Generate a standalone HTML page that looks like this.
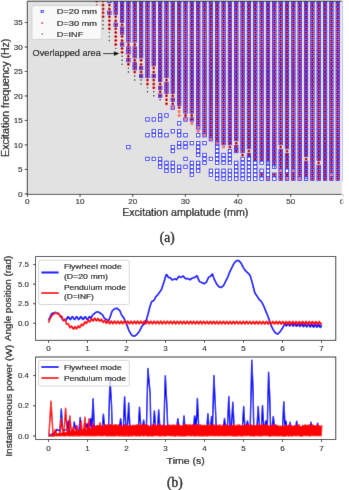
<!DOCTYPE html><html><head><meta charset="utf-8"><style>html,body{margin:0;padding:0;background:#fff;}svg{display:block;font-family:"Liberation Sans",sans-serif;will-change:transform;}</style></head><body><svg width="349" height="490" viewBox="0 0 349 490"><defs><clipPath id="ca"><rect x="27.4" y="1.0" width="315.6" height="193.1"/></clipPath><clipPath id="cb1"><rect x="35.6" y="256.6" width="300.2" height="83.7"/></clipPath><clipPath id="cb2"><rect x="35.6" y="357.0" width="300.2" height="82.4"/></clipPath><filter id="cv" x="0" y="0" width="349" height="490" filterUnits="userSpaceOnUse" primitiveUnits="userSpaceOnUse"><feConvolveMatrix order="3" kernelMatrix="0.0052 0.0619 0.0052 0.0619 0.7314 0.0619 0.0052 0.0619 0.0052" edgeMode="duplicate" preserveAlpha="true"/></filter></defs><g filter="url(#cv)"><rect width="349" height="490" fill="#fff"/><rect x="27.3" y="1.2" width="315.7" height="193.2" fill="#e2e2e2"/><g clip-path="url(#ca)"><g fill="#fff" stroke="#0000ff" stroke-width="0.75"><rect x="107.67" y="-0.70" width="3.4" height="3.4"/><rect x="107.67" y="11.14" width="3.4" height="3.4"/><rect x="114.02" y="-0.70" width="3.4" height="3.4"/><rect x="114.02" y="3.25" width="3.4" height="3.4"/><rect x="114.02" y="7.20" width="3.4" height="3.4"/><rect x="114.02" y="11.14" width="3.4" height="3.4"/><rect x="114.02" y="22.99" width="3.4" height="3.4"/><rect x="120.36" y="-0.70" width="3.4" height="3.4"/><rect x="120.36" y="3.25" width="3.4" height="3.4"/><rect x="120.36" y="7.20" width="3.4" height="3.4"/><rect x="120.36" y="11.14" width="3.4" height="3.4"/><rect x="120.36" y="15.09" width="3.4" height="3.4"/><rect x="120.36" y="19.04" width="3.4" height="3.4"/><rect x="120.36" y="26.94" width="3.4" height="3.4"/><rect x="120.36" y="30.88" width="3.4" height="3.4"/><rect x="120.36" y="42.73" width="3.4" height="3.4"/><rect x="126.70" y="-0.70" width="3.4" height="3.4"/><rect x="126.70" y="3.25" width="3.4" height="3.4"/><rect x="126.70" y="7.20" width="3.4" height="3.4"/><rect x="126.70" y="11.14" width="3.4" height="3.4"/><rect x="126.70" y="15.09" width="3.4" height="3.4"/><rect x="126.70" y="19.04" width="3.4" height="3.4"/><rect x="126.70" y="22.99" width="3.4" height="3.4"/><rect x="126.70" y="26.94" width="3.4" height="3.4"/><rect x="126.70" y="30.88" width="3.4" height="3.4"/><rect x="126.70" y="34.83" width="3.4" height="3.4"/><rect x="126.70" y="38.78" width="3.4" height="3.4"/><rect x="126.70" y="46.68" width="3.4" height="3.4"/><rect x="126.70" y="50.62" width="3.4" height="3.4"/><rect x="126.70" y="58.52" width="3.4" height="3.4"/><rect x="126.70" y="145.38" width="3.4" height="3.4"/><rect x="133.05" y="-0.70" width="3.4" height="3.4"/><rect x="133.05" y="3.25" width="3.4" height="3.4"/><rect x="133.05" y="7.20" width="3.4" height="3.4"/><rect x="133.05" y="11.14" width="3.4" height="3.4"/><rect x="133.05" y="15.09" width="3.4" height="3.4"/><rect x="133.05" y="19.04" width="3.4" height="3.4"/><rect x="133.05" y="22.99" width="3.4" height="3.4"/><rect x="133.05" y="26.94" width="3.4" height="3.4"/><rect x="133.05" y="30.88" width="3.4" height="3.4"/><rect x="133.05" y="34.83" width="3.4" height="3.4"/><rect x="133.05" y="38.78" width="3.4" height="3.4"/><rect x="133.05" y="46.68" width="3.4" height="3.4"/><rect x="133.05" y="50.62" width="3.4" height="3.4"/><rect x="133.05" y="54.57" width="3.4" height="3.4"/><rect x="133.05" y="62.47" width="3.4" height="3.4"/><rect x="133.05" y="66.42" width="3.4" height="3.4"/><rect x="139.39" y="-0.70" width="3.4" height="3.4"/><rect x="139.39" y="3.25" width="3.4" height="3.4"/><rect x="139.39" y="7.20" width="3.4" height="3.4"/><rect x="139.39" y="11.14" width="3.4" height="3.4"/><rect x="139.39" y="15.09" width="3.4" height="3.4"/><rect x="139.39" y="19.04" width="3.4" height="3.4"/><rect x="139.39" y="22.99" width="3.4" height="3.4"/><rect x="139.39" y="26.94" width="3.4" height="3.4"/><rect x="139.39" y="30.88" width="3.4" height="3.4"/><rect x="139.39" y="34.83" width="3.4" height="3.4"/><rect x="139.39" y="38.78" width="3.4" height="3.4"/><rect x="139.39" y="42.73" width="3.4" height="3.4"/><rect x="139.39" y="46.68" width="3.4" height="3.4"/><rect x="139.39" y="50.62" width="3.4" height="3.4"/><rect x="139.39" y="54.57" width="3.4" height="3.4"/><rect x="139.39" y="66.42" width="3.4" height="3.4"/><rect x="139.39" y="74.31" width="3.4" height="3.4"/><rect x="145.74" y="-0.70" width="3.4" height="3.4"/><rect x="145.74" y="3.25" width="3.4" height="3.4"/><rect x="145.74" y="7.20" width="3.4" height="3.4"/><rect x="145.74" y="11.14" width="3.4" height="3.4"/><rect x="145.74" y="15.09" width="3.4" height="3.4"/><rect x="145.74" y="19.04" width="3.4" height="3.4"/><rect x="145.74" y="22.99" width="3.4" height="3.4"/><rect x="145.74" y="26.94" width="3.4" height="3.4"/><rect x="145.74" y="30.88" width="3.4" height="3.4"/><rect x="145.74" y="34.83" width="3.4" height="3.4"/><rect x="145.74" y="38.78" width="3.4" height="3.4"/><rect x="145.74" y="42.73" width="3.4" height="3.4"/><rect x="145.74" y="46.68" width="3.4" height="3.4"/><rect x="145.74" y="50.62" width="3.4" height="3.4"/><rect x="145.74" y="54.57" width="3.4" height="3.4"/><rect x="145.74" y="58.52" width="3.4" height="3.4"/><rect x="145.74" y="62.47" width="3.4" height="3.4"/><rect x="145.74" y="66.42" width="3.4" height="3.4"/><rect x="145.74" y="70.36" width="3.4" height="3.4"/><rect x="145.74" y="74.31" width="3.4" height="3.4"/><rect x="145.74" y="117.74" width="3.4" height="3.4"/><rect x="145.74" y="133.53" width="3.4" height="3.4"/><rect x="145.74" y="157.22" width="3.4" height="3.4"/><rect x="152.08" y="-0.70" width="3.4" height="3.4"/><rect x="152.08" y="3.25" width="3.4" height="3.4"/><rect x="152.08" y="7.20" width="3.4" height="3.4"/><rect x="152.08" y="11.14" width="3.4" height="3.4"/><rect x="152.08" y="15.09" width="3.4" height="3.4"/><rect x="152.08" y="19.04" width="3.4" height="3.4"/><rect x="152.08" y="22.99" width="3.4" height="3.4"/><rect x="152.08" y="26.94" width="3.4" height="3.4"/><rect x="152.08" y="30.88" width="3.4" height="3.4"/><rect x="152.08" y="34.83" width="3.4" height="3.4"/><rect x="152.08" y="38.78" width="3.4" height="3.4"/><rect x="152.08" y="42.73" width="3.4" height="3.4"/><rect x="152.08" y="46.68" width="3.4" height="3.4"/><rect x="152.08" y="50.62" width="3.4" height="3.4"/><rect x="152.08" y="54.57" width="3.4" height="3.4"/><rect x="152.08" y="58.52" width="3.4" height="3.4"/><rect x="152.08" y="62.47" width="3.4" height="3.4"/><rect x="152.08" y="74.31" width="3.4" height="3.4"/><rect x="152.08" y="117.74" width="3.4" height="3.4"/><rect x="152.08" y="129.58" width="3.4" height="3.4"/><rect x="152.08" y="133.53" width="3.4" height="3.4"/><rect x="152.08" y="157.22" width="3.4" height="3.4"/><rect x="158.42" y="-0.70" width="3.4" height="3.4"/><rect x="158.42" y="3.25" width="3.4" height="3.4"/><rect x="158.42" y="7.20" width="3.4" height="3.4"/><rect x="158.42" y="11.14" width="3.4" height="3.4"/><rect x="158.42" y="15.09" width="3.4" height="3.4"/><rect x="158.42" y="19.04" width="3.4" height="3.4"/><rect x="158.42" y="22.99" width="3.4" height="3.4"/><rect x="158.42" y="26.94" width="3.4" height="3.4"/><rect x="158.42" y="30.88" width="3.4" height="3.4"/><rect x="158.42" y="34.83" width="3.4" height="3.4"/><rect x="158.42" y="38.78" width="3.4" height="3.4"/><rect x="158.42" y="42.73" width="3.4" height="3.4"/><rect x="158.42" y="46.68" width="3.4" height="3.4"/><rect x="158.42" y="50.62" width="3.4" height="3.4"/><rect x="158.42" y="54.57" width="3.4" height="3.4"/><rect x="158.42" y="58.52" width="3.4" height="3.4"/><rect x="158.42" y="62.47" width="3.4" height="3.4"/><rect x="158.42" y="66.42" width="3.4" height="3.4"/><rect x="158.42" y="70.36" width="3.4" height="3.4"/><rect x="158.42" y="74.31" width="3.4" height="3.4"/><rect x="158.42" y="78.26" width="3.4" height="3.4"/><rect x="158.42" y="86.16" width="3.4" height="3.4"/><rect x="158.42" y="94.05" width="3.4" height="3.4"/><rect x="158.42" y="113.79" width="3.4" height="3.4"/><rect x="158.42" y="117.74" width="3.4" height="3.4"/><rect x="158.42" y="129.58" width="3.4" height="3.4"/><rect x="158.42" y="133.53" width="3.4" height="3.4"/><rect x="158.42" y="157.22" width="3.4" height="3.4"/><rect x="158.42" y="161.17" width="3.4" height="3.4"/><rect x="158.42" y="165.12" width="3.4" height="3.4"/><rect x="164.77" y="-0.70" width="3.4" height="3.4"/><rect x="164.77" y="3.25" width="3.4" height="3.4"/><rect x="164.77" y="7.20" width="3.4" height="3.4"/><rect x="164.77" y="11.14" width="3.4" height="3.4"/><rect x="164.77" y="15.09" width="3.4" height="3.4"/><rect x="164.77" y="19.04" width="3.4" height="3.4"/><rect x="164.77" y="22.99" width="3.4" height="3.4"/><rect x="164.77" y="26.94" width="3.4" height="3.4"/><rect x="164.77" y="30.88" width="3.4" height="3.4"/><rect x="164.77" y="34.83" width="3.4" height="3.4"/><rect x="164.77" y="38.78" width="3.4" height="3.4"/><rect x="164.77" y="42.73" width="3.4" height="3.4"/><rect x="164.77" y="46.68" width="3.4" height="3.4"/><rect x="164.77" y="50.62" width="3.4" height="3.4"/><rect x="164.77" y="54.57" width="3.4" height="3.4"/><rect x="164.77" y="58.52" width="3.4" height="3.4"/><rect x="164.77" y="62.47" width="3.4" height="3.4"/><rect x="164.77" y="66.42" width="3.4" height="3.4"/><rect x="164.77" y="70.36" width="3.4" height="3.4"/><rect x="164.77" y="74.31" width="3.4" height="3.4"/><rect x="164.77" y="82.21" width="3.4" height="3.4"/><rect x="164.77" y="86.16" width="3.4" height="3.4"/><rect x="164.77" y="90.10" width="3.4" height="3.4"/><rect x="164.77" y="113.79" width="3.4" height="3.4"/><rect x="164.77" y="133.53" width="3.4" height="3.4"/><rect x="164.77" y="161.17" width="3.4" height="3.4"/><rect x="164.77" y="165.12" width="3.4" height="3.4"/><rect x="164.77" y="169.06" width="3.4" height="3.4"/><rect x="171.11" y="-0.70" width="3.4" height="3.4"/><rect x="171.11" y="3.25" width="3.4" height="3.4"/><rect x="171.11" y="7.20" width="3.4" height="3.4"/><rect x="171.11" y="11.14" width="3.4" height="3.4"/><rect x="171.11" y="15.09" width="3.4" height="3.4"/><rect x="171.11" y="19.04" width="3.4" height="3.4"/><rect x="171.11" y="22.99" width="3.4" height="3.4"/><rect x="171.11" y="26.94" width="3.4" height="3.4"/><rect x="171.11" y="30.88" width="3.4" height="3.4"/><rect x="171.11" y="34.83" width="3.4" height="3.4"/><rect x="171.11" y="38.78" width="3.4" height="3.4"/><rect x="171.11" y="42.73" width="3.4" height="3.4"/><rect x="171.11" y="46.68" width="3.4" height="3.4"/><rect x="171.11" y="50.62" width="3.4" height="3.4"/><rect x="171.11" y="54.57" width="3.4" height="3.4"/><rect x="171.11" y="58.52" width="3.4" height="3.4"/><rect x="171.11" y="62.47" width="3.4" height="3.4"/><rect x="171.11" y="66.42" width="3.4" height="3.4"/><rect x="171.11" y="70.36" width="3.4" height="3.4"/><rect x="171.11" y="74.31" width="3.4" height="3.4"/><rect x="171.11" y="78.26" width="3.4" height="3.4"/><rect x="171.11" y="82.21" width="3.4" height="3.4"/><rect x="171.11" y="86.16" width="3.4" height="3.4"/><rect x="171.11" y="90.10" width="3.4" height="3.4"/><rect x="171.11" y="98.00" width="3.4" height="3.4"/><rect x="171.11" y="105.90" width="3.4" height="3.4"/><rect x="171.11" y="129.58" width="3.4" height="3.4"/><rect x="171.11" y="145.38" width="3.4" height="3.4"/><rect x="171.11" y="149.32" width="3.4" height="3.4"/><rect x="171.11" y="161.17" width="3.4" height="3.4"/><rect x="171.11" y="165.12" width="3.4" height="3.4"/><rect x="171.11" y="169.06" width="3.4" height="3.4"/><rect x="177.46" y="-0.70" width="3.4" height="3.4"/><rect x="177.46" y="3.25" width="3.4" height="3.4"/><rect x="177.46" y="7.20" width="3.4" height="3.4"/><rect x="177.46" y="11.14" width="3.4" height="3.4"/><rect x="177.46" y="15.09" width="3.4" height="3.4"/><rect x="177.46" y="19.04" width="3.4" height="3.4"/><rect x="177.46" y="22.99" width="3.4" height="3.4"/><rect x="177.46" y="26.94" width="3.4" height="3.4"/><rect x="177.46" y="30.88" width="3.4" height="3.4"/><rect x="177.46" y="34.83" width="3.4" height="3.4"/><rect x="177.46" y="38.78" width="3.4" height="3.4"/><rect x="177.46" y="42.73" width="3.4" height="3.4"/><rect x="177.46" y="46.68" width="3.4" height="3.4"/><rect x="177.46" y="50.62" width="3.4" height="3.4"/><rect x="177.46" y="54.57" width="3.4" height="3.4"/><rect x="177.46" y="58.52" width="3.4" height="3.4"/><rect x="177.46" y="62.47" width="3.4" height="3.4"/><rect x="177.46" y="66.42" width="3.4" height="3.4"/><rect x="177.46" y="70.36" width="3.4" height="3.4"/><rect x="177.46" y="74.31" width="3.4" height="3.4"/><rect x="177.46" y="78.26" width="3.4" height="3.4"/><rect x="177.46" y="82.21" width="3.4" height="3.4"/><rect x="177.46" y="86.16" width="3.4" height="3.4"/><rect x="177.46" y="90.10" width="3.4" height="3.4"/><rect x="177.46" y="94.05" width="3.4" height="3.4"/><rect x="177.46" y="98.00" width="3.4" height="3.4"/><rect x="177.46" y="101.95" width="3.4" height="3.4"/><rect x="177.46" y="121.69" width="3.4" height="3.4"/><rect x="177.46" y="129.58" width="3.4" height="3.4"/><rect x="177.46" y="133.53" width="3.4" height="3.4"/><rect x="177.46" y="141.43" width="3.4" height="3.4"/><rect x="177.46" y="145.38" width="3.4" height="3.4"/><rect x="177.46" y="165.12" width="3.4" height="3.4"/><rect x="177.46" y="169.06" width="3.4" height="3.4"/><rect x="183.80" y="-0.70" width="3.4" height="3.4"/><rect x="183.80" y="3.25" width="3.4" height="3.4"/><rect x="183.80" y="7.20" width="3.4" height="3.4"/><rect x="183.80" y="11.14" width="3.4" height="3.4"/><rect x="183.80" y="15.09" width="3.4" height="3.4"/><rect x="183.80" y="19.04" width="3.4" height="3.4"/><rect x="183.80" y="22.99" width="3.4" height="3.4"/><rect x="183.80" y="26.94" width="3.4" height="3.4"/><rect x="183.80" y="30.88" width="3.4" height="3.4"/><rect x="183.80" y="34.83" width="3.4" height="3.4"/><rect x="183.80" y="38.78" width="3.4" height="3.4"/><rect x="183.80" y="42.73" width="3.4" height="3.4"/><rect x="183.80" y="46.68" width="3.4" height="3.4"/><rect x="183.80" y="50.62" width="3.4" height="3.4"/><rect x="183.80" y="54.57" width="3.4" height="3.4"/><rect x="183.80" y="58.52" width="3.4" height="3.4"/><rect x="183.80" y="62.47" width="3.4" height="3.4"/><rect x="183.80" y="66.42" width="3.4" height="3.4"/><rect x="183.80" y="70.36" width="3.4" height="3.4"/><rect x="183.80" y="74.31" width="3.4" height="3.4"/><rect x="183.80" y="78.26" width="3.4" height="3.4"/><rect x="183.80" y="82.21" width="3.4" height="3.4"/><rect x="183.80" y="86.16" width="3.4" height="3.4"/><rect x="183.80" y="90.10" width="3.4" height="3.4"/><rect x="183.80" y="94.05" width="3.4" height="3.4"/><rect x="183.80" y="98.00" width="3.4" height="3.4"/><rect x="183.80" y="101.95" width="3.4" height="3.4"/><rect x="183.80" y="105.90" width="3.4" height="3.4"/><rect x="183.80" y="109.84" width="3.4" height="3.4"/><rect x="183.80" y="117.74" width="3.4" height="3.4"/><rect x="183.80" y="133.53" width="3.4" height="3.4"/><rect x="183.80" y="141.43" width="3.4" height="3.4"/><rect x="183.80" y="145.38" width="3.4" height="3.4"/><rect x="183.80" y="157.22" width="3.4" height="3.4"/><rect x="183.80" y="165.12" width="3.4" height="3.4"/><rect x="190.14" y="-0.70" width="3.4" height="3.4"/><rect x="190.14" y="3.25" width="3.4" height="3.4"/><rect x="190.14" y="7.20" width="3.4" height="3.4"/><rect x="190.14" y="11.14" width="3.4" height="3.4"/><rect x="190.14" y="15.09" width="3.4" height="3.4"/><rect x="190.14" y="19.04" width="3.4" height="3.4"/><rect x="190.14" y="22.99" width="3.4" height="3.4"/><rect x="190.14" y="26.94" width="3.4" height="3.4"/><rect x="190.14" y="30.88" width="3.4" height="3.4"/><rect x="190.14" y="34.83" width="3.4" height="3.4"/><rect x="190.14" y="38.78" width="3.4" height="3.4"/><rect x="190.14" y="42.73" width="3.4" height="3.4"/><rect x="190.14" y="46.68" width="3.4" height="3.4"/><rect x="190.14" y="50.62" width="3.4" height="3.4"/><rect x="190.14" y="54.57" width="3.4" height="3.4"/><rect x="190.14" y="58.52" width="3.4" height="3.4"/><rect x="190.14" y="62.47" width="3.4" height="3.4"/><rect x="190.14" y="66.42" width="3.4" height="3.4"/><rect x="190.14" y="70.36" width="3.4" height="3.4"/><rect x="190.14" y="74.31" width="3.4" height="3.4"/><rect x="190.14" y="78.26" width="3.4" height="3.4"/><rect x="190.14" y="82.21" width="3.4" height="3.4"/><rect x="190.14" y="86.16" width="3.4" height="3.4"/><rect x="190.14" y="90.10" width="3.4" height="3.4"/><rect x="190.14" y="94.05" width="3.4" height="3.4"/><rect x="190.14" y="98.00" width="3.4" height="3.4"/><rect x="190.14" y="101.95" width="3.4" height="3.4"/><rect x="190.14" y="105.90" width="3.4" height="3.4"/><rect x="190.14" y="109.84" width="3.4" height="3.4"/><rect x="190.14" y="117.74" width="3.4" height="3.4"/><rect x="190.14" y="141.43" width="3.4" height="3.4"/><rect x="190.14" y="161.17" width="3.4" height="3.4"/><rect x="190.14" y="165.12" width="3.4" height="3.4"/><rect x="190.14" y="169.06" width="3.4" height="3.4"/><rect x="190.14" y="173.01" width="3.4" height="3.4"/><rect x="196.49" y="-0.70" width="3.4" height="3.4"/><rect x="196.49" y="3.25" width="3.4" height="3.4"/><rect x="196.49" y="7.20" width="3.4" height="3.4"/><rect x="196.49" y="11.14" width="3.4" height="3.4"/><rect x="196.49" y="15.09" width="3.4" height="3.4"/><rect x="196.49" y="19.04" width="3.4" height="3.4"/><rect x="196.49" y="22.99" width="3.4" height="3.4"/><rect x="196.49" y="26.94" width="3.4" height="3.4"/><rect x="196.49" y="30.88" width="3.4" height="3.4"/><rect x="196.49" y="34.83" width="3.4" height="3.4"/><rect x="196.49" y="38.78" width="3.4" height="3.4"/><rect x="196.49" y="42.73" width="3.4" height="3.4"/><rect x="196.49" y="46.68" width="3.4" height="3.4"/><rect x="196.49" y="50.62" width="3.4" height="3.4"/><rect x="196.49" y="54.57" width="3.4" height="3.4"/><rect x="196.49" y="58.52" width="3.4" height="3.4"/><rect x="196.49" y="62.47" width="3.4" height="3.4"/><rect x="196.49" y="66.42" width="3.4" height="3.4"/><rect x="196.49" y="70.36" width="3.4" height="3.4"/><rect x="196.49" y="74.31" width="3.4" height="3.4"/><rect x="196.49" y="78.26" width="3.4" height="3.4"/><rect x="196.49" y="82.21" width="3.4" height="3.4"/><rect x="196.49" y="86.16" width="3.4" height="3.4"/><rect x="196.49" y="90.10" width="3.4" height="3.4"/><rect x="196.49" y="94.05" width="3.4" height="3.4"/><rect x="196.49" y="98.00" width="3.4" height="3.4"/><rect x="196.49" y="101.95" width="3.4" height="3.4"/><rect x="196.49" y="105.90" width="3.4" height="3.4"/><rect x="196.49" y="109.84" width="3.4" height="3.4"/><rect x="196.49" y="113.79" width="3.4" height="3.4"/><rect x="196.49" y="117.74" width="3.4" height="3.4"/><rect x="196.49" y="121.69" width="3.4" height="3.4"/><rect x="196.49" y="125.64" width="3.4" height="3.4"/><rect x="196.49" y="133.53" width="3.4" height="3.4"/><rect x="196.49" y="141.43" width="3.4" height="3.4"/><rect x="196.49" y="145.38" width="3.4" height="3.4"/><rect x="196.49" y="149.32" width="3.4" height="3.4"/><rect x="196.49" y="153.27" width="3.4" height="3.4"/><rect x="196.49" y="161.17" width="3.4" height="3.4"/><rect x="196.49" y="165.12" width="3.4" height="3.4"/><rect x="196.49" y="169.06" width="3.4" height="3.4"/><rect x="202.83" y="-0.70" width="3.4" height="3.4"/><rect x="202.83" y="3.25" width="3.4" height="3.4"/><rect x="202.83" y="7.20" width="3.4" height="3.4"/><rect x="202.83" y="11.14" width="3.4" height="3.4"/><rect x="202.83" y="15.09" width="3.4" height="3.4"/><rect x="202.83" y="19.04" width="3.4" height="3.4"/><rect x="202.83" y="22.99" width="3.4" height="3.4"/><rect x="202.83" y="26.94" width="3.4" height="3.4"/><rect x="202.83" y="30.88" width="3.4" height="3.4"/><rect x="202.83" y="34.83" width="3.4" height="3.4"/><rect x="202.83" y="38.78" width="3.4" height="3.4"/><rect x="202.83" y="42.73" width="3.4" height="3.4"/><rect x="202.83" y="46.68" width="3.4" height="3.4"/><rect x="202.83" y="50.62" width="3.4" height="3.4"/><rect x="202.83" y="54.57" width="3.4" height="3.4"/><rect x="202.83" y="58.52" width="3.4" height="3.4"/><rect x="202.83" y="62.47" width="3.4" height="3.4"/><rect x="202.83" y="66.42" width="3.4" height="3.4"/><rect x="202.83" y="70.36" width="3.4" height="3.4"/><rect x="202.83" y="74.31" width="3.4" height="3.4"/><rect x="202.83" y="78.26" width="3.4" height="3.4"/><rect x="202.83" y="82.21" width="3.4" height="3.4"/><rect x="202.83" y="86.16" width="3.4" height="3.4"/><rect x="202.83" y="90.10" width="3.4" height="3.4"/><rect x="202.83" y="94.05" width="3.4" height="3.4"/><rect x="202.83" y="98.00" width="3.4" height="3.4"/><rect x="202.83" y="101.95" width="3.4" height="3.4"/><rect x="202.83" y="105.90" width="3.4" height="3.4"/><rect x="202.83" y="109.84" width="3.4" height="3.4"/><rect x="202.83" y="113.79" width="3.4" height="3.4"/><rect x="202.83" y="117.74" width="3.4" height="3.4"/><rect x="202.83" y="121.69" width="3.4" height="3.4"/><rect x="202.83" y="125.64" width="3.4" height="3.4"/><rect x="202.83" y="129.58" width="3.4" height="3.4"/><rect x="202.83" y="133.53" width="3.4" height="3.4"/><rect x="202.83" y="141.43" width="3.4" height="3.4"/><rect x="202.83" y="153.27" width="3.4" height="3.4"/><rect x="202.83" y="157.22" width="3.4" height="3.4"/><rect x="202.83" y="161.17" width="3.4" height="3.4"/><rect x="209.18" y="-0.70" width="3.4" height="3.4"/><rect x="209.18" y="3.25" width="3.4" height="3.4"/><rect x="209.18" y="7.20" width="3.4" height="3.4"/><rect x="209.18" y="11.14" width="3.4" height="3.4"/><rect x="209.18" y="15.09" width="3.4" height="3.4"/><rect x="209.18" y="19.04" width="3.4" height="3.4"/><rect x="209.18" y="22.99" width="3.4" height="3.4"/><rect x="209.18" y="26.94" width="3.4" height="3.4"/><rect x="209.18" y="30.88" width="3.4" height="3.4"/><rect x="209.18" y="34.83" width="3.4" height="3.4"/><rect x="209.18" y="38.78" width="3.4" height="3.4"/><rect x="209.18" y="42.73" width="3.4" height="3.4"/><rect x="209.18" y="46.68" width="3.4" height="3.4"/><rect x="209.18" y="50.62" width="3.4" height="3.4"/><rect x="209.18" y="54.57" width="3.4" height="3.4"/><rect x="209.18" y="58.52" width="3.4" height="3.4"/><rect x="209.18" y="62.47" width="3.4" height="3.4"/><rect x="209.18" y="66.42" width="3.4" height="3.4"/><rect x="209.18" y="70.36" width="3.4" height="3.4"/><rect x="209.18" y="74.31" width="3.4" height="3.4"/><rect x="209.18" y="78.26" width="3.4" height="3.4"/><rect x="209.18" y="82.21" width="3.4" height="3.4"/><rect x="209.18" y="86.16" width="3.4" height="3.4"/><rect x="209.18" y="90.10" width="3.4" height="3.4"/><rect x="209.18" y="94.05" width="3.4" height="3.4"/><rect x="209.18" y="98.00" width="3.4" height="3.4"/><rect x="209.18" y="101.95" width="3.4" height="3.4"/><rect x="209.18" y="105.90" width="3.4" height="3.4"/><rect x="209.18" y="109.84" width="3.4" height="3.4"/><rect x="209.18" y="113.79" width="3.4" height="3.4"/><rect x="209.18" y="117.74" width="3.4" height="3.4"/><rect x="209.18" y="121.69" width="3.4" height="3.4"/><rect x="209.18" y="125.64" width="3.4" height="3.4"/><rect x="209.18" y="129.58" width="3.4" height="3.4"/><rect x="209.18" y="133.53" width="3.4" height="3.4"/><rect x="209.18" y="137.48" width="3.4" height="3.4"/><rect x="209.18" y="157.22" width="3.4" height="3.4"/><rect x="209.18" y="169.06" width="3.4" height="3.4"/><rect x="209.18" y="173.01" width="3.4" height="3.4"/><rect x="215.52" y="-0.70" width="3.4" height="3.4"/><rect x="215.52" y="3.25" width="3.4" height="3.4"/><rect x="215.52" y="7.20" width="3.4" height="3.4"/><rect x="215.52" y="11.14" width="3.4" height="3.4"/><rect x="215.52" y="15.09" width="3.4" height="3.4"/><rect x="215.52" y="19.04" width="3.4" height="3.4"/><rect x="215.52" y="22.99" width="3.4" height="3.4"/><rect x="215.52" y="26.94" width="3.4" height="3.4"/><rect x="215.52" y="30.88" width="3.4" height="3.4"/><rect x="215.52" y="34.83" width="3.4" height="3.4"/><rect x="215.52" y="38.78" width="3.4" height="3.4"/><rect x="215.52" y="42.73" width="3.4" height="3.4"/><rect x="215.52" y="46.68" width="3.4" height="3.4"/><rect x="215.52" y="50.62" width="3.4" height="3.4"/><rect x="215.52" y="54.57" width="3.4" height="3.4"/><rect x="215.52" y="58.52" width="3.4" height="3.4"/><rect x="215.52" y="62.47" width="3.4" height="3.4"/><rect x="215.52" y="66.42" width="3.4" height="3.4"/><rect x="215.52" y="70.36" width="3.4" height="3.4"/><rect x="215.52" y="74.31" width="3.4" height="3.4"/><rect x="215.52" y="78.26" width="3.4" height="3.4"/><rect x="215.52" y="82.21" width="3.4" height="3.4"/><rect x="215.52" y="86.16" width="3.4" height="3.4"/><rect x="215.52" y="90.10" width="3.4" height="3.4"/><rect x="215.52" y="94.05" width="3.4" height="3.4"/><rect x="215.52" y="98.00" width="3.4" height="3.4"/><rect x="215.52" y="101.95" width="3.4" height="3.4"/><rect x="215.52" y="105.90" width="3.4" height="3.4"/><rect x="215.52" y="109.84" width="3.4" height="3.4"/><rect x="215.52" y="113.79" width="3.4" height="3.4"/><rect x="215.52" y="117.74" width="3.4" height="3.4"/><rect x="215.52" y="121.69" width="3.4" height="3.4"/><rect x="215.52" y="125.64" width="3.4" height="3.4"/><rect x="215.52" y="129.58" width="3.4" height="3.4"/><rect x="215.52" y="133.53" width="3.4" height="3.4"/><rect x="215.52" y="137.48" width="3.4" height="3.4"/><rect x="215.52" y="141.43" width="3.4" height="3.4"/><rect x="215.52" y="145.38" width="3.4" height="3.4"/><rect x="215.52" y="149.32" width="3.4" height="3.4"/><rect x="215.52" y="153.27" width="3.4" height="3.4"/><rect x="215.52" y="157.22" width="3.4" height="3.4"/><rect x="215.52" y="161.17" width="3.4" height="3.4"/><rect x="215.52" y="169.06" width="3.4" height="3.4"/><rect x="215.52" y="173.01" width="3.4" height="3.4"/><rect x="215.52" y="176.96" width="3.4" height="3.4"/><rect x="221.86" y="-0.70" width="3.4" height="3.4"/><rect x="221.86" y="3.25" width="3.4" height="3.4"/><rect x="221.86" y="7.20" width="3.4" height="3.4"/><rect x="221.86" y="11.14" width="3.4" height="3.4"/><rect x="221.86" y="15.09" width="3.4" height="3.4"/><rect x="221.86" y="19.04" width="3.4" height="3.4"/><rect x="221.86" y="22.99" width="3.4" height="3.4"/><rect x="221.86" y="26.94" width="3.4" height="3.4"/><rect x="221.86" y="30.88" width="3.4" height="3.4"/><rect x="221.86" y="34.83" width="3.4" height="3.4"/><rect x="221.86" y="38.78" width="3.4" height="3.4"/><rect x="221.86" y="42.73" width="3.4" height="3.4"/><rect x="221.86" y="46.68" width="3.4" height="3.4"/><rect x="221.86" y="50.62" width="3.4" height="3.4"/><rect x="221.86" y="54.57" width="3.4" height="3.4"/><rect x="221.86" y="58.52" width="3.4" height="3.4"/><rect x="221.86" y="62.47" width="3.4" height="3.4"/><rect x="221.86" y="66.42" width="3.4" height="3.4"/><rect x="221.86" y="70.36" width="3.4" height="3.4"/><rect x="221.86" y="74.31" width="3.4" height="3.4"/><rect x="221.86" y="78.26" width="3.4" height="3.4"/><rect x="221.86" y="82.21" width="3.4" height="3.4"/><rect x="221.86" y="86.16" width="3.4" height="3.4"/><rect x="221.86" y="90.10" width="3.4" height="3.4"/><rect x="221.86" y="94.05" width="3.4" height="3.4"/><rect x="221.86" y="98.00" width="3.4" height="3.4"/><rect x="221.86" y="101.95" width="3.4" height="3.4"/><rect x="221.86" y="105.90" width="3.4" height="3.4"/><rect x="221.86" y="109.84" width="3.4" height="3.4"/><rect x="221.86" y="113.79" width="3.4" height="3.4"/><rect x="221.86" y="117.74" width="3.4" height="3.4"/><rect x="221.86" y="121.69" width="3.4" height="3.4"/><rect x="221.86" y="125.64" width="3.4" height="3.4"/><rect x="221.86" y="129.58" width="3.4" height="3.4"/><rect x="221.86" y="133.53" width="3.4" height="3.4"/><rect x="221.86" y="137.48" width="3.4" height="3.4"/><rect x="221.86" y="141.43" width="3.4" height="3.4"/><rect x="221.86" y="153.27" width="3.4" height="3.4"/><rect x="221.86" y="157.22" width="3.4" height="3.4"/><rect x="221.86" y="161.17" width="3.4" height="3.4"/><rect x="221.86" y="169.06" width="3.4" height="3.4"/><rect x="221.86" y="173.01" width="3.4" height="3.4"/><rect x="221.86" y="176.96" width="3.4" height="3.4"/><rect x="228.21" y="-0.70" width="3.4" height="3.4"/><rect x="228.21" y="3.25" width="3.4" height="3.4"/><rect x="228.21" y="7.20" width="3.4" height="3.4"/><rect x="228.21" y="11.14" width="3.4" height="3.4"/><rect x="228.21" y="15.09" width="3.4" height="3.4"/><rect x="228.21" y="19.04" width="3.4" height="3.4"/><rect x="228.21" y="22.99" width="3.4" height="3.4"/><rect x="228.21" y="26.94" width="3.4" height="3.4"/><rect x="228.21" y="30.88" width="3.4" height="3.4"/><rect x="228.21" y="34.83" width="3.4" height="3.4"/><rect x="228.21" y="38.78" width="3.4" height="3.4"/><rect x="228.21" y="42.73" width="3.4" height="3.4"/><rect x="228.21" y="46.68" width="3.4" height="3.4"/><rect x="228.21" y="50.62" width="3.4" height="3.4"/><rect x="228.21" y="54.57" width="3.4" height="3.4"/><rect x="228.21" y="58.52" width="3.4" height="3.4"/><rect x="228.21" y="62.47" width="3.4" height="3.4"/><rect x="228.21" y="66.42" width="3.4" height="3.4"/><rect x="228.21" y="70.36" width="3.4" height="3.4"/><rect x="228.21" y="74.31" width="3.4" height="3.4"/><rect x="228.21" y="78.26" width="3.4" height="3.4"/><rect x="228.21" y="82.21" width="3.4" height="3.4"/><rect x="228.21" y="86.16" width="3.4" height="3.4"/><rect x="228.21" y="90.10" width="3.4" height="3.4"/><rect x="228.21" y="94.05" width="3.4" height="3.4"/><rect x="228.21" y="98.00" width="3.4" height="3.4"/><rect x="228.21" y="101.95" width="3.4" height="3.4"/><rect x="228.21" y="105.90" width="3.4" height="3.4"/><rect x="228.21" y="109.84" width="3.4" height="3.4"/><rect x="228.21" y="113.79" width="3.4" height="3.4"/><rect x="228.21" y="117.74" width="3.4" height="3.4"/><rect x="228.21" y="121.69" width="3.4" height="3.4"/><rect x="228.21" y="125.64" width="3.4" height="3.4"/><rect x="228.21" y="129.58" width="3.4" height="3.4"/><rect x="228.21" y="133.53" width="3.4" height="3.4"/><rect x="228.21" y="137.48" width="3.4" height="3.4"/><rect x="228.21" y="141.43" width="3.4" height="3.4"/><rect x="228.21" y="149.32" width="3.4" height="3.4"/><rect x="228.21" y="153.27" width="3.4" height="3.4"/><rect x="228.21" y="157.22" width="3.4" height="3.4"/><rect x="228.21" y="161.17" width="3.4" height="3.4"/><rect x="228.21" y="169.06" width="3.4" height="3.4"/><rect x="228.21" y="173.01" width="3.4" height="3.4"/><rect x="228.21" y="176.96" width="3.4" height="3.4"/><rect x="234.55" y="-0.70" width="3.4" height="3.4"/><rect x="234.55" y="3.25" width="3.4" height="3.4"/><rect x="234.55" y="7.20" width="3.4" height="3.4"/><rect x="234.55" y="11.14" width="3.4" height="3.4"/><rect x="234.55" y="15.09" width="3.4" height="3.4"/><rect x="234.55" y="19.04" width="3.4" height="3.4"/><rect x="234.55" y="22.99" width="3.4" height="3.4"/><rect x="234.55" y="26.94" width="3.4" height="3.4"/><rect x="234.55" y="30.88" width="3.4" height="3.4"/><rect x="234.55" y="34.83" width="3.4" height="3.4"/><rect x="234.55" y="38.78" width="3.4" height="3.4"/><rect x="234.55" y="42.73" width="3.4" height="3.4"/><rect x="234.55" y="46.68" width="3.4" height="3.4"/><rect x="234.55" y="50.62" width="3.4" height="3.4"/><rect x="234.55" y="54.57" width="3.4" height="3.4"/><rect x="234.55" y="58.52" width="3.4" height="3.4"/><rect x="234.55" y="62.47" width="3.4" height="3.4"/><rect x="234.55" y="66.42" width="3.4" height="3.4"/><rect x="234.55" y="70.36" width="3.4" height="3.4"/><rect x="234.55" y="74.31" width="3.4" height="3.4"/><rect x="234.55" y="78.26" width="3.4" height="3.4"/><rect x="234.55" y="82.21" width="3.4" height="3.4"/><rect x="234.55" y="86.16" width="3.4" height="3.4"/><rect x="234.55" y="90.10" width="3.4" height="3.4"/><rect x="234.55" y="94.05" width="3.4" height="3.4"/><rect x="234.55" y="98.00" width="3.4" height="3.4"/><rect x="234.55" y="101.95" width="3.4" height="3.4"/><rect x="234.55" y="105.90" width="3.4" height="3.4"/><rect x="234.55" y="109.84" width="3.4" height="3.4"/><rect x="234.55" y="113.79" width="3.4" height="3.4"/><rect x="234.55" y="117.74" width="3.4" height="3.4"/><rect x="234.55" y="121.69" width="3.4" height="3.4"/><rect x="234.55" y="125.64" width="3.4" height="3.4"/><rect x="234.55" y="129.58" width="3.4" height="3.4"/><rect x="234.55" y="133.53" width="3.4" height="3.4"/><rect x="234.55" y="137.48" width="3.4" height="3.4"/><rect x="234.55" y="145.38" width="3.4" height="3.4"/><rect x="234.55" y="149.32" width="3.4" height="3.4"/><rect x="234.55" y="161.17" width="3.4" height="3.4"/><rect x="234.55" y="165.12" width="3.4" height="3.4"/><rect x="234.55" y="169.06" width="3.4" height="3.4"/><rect x="234.55" y="173.01" width="3.4" height="3.4"/><rect x="234.55" y="176.96" width="3.4" height="3.4"/><rect x="240.90" y="-0.70" width="3.4" height="3.4"/><rect x="240.90" y="3.25" width="3.4" height="3.4"/><rect x="240.90" y="7.20" width="3.4" height="3.4"/><rect x="240.90" y="11.14" width="3.4" height="3.4"/><rect x="240.90" y="15.09" width="3.4" height="3.4"/><rect x="240.90" y="19.04" width="3.4" height="3.4"/><rect x="240.90" y="22.99" width="3.4" height="3.4"/><rect x="240.90" y="26.94" width="3.4" height="3.4"/><rect x="240.90" y="30.88" width="3.4" height="3.4"/><rect x="240.90" y="34.83" width="3.4" height="3.4"/><rect x="240.90" y="38.78" width="3.4" height="3.4"/><rect x="240.90" y="42.73" width="3.4" height="3.4"/><rect x="240.90" y="46.68" width="3.4" height="3.4"/><rect x="240.90" y="50.62" width="3.4" height="3.4"/><rect x="240.90" y="54.57" width="3.4" height="3.4"/><rect x="240.90" y="58.52" width="3.4" height="3.4"/><rect x="240.90" y="62.47" width="3.4" height="3.4"/><rect x="240.90" y="66.42" width="3.4" height="3.4"/><rect x="240.90" y="70.36" width="3.4" height="3.4"/><rect x="240.90" y="74.31" width="3.4" height="3.4"/><rect x="240.90" y="78.26" width="3.4" height="3.4"/><rect x="240.90" y="82.21" width="3.4" height="3.4"/><rect x="240.90" y="86.16" width="3.4" height="3.4"/><rect x="240.90" y="90.10" width="3.4" height="3.4"/><rect x="240.90" y="94.05" width="3.4" height="3.4"/><rect x="240.90" y="98.00" width="3.4" height="3.4"/><rect x="240.90" y="101.95" width="3.4" height="3.4"/><rect x="240.90" y="105.90" width="3.4" height="3.4"/><rect x="240.90" y="109.84" width="3.4" height="3.4"/><rect x="240.90" y="113.79" width="3.4" height="3.4"/><rect x="240.90" y="117.74" width="3.4" height="3.4"/><rect x="240.90" y="121.69" width="3.4" height="3.4"/><rect x="240.90" y="125.64" width="3.4" height="3.4"/><rect x="240.90" y="129.58" width="3.4" height="3.4"/><rect x="240.90" y="133.53" width="3.4" height="3.4"/><rect x="240.90" y="137.48" width="3.4" height="3.4"/><rect x="240.90" y="141.43" width="3.4" height="3.4"/><rect x="240.90" y="145.38" width="3.4" height="3.4"/><rect x="240.90" y="149.32" width="3.4" height="3.4"/><rect x="240.90" y="157.22" width="3.4" height="3.4"/><rect x="240.90" y="161.17" width="3.4" height="3.4"/><rect x="240.90" y="165.12" width="3.4" height="3.4"/><rect x="240.90" y="169.06" width="3.4" height="3.4"/><rect x="240.90" y="173.01" width="3.4" height="3.4"/><rect x="240.90" y="176.96" width="3.4" height="3.4"/><rect x="247.24" y="-0.70" width="3.4" height="3.4"/><rect x="247.24" y="3.25" width="3.4" height="3.4"/><rect x="247.24" y="7.20" width="3.4" height="3.4"/><rect x="247.24" y="11.14" width="3.4" height="3.4"/><rect x="247.24" y="15.09" width="3.4" height="3.4"/><rect x="247.24" y="19.04" width="3.4" height="3.4"/><rect x="247.24" y="22.99" width="3.4" height="3.4"/><rect x="247.24" y="26.94" width="3.4" height="3.4"/><rect x="247.24" y="30.88" width="3.4" height="3.4"/><rect x="247.24" y="34.83" width="3.4" height="3.4"/><rect x="247.24" y="38.78" width="3.4" height="3.4"/><rect x="247.24" y="42.73" width="3.4" height="3.4"/><rect x="247.24" y="46.68" width="3.4" height="3.4"/><rect x="247.24" y="50.62" width="3.4" height="3.4"/><rect x="247.24" y="54.57" width="3.4" height="3.4"/><rect x="247.24" y="58.52" width="3.4" height="3.4"/><rect x="247.24" y="62.47" width="3.4" height="3.4"/><rect x="247.24" y="66.42" width="3.4" height="3.4"/><rect x="247.24" y="70.36" width="3.4" height="3.4"/><rect x="247.24" y="74.31" width="3.4" height="3.4"/><rect x="247.24" y="78.26" width="3.4" height="3.4"/><rect x="247.24" y="82.21" width="3.4" height="3.4"/><rect x="247.24" y="86.16" width="3.4" height="3.4"/><rect x="247.24" y="90.10" width="3.4" height="3.4"/><rect x="247.24" y="94.05" width="3.4" height="3.4"/><rect x="247.24" y="98.00" width="3.4" height="3.4"/><rect x="247.24" y="101.95" width="3.4" height="3.4"/><rect x="247.24" y="105.90" width="3.4" height="3.4"/><rect x="247.24" y="109.84" width="3.4" height="3.4"/><rect x="247.24" y="113.79" width="3.4" height="3.4"/><rect x="247.24" y="117.74" width="3.4" height="3.4"/><rect x="247.24" y="121.69" width="3.4" height="3.4"/><rect x="247.24" y="125.64" width="3.4" height="3.4"/><rect x="247.24" y="129.58" width="3.4" height="3.4"/><rect x="247.24" y="133.53" width="3.4" height="3.4"/><rect x="247.24" y="137.48" width="3.4" height="3.4"/><rect x="247.24" y="141.43" width="3.4" height="3.4"/><rect x="247.24" y="145.38" width="3.4" height="3.4"/><rect x="247.24" y="153.27" width="3.4" height="3.4"/><rect x="247.24" y="157.22" width="3.4" height="3.4"/><rect x="247.24" y="161.17" width="3.4" height="3.4"/><rect x="247.24" y="165.12" width="3.4" height="3.4"/><rect x="247.24" y="169.06" width="3.4" height="3.4"/><rect x="247.24" y="173.01" width="3.4" height="3.4"/><rect x="247.24" y="176.96" width="3.4" height="3.4"/><rect x="253.58" y="-0.70" width="3.4" height="3.4"/><rect x="253.58" y="3.25" width="3.4" height="3.4"/><rect x="253.58" y="7.20" width="3.4" height="3.4"/><rect x="253.58" y="11.14" width="3.4" height="3.4"/><rect x="253.58" y="15.09" width="3.4" height="3.4"/><rect x="253.58" y="19.04" width="3.4" height="3.4"/><rect x="253.58" y="22.99" width="3.4" height="3.4"/><rect x="253.58" y="26.94" width="3.4" height="3.4"/><rect x="253.58" y="30.88" width="3.4" height="3.4"/><rect x="253.58" y="34.83" width="3.4" height="3.4"/><rect x="253.58" y="38.78" width="3.4" height="3.4"/><rect x="253.58" y="42.73" width="3.4" height="3.4"/><rect x="253.58" y="46.68" width="3.4" height="3.4"/><rect x="253.58" y="50.62" width="3.4" height="3.4"/><rect x="253.58" y="54.57" width="3.4" height="3.4"/><rect x="253.58" y="58.52" width="3.4" height="3.4"/><rect x="253.58" y="62.47" width="3.4" height="3.4"/><rect x="253.58" y="66.42" width="3.4" height="3.4"/><rect x="253.58" y="70.36" width="3.4" height="3.4"/><rect x="253.58" y="74.31" width="3.4" height="3.4"/><rect x="253.58" y="78.26" width="3.4" height="3.4"/><rect x="253.58" y="82.21" width="3.4" height="3.4"/><rect x="253.58" y="86.16" width="3.4" height="3.4"/><rect x="253.58" y="90.10" width="3.4" height="3.4"/><rect x="253.58" y="94.05" width="3.4" height="3.4"/><rect x="253.58" y="98.00" width="3.4" height="3.4"/><rect x="253.58" y="101.95" width="3.4" height="3.4"/><rect x="253.58" y="105.90" width="3.4" height="3.4"/><rect x="253.58" y="109.84" width="3.4" height="3.4"/><rect x="253.58" y="113.79" width="3.4" height="3.4"/><rect x="253.58" y="117.74" width="3.4" height="3.4"/><rect x="253.58" y="121.69" width="3.4" height="3.4"/><rect x="253.58" y="125.64" width="3.4" height="3.4"/><rect x="253.58" y="129.58" width="3.4" height="3.4"/><rect x="253.58" y="133.53" width="3.4" height="3.4"/><rect x="253.58" y="137.48" width="3.4" height="3.4"/><rect x="253.58" y="141.43" width="3.4" height="3.4"/><rect x="253.58" y="145.38" width="3.4" height="3.4"/><rect x="253.58" y="149.32" width="3.4" height="3.4"/><rect x="253.58" y="153.27" width="3.4" height="3.4"/><rect x="253.58" y="157.22" width="3.4" height="3.4"/><rect x="253.58" y="161.17" width="3.4" height="3.4"/><rect x="253.58" y="165.12" width="3.4" height="3.4"/><rect x="253.58" y="169.06" width="3.4" height="3.4"/><rect x="253.58" y="173.01" width="3.4" height="3.4"/><rect x="253.58" y="176.96" width="3.4" height="3.4"/><rect x="259.93" y="-0.70" width="3.4" height="3.4"/><rect x="259.93" y="3.25" width="3.4" height="3.4"/><rect x="259.93" y="7.20" width="3.4" height="3.4"/><rect x="259.93" y="11.14" width="3.4" height="3.4"/><rect x="259.93" y="15.09" width="3.4" height="3.4"/><rect x="259.93" y="19.04" width="3.4" height="3.4"/><rect x="259.93" y="22.99" width="3.4" height="3.4"/><rect x="259.93" y="26.94" width="3.4" height="3.4"/><rect x="259.93" y="30.88" width="3.4" height="3.4"/><rect x="259.93" y="34.83" width="3.4" height="3.4"/><rect x="259.93" y="38.78" width="3.4" height="3.4"/><rect x="259.93" y="42.73" width="3.4" height="3.4"/><rect x="259.93" y="46.68" width="3.4" height="3.4"/><rect x="259.93" y="50.62" width="3.4" height="3.4"/><rect x="259.93" y="54.57" width="3.4" height="3.4"/><rect x="259.93" y="58.52" width="3.4" height="3.4"/><rect x="259.93" y="62.47" width="3.4" height="3.4"/><rect x="259.93" y="66.42" width="3.4" height="3.4"/><rect x="259.93" y="70.36" width="3.4" height="3.4"/><rect x="259.93" y="74.31" width="3.4" height="3.4"/><rect x="259.93" y="78.26" width="3.4" height="3.4"/><rect x="259.93" y="82.21" width="3.4" height="3.4"/><rect x="259.93" y="86.16" width="3.4" height="3.4"/><rect x="259.93" y="90.10" width="3.4" height="3.4"/><rect x="259.93" y="94.05" width="3.4" height="3.4"/><rect x="259.93" y="98.00" width="3.4" height="3.4"/><rect x="259.93" y="101.95" width="3.4" height="3.4"/><rect x="259.93" y="105.90" width="3.4" height="3.4"/><rect x="259.93" y="109.84" width="3.4" height="3.4"/><rect x="259.93" y="113.79" width="3.4" height="3.4"/><rect x="259.93" y="117.74" width="3.4" height="3.4"/><rect x="259.93" y="121.69" width="3.4" height="3.4"/><rect x="259.93" y="125.64" width="3.4" height="3.4"/><rect x="259.93" y="129.58" width="3.4" height="3.4"/><rect x="259.93" y="133.53" width="3.4" height="3.4"/><rect x="259.93" y="137.48" width="3.4" height="3.4"/><rect x="259.93" y="141.43" width="3.4" height="3.4"/><rect x="259.93" y="145.38" width="3.4" height="3.4"/><rect x="259.93" y="149.32" width="3.4" height="3.4"/><rect x="259.93" y="153.27" width="3.4" height="3.4"/><rect x="259.93" y="157.22" width="3.4" height="3.4"/><rect x="259.93" y="161.17" width="3.4" height="3.4"/><rect x="259.93" y="169.06" width="3.4" height="3.4"/><rect x="259.93" y="173.01" width="3.4" height="3.4"/><rect x="259.93" y="176.96" width="3.4" height="3.4"/><rect x="266.27" y="-0.70" width="3.4" height="3.4"/><rect x="266.27" y="3.25" width="3.4" height="3.4"/><rect x="266.27" y="7.20" width="3.4" height="3.4"/><rect x="266.27" y="11.14" width="3.4" height="3.4"/><rect x="266.27" y="15.09" width="3.4" height="3.4"/><rect x="266.27" y="19.04" width="3.4" height="3.4"/><rect x="266.27" y="22.99" width="3.4" height="3.4"/><rect x="266.27" y="26.94" width="3.4" height="3.4"/><rect x="266.27" y="30.88" width="3.4" height="3.4"/><rect x="266.27" y="34.83" width="3.4" height="3.4"/><rect x="266.27" y="38.78" width="3.4" height="3.4"/><rect x="266.27" y="42.73" width="3.4" height="3.4"/><rect x="266.27" y="46.68" width="3.4" height="3.4"/><rect x="266.27" y="50.62" width="3.4" height="3.4"/><rect x="266.27" y="54.57" width="3.4" height="3.4"/><rect x="266.27" y="58.52" width="3.4" height="3.4"/><rect x="266.27" y="62.47" width="3.4" height="3.4"/><rect x="266.27" y="66.42" width="3.4" height="3.4"/><rect x="266.27" y="70.36" width="3.4" height="3.4"/><rect x="266.27" y="74.31" width="3.4" height="3.4"/><rect x="266.27" y="78.26" width="3.4" height="3.4"/><rect x="266.27" y="82.21" width="3.4" height="3.4"/><rect x="266.27" y="86.16" width="3.4" height="3.4"/><rect x="266.27" y="90.10" width="3.4" height="3.4"/><rect x="266.27" y="94.05" width="3.4" height="3.4"/><rect x="266.27" y="98.00" width="3.4" height="3.4"/><rect x="266.27" y="101.95" width="3.4" height="3.4"/><rect x="266.27" y="105.90" width="3.4" height="3.4"/><rect x="266.27" y="109.84" width="3.4" height="3.4"/><rect x="266.27" y="113.79" width="3.4" height="3.4"/><rect x="266.27" y="117.74" width="3.4" height="3.4"/><rect x="266.27" y="121.69" width="3.4" height="3.4"/><rect x="266.27" y="125.64" width="3.4" height="3.4"/><rect x="266.27" y="129.58" width="3.4" height="3.4"/><rect x="266.27" y="133.53" width="3.4" height="3.4"/><rect x="266.27" y="137.48" width="3.4" height="3.4"/><rect x="266.27" y="141.43" width="3.4" height="3.4"/><rect x="266.27" y="145.38" width="3.4" height="3.4"/><rect x="266.27" y="149.32" width="3.4" height="3.4"/><rect x="266.27" y="153.27" width="3.4" height="3.4"/><rect x="266.27" y="157.22" width="3.4" height="3.4"/><rect x="266.27" y="161.17" width="3.4" height="3.4"/><rect x="266.27" y="165.12" width="3.4" height="3.4"/><rect x="266.27" y="169.06" width="3.4" height="3.4"/><rect x="266.27" y="173.01" width="3.4" height="3.4"/><rect x="266.27" y="176.96" width="3.4" height="3.4"/><rect x="272.62" y="-0.70" width="3.4" height="3.4"/><rect x="272.62" y="3.25" width="3.4" height="3.4"/><rect x="272.62" y="7.20" width="3.4" height="3.4"/><rect x="272.62" y="11.14" width="3.4" height="3.4"/><rect x="272.62" y="15.09" width="3.4" height="3.4"/><rect x="272.62" y="19.04" width="3.4" height="3.4"/><rect x="272.62" y="22.99" width="3.4" height="3.4"/><rect x="272.62" y="26.94" width="3.4" height="3.4"/><rect x="272.62" y="30.88" width="3.4" height="3.4"/><rect x="272.62" y="34.83" width="3.4" height="3.4"/><rect x="272.62" y="38.78" width="3.4" height="3.4"/><rect x="272.62" y="42.73" width="3.4" height="3.4"/><rect x="272.62" y="46.68" width="3.4" height="3.4"/><rect x="272.62" y="50.62" width="3.4" height="3.4"/><rect x="272.62" y="54.57" width="3.4" height="3.4"/><rect x="272.62" y="58.52" width="3.4" height="3.4"/><rect x="272.62" y="62.47" width="3.4" height="3.4"/><rect x="272.62" y="66.42" width="3.4" height="3.4"/><rect x="272.62" y="70.36" width="3.4" height="3.4"/><rect x="272.62" y="74.31" width="3.4" height="3.4"/><rect x="272.62" y="78.26" width="3.4" height="3.4"/><rect x="272.62" y="82.21" width="3.4" height="3.4"/><rect x="272.62" y="86.16" width="3.4" height="3.4"/><rect x="272.62" y="90.10" width="3.4" height="3.4"/><rect x="272.62" y="94.05" width="3.4" height="3.4"/><rect x="272.62" y="98.00" width="3.4" height="3.4"/><rect x="272.62" y="101.95" width="3.4" height="3.4"/><rect x="272.62" y="105.90" width="3.4" height="3.4"/><rect x="272.62" y="109.84" width="3.4" height="3.4"/><rect x="272.62" y="113.79" width="3.4" height="3.4"/><rect x="272.62" y="117.74" width="3.4" height="3.4"/><rect x="272.62" y="121.69" width="3.4" height="3.4"/><rect x="272.62" y="125.64" width="3.4" height="3.4"/><rect x="272.62" y="129.58" width="3.4" height="3.4"/><rect x="272.62" y="133.53" width="3.4" height="3.4"/><rect x="272.62" y="137.48" width="3.4" height="3.4"/><rect x="272.62" y="141.43" width="3.4" height="3.4"/><rect x="272.62" y="145.38" width="3.4" height="3.4"/><rect x="272.62" y="149.32" width="3.4" height="3.4"/><rect x="272.62" y="153.27" width="3.4" height="3.4"/><rect x="272.62" y="157.22" width="3.4" height="3.4"/><rect x="272.62" y="161.17" width="3.4" height="3.4"/><rect x="272.62" y="165.12" width="3.4" height="3.4"/><rect x="272.62" y="173.01" width="3.4" height="3.4"/><rect x="272.62" y="176.96" width="3.4" height="3.4"/><rect x="278.96" y="-0.70" width="3.4" height="3.4"/><rect x="278.96" y="3.25" width="3.4" height="3.4"/><rect x="278.96" y="7.20" width="3.4" height="3.4"/><rect x="278.96" y="11.14" width="3.4" height="3.4"/><rect x="278.96" y="15.09" width="3.4" height="3.4"/><rect x="278.96" y="19.04" width="3.4" height="3.4"/><rect x="278.96" y="22.99" width="3.4" height="3.4"/><rect x="278.96" y="26.94" width="3.4" height="3.4"/><rect x="278.96" y="30.88" width="3.4" height="3.4"/><rect x="278.96" y="34.83" width="3.4" height="3.4"/><rect x="278.96" y="38.78" width="3.4" height="3.4"/><rect x="278.96" y="42.73" width="3.4" height="3.4"/><rect x="278.96" y="46.68" width="3.4" height="3.4"/><rect x="278.96" y="50.62" width="3.4" height="3.4"/><rect x="278.96" y="54.57" width="3.4" height="3.4"/><rect x="278.96" y="58.52" width="3.4" height="3.4"/><rect x="278.96" y="62.47" width="3.4" height="3.4"/><rect x="278.96" y="66.42" width="3.4" height="3.4"/><rect x="278.96" y="70.36" width="3.4" height="3.4"/><rect x="278.96" y="74.31" width="3.4" height="3.4"/><rect x="278.96" y="78.26" width="3.4" height="3.4"/><rect x="278.96" y="82.21" width="3.4" height="3.4"/><rect x="278.96" y="86.16" width="3.4" height="3.4"/><rect x="278.96" y="90.10" width="3.4" height="3.4"/><rect x="278.96" y="94.05" width="3.4" height="3.4"/><rect x="278.96" y="98.00" width="3.4" height="3.4"/><rect x="278.96" y="101.95" width="3.4" height="3.4"/><rect x="278.96" y="105.90" width="3.4" height="3.4"/><rect x="278.96" y="109.84" width="3.4" height="3.4"/><rect x="278.96" y="113.79" width="3.4" height="3.4"/><rect x="278.96" y="117.74" width="3.4" height="3.4"/><rect x="278.96" y="121.69" width="3.4" height="3.4"/><rect x="278.96" y="125.64" width="3.4" height="3.4"/><rect x="278.96" y="129.58" width="3.4" height="3.4"/><rect x="278.96" y="133.53" width="3.4" height="3.4"/><rect x="278.96" y="137.48" width="3.4" height="3.4"/><rect x="278.96" y="141.43" width="3.4" height="3.4"/><rect x="278.96" y="149.32" width="3.4" height="3.4"/><rect x="278.96" y="153.27" width="3.4" height="3.4"/><rect x="278.96" y="157.22" width="3.4" height="3.4"/><rect x="278.96" y="161.17" width="3.4" height="3.4"/><rect x="278.96" y="165.12" width="3.4" height="3.4"/><rect x="278.96" y="169.06" width="3.4" height="3.4"/><rect x="278.96" y="173.01" width="3.4" height="3.4"/><rect x="278.96" y="176.96" width="3.4" height="3.4"/><rect x="285.30" y="-0.70" width="3.4" height="3.4"/><rect x="285.30" y="3.25" width="3.4" height="3.4"/><rect x="285.30" y="7.20" width="3.4" height="3.4"/><rect x="285.30" y="11.14" width="3.4" height="3.4"/><rect x="285.30" y="15.09" width="3.4" height="3.4"/><rect x="285.30" y="19.04" width="3.4" height="3.4"/><rect x="285.30" y="22.99" width="3.4" height="3.4"/><rect x="285.30" y="26.94" width="3.4" height="3.4"/><rect x="285.30" y="30.88" width="3.4" height="3.4"/><rect x="285.30" y="34.83" width="3.4" height="3.4"/><rect x="285.30" y="38.78" width="3.4" height="3.4"/><rect x="285.30" y="42.73" width="3.4" height="3.4"/><rect x="285.30" y="46.68" width="3.4" height="3.4"/><rect x="285.30" y="50.62" width="3.4" height="3.4"/><rect x="285.30" y="54.57" width="3.4" height="3.4"/><rect x="285.30" y="58.52" width="3.4" height="3.4"/><rect x="285.30" y="62.47" width="3.4" height="3.4"/><rect x="285.30" y="66.42" width="3.4" height="3.4"/><rect x="285.30" y="70.36" width="3.4" height="3.4"/><rect x="285.30" y="74.31" width="3.4" height="3.4"/><rect x="285.30" y="78.26" width="3.4" height="3.4"/><rect x="285.30" y="82.21" width="3.4" height="3.4"/><rect x="285.30" y="86.16" width="3.4" height="3.4"/><rect x="285.30" y="90.10" width="3.4" height="3.4"/><rect x="285.30" y="94.05" width="3.4" height="3.4"/><rect x="285.30" y="98.00" width="3.4" height="3.4"/><rect x="285.30" y="101.95" width="3.4" height="3.4"/><rect x="285.30" y="105.90" width="3.4" height="3.4"/><rect x="285.30" y="109.84" width="3.4" height="3.4"/><rect x="285.30" y="113.79" width="3.4" height="3.4"/><rect x="285.30" y="117.74" width="3.4" height="3.4"/><rect x="285.30" y="121.69" width="3.4" height="3.4"/><rect x="285.30" y="125.64" width="3.4" height="3.4"/><rect x="285.30" y="129.58" width="3.4" height="3.4"/><rect x="285.30" y="133.53" width="3.4" height="3.4"/><rect x="285.30" y="137.48" width="3.4" height="3.4"/><rect x="285.30" y="141.43" width="3.4" height="3.4"/><rect x="285.30" y="145.38" width="3.4" height="3.4"/><rect x="285.30" y="153.27" width="3.4" height="3.4"/><rect x="285.30" y="157.22" width="3.4" height="3.4"/><rect x="285.30" y="161.17" width="3.4" height="3.4"/><rect x="285.30" y="165.12" width="3.4" height="3.4"/><rect x="285.30" y="169.06" width="3.4" height="3.4"/><rect x="285.30" y="173.01" width="3.4" height="3.4"/><rect x="285.30" y="176.96" width="3.4" height="3.4"/><rect x="291.65" y="-0.70" width="3.4" height="3.4"/><rect x="291.65" y="3.25" width="3.4" height="3.4"/><rect x="291.65" y="7.20" width="3.4" height="3.4"/><rect x="291.65" y="11.14" width="3.4" height="3.4"/><rect x="291.65" y="15.09" width="3.4" height="3.4"/><rect x="291.65" y="19.04" width="3.4" height="3.4"/><rect x="291.65" y="22.99" width="3.4" height="3.4"/><rect x="291.65" y="26.94" width="3.4" height="3.4"/><rect x="291.65" y="30.88" width="3.4" height="3.4"/><rect x="291.65" y="34.83" width="3.4" height="3.4"/><rect x="291.65" y="38.78" width="3.4" height="3.4"/><rect x="291.65" y="42.73" width="3.4" height="3.4"/><rect x="291.65" y="46.68" width="3.4" height="3.4"/><rect x="291.65" y="50.62" width="3.4" height="3.4"/><rect x="291.65" y="54.57" width="3.4" height="3.4"/><rect x="291.65" y="58.52" width="3.4" height="3.4"/><rect x="291.65" y="62.47" width="3.4" height="3.4"/><rect x="291.65" y="66.42" width="3.4" height="3.4"/><rect x="291.65" y="70.36" width="3.4" height="3.4"/><rect x="291.65" y="74.31" width="3.4" height="3.4"/><rect x="291.65" y="78.26" width="3.4" height="3.4"/><rect x="291.65" y="82.21" width="3.4" height="3.4"/><rect x="291.65" y="86.16" width="3.4" height="3.4"/><rect x="291.65" y="90.10" width="3.4" height="3.4"/><rect x="291.65" y="94.05" width="3.4" height="3.4"/><rect x="291.65" y="98.00" width="3.4" height="3.4"/><rect x="291.65" y="101.95" width="3.4" height="3.4"/><rect x="291.65" y="105.90" width="3.4" height="3.4"/><rect x="291.65" y="109.84" width="3.4" height="3.4"/><rect x="291.65" y="113.79" width="3.4" height="3.4"/><rect x="291.65" y="117.74" width="3.4" height="3.4"/><rect x="291.65" y="121.69" width="3.4" height="3.4"/><rect x="291.65" y="125.64" width="3.4" height="3.4"/><rect x="291.65" y="129.58" width="3.4" height="3.4"/><rect x="291.65" y="133.53" width="3.4" height="3.4"/><rect x="291.65" y="137.48" width="3.4" height="3.4"/><rect x="291.65" y="141.43" width="3.4" height="3.4"/><rect x="291.65" y="145.38" width="3.4" height="3.4"/><rect x="291.65" y="149.32" width="3.4" height="3.4"/><rect x="291.65" y="153.27" width="3.4" height="3.4"/><rect x="291.65" y="157.22" width="3.4" height="3.4"/><rect x="291.65" y="161.17" width="3.4" height="3.4"/><rect x="291.65" y="165.12" width="3.4" height="3.4"/><rect x="291.65" y="169.06" width="3.4" height="3.4"/><rect x="291.65" y="173.01" width="3.4" height="3.4"/><rect x="291.65" y="176.96" width="3.4" height="3.4"/><rect x="297.99" y="-0.70" width="3.4" height="3.4"/><rect x="297.99" y="3.25" width="3.4" height="3.4"/><rect x="297.99" y="7.20" width="3.4" height="3.4"/><rect x="297.99" y="11.14" width="3.4" height="3.4"/><rect x="297.99" y="15.09" width="3.4" height="3.4"/><rect x="297.99" y="19.04" width="3.4" height="3.4"/><rect x="297.99" y="22.99" width="3.4" height="3.4"/><rect x="297.99" y="26.94" width="3.4" height="3.4"/><rect x="297.99" y="30.88" width="3.4" height="3.4"/><rect x="297.99" y="34.83" width="3.4" height="3.4"/><rect x="297.99" y="38.78" width="3.4" height="3.4"/><rect x="297.99" y="42.73" width="3.4" height="3.4"/><rect x="297.99" y="46.68" width="3.4" height="3.4"/><rect x="297.99" y="50.62" width="3.4" height="3.4"/><rect x="297.99" y="54.57" width="3.4" height="3.4"/><rect x="297.99" y="58.52" width="3.4" height="3.4"/><rect x="297.99" y="62.47" width="3.4" height="3.4"/><rect x="297.99" y="66.42" width="3.4" height="3.4"/><rect x="297.99" y="70.36" width="3.4" height="3.4"/><rect x="297.99" y="74.31" width="3.4" height="3.4"/><rect x="297.99" y="78.26" width="3.4" height="3.4"/><rect x="297.99" y="82.21" width="3.4" height="3.4"/><rect x="297.99" y="86.16" width="3.4" height="3.4"/><rect x="297.99" y="90.10" width="3.4" height="3.4"/><rect x="297.99" y="94.05" width="3.4" height="3.4"/><rect x="297.99" y="98.00" width="3.4" height="3.4"/><rect x="297.99" y="101.95" width="3.4" height="3.4"/><rect x="297.99" y="105.90" width="3.4" height="3.4"/><rect x="297.99" y="109.84" width="3.4" height="3.4"/><rect x="297.99" y="113.79" width="3.4" height="3.4"/><rect x="297.99" y="117.74" width="3.4" height="3.4"/><rect x="297.99" y="121.69" width="3.4" height="3.4"/><rect x="297.99" y="125.64" width="3.4" height="3.4"/><rect x="297.99" y="129.58" width="3.4" height="3.4"/><rect x="297.99" y="133.53" width="3.4" height="3.4"/><rect x="297.99" y="137.48" width="3.4" height="3.4"/><rect x="297.99" y="141.43" width="3.4" height="3.4"/><rect x="297.99" y="145.38" width="3.4" height="3.4"/><rect x="297.99" y="149.32" width="3.4" height="3.4"/><rect x="297.99" y="153.27" width="3.4" height="3.4"/><rect x="297.99" y="157.22" width="3.4" height="3.4"/><rect x="297.99" y="161.17" width="3.4" height="3.4"/><rect x="297.99" y="165.12" width="3.4" height="3.4"/><rect x="297.99" y="169.06" width="3.4" height="3.4"/><rect x="297.99" y="173.01" width="3.4" height="3.4"/><rect x="297.99" y="176.96" width="3.4" height="3.4"/><rect x="304.34" y="-0.70" width="3.4" height="3.4"/><rect x="304.34" y="3.25" width="3.4" height="3.4"/><rect x="304.34" y="7.20" width="3.4" height="3.4"/><rect x="304.34" y="11.14" width="3.4" height="3.4"/><rect x="304.34" y="15.09" width="3.4" height="3.4"/><rect x="304.34" y="19.04" width="3.4" height="3.4"/><rect x="304.34" y="22.99" width="3.4" height="3.4"/><rect x="304.34" y="26.94" width="3.4" height="3.4"/><rect x="304.34" y="30.88" width="3.4" height="3.4"/><rect x="304.34" y="34.83" width="3.4" height="3.4"/><rect x="304.34" y="38.78" width="3.4" height="3.4"/><rect x="304.34" y="42.73" width="3.4" height="3.4"/><rect x="304.34" y="46.68" width="3.4" height="3.4"/><rect x="304.34" y="50.62" width="3.4" height="3.4"/><rect x="304.34" y="54.57" width="3.4" height="3.4"/><rect x="304.34" y="58.52" width="3.4" height="3.4"/><rect x="304.34" y="62.47" width="3.4" height="3.4"/><rect x="304.34" y="66.42" width="3.4" height="3.4"/><rect x="304.34" y="70.36" width="3.4" height="3.4"/><rect x="304.34" y="74.31" width="3.4" height="3.4"/><rect x="304.34" y="78.26" width="3.4" height="3.4"/><rect x="304.34" y="82.21" width="3.4" height="3.4"/><rect x="304.34" y="86.16" width="3.4" height="3.4"/><rect x="304.34" y="90.10" width="3.4" height="3.4"/><rect x="304.34" y="94.05" width="3.4" height="3.4"/><rect x="304.34" y="98.00" width="3.4" height="3.4"/><rect x="304.34" y="101.95" width="3.4" height="3.4"/><rect x="304.34" y="105.90" width="3.4" height="3.4"/><rect x="304.34" y="109.84" width="3.4" height="3.4"/><rect x="304.34" y="113.79" width="3.4" height="3.4"/><rect x="304.34" y="117.74" width="3.4" height="3.4"/><rect x="304.34" y="121.69" width="3.4" height="3.4"/><rect x="304.34" y="125.64" width="3.4" height="3.4"/><rect x="304.34" y="129.58" width="3.4" height="3.4"/><rect x="304.34" y="133.53" width="3.4" height="3.4"/><rect x="304.34" y="137.48" width="3.4" height="3.4"/><rect x="304.34" y="141.43" width="3.4" height="3.4"/><rect x="304.34" y="145.38" width="3.4" height="3.4"/><rect x="304.34" y="149.32" width="3.4" height="3.4"/><rect x="304.34" y="153.27" width="3.4" height="3.4"/><rect x="304.34" y="161.17" width="3.4" height="3.4"/><rect x="304.34" y="165.12" width="3.4" height="3.4"/><rect x="304.34" y="169.06" width="3.4" height="3.4"/><rect x="304.34" y="173.01" width="3.4" height="3.4"/><rect x="304.34" y="176.96" width="3.4" height="3.4"/><rect x="310.68" y="-0.70" width="3.4" height="3.4"/><rect x="310.68" y="3.25" width="3.4" height="3.4"/><rect x="310.68" y="7.20" width="3.4" height="3.4"/><rect x="310.68" y="11.14" width="3.4" height="3.4"/><rect x="310.68" y="15.09" width="3.4" height="3.4"/><rect x="310.68" y="19.04" width="3.4" height="3.4"/><rect x="310.68" y="22.99" width="3.4" height="3.4"/><rect x="310.68" y="26.94" width="3.4" height="3.4"/><rect x="310.68" y="30.88" width="3.4" height="3.4"/><rect x="310.68" y="34.83" width="3.4" height="3.4"/><rect x="310.68" y="38.78" width="3.4" height="3.4"/><rect x="310.68" y="42.73" width="3.4" height="3.4"/><rect x="310.68" y="46.68" width="3.4" height="3.4"/><rect x="310.68" y="50.62" width="3.4" height="3.4"/><rect x="310.68" y="54.57" width="3.4" height="3.4"/><rect x="310.68" y="58.52" width="3.4" height="3.4"/><rect x="310.68" y="62.47" width="3.4" height="3.4"/><rect x="310.68" y="66.42" width="3.4" height="3.4"/><rect x="310.68" y="70.36" width="3.4" height="3.4"/><rect x="310.68" y="74.31" width="3.4" height="3.4"/><rect x="310.68" y="78.26" width="3.4" height="3.4"/><rect x="310.68" y="82.21" width="3.4" height="3.4"/><rect x="310.68" y="86.16" width="3.4" height="3.4"/><rect x="310.68" y="90.10" width="3.4" height="3.4"/><rect x="310.68" y="94.05" width="3.4" height="3.4"/><rect x="310.68" y="98.00" width="3.4" height="3.4"/><rect x="310.68" y="101.95" width="3.4" height="3.4"/><rect x="310.68" y="105.90" width="3.4" height="3.4"/><rect x="310.68" y="109.84" width="3.4" height="3.4"/><rect x="310.68" y="113.79" width="3.4" height="3.4"/><rect x="310.68" y="117.74" width="3.4" height="3.4"/><rect x="310.68" y="121.69" width="3.4" height="3.4"/><rect x="310.68" y="125.64" width="3.4" height="3.4"/><rect x="310.68" y="129.58" width="3.4" height="3.4"/><rect x="310.68" y="133.53" width="3.4" height="3.4"/><rect x="310.68" y="137.48" width="3.4" height="3.4"/><rect x="310.68" y="141.43" width="3.4" height="3.4"/><rect x="310.68" y="145.38" width="3.4" height="3.4"/><rect x="310.68" y="149.32" width="3.4" height="3.4"/><rect x="310.68" y="153.27" width="3.4" height="3.4"/><rect x="310.68" y="157.22" width="3.4" height="3.4"/><rect x="310.68" y="161.17" width="3.4" height="3.4"/><rect x="310.68" y="165.12" width="3.4" height="3.4"/><rect x="310.68" y="169.06" width="3.4" height="3.4"/><rect x="310.68" y="173.01" width="3.4" height="3.4"/><rect x="310.68" y="176.96" width="3.4" height="3.4"/><rect x="317.02" y="-0.70" width="3.4" height="3.4"/><rect x="317.02" y="3.25" width="3.4" height="3.4"/><rect x="317.02" y="7.20" width="3.4" height="3.4"/><rect x="317.02" y="11.14" width="3.4" height="3.4"/><rect x="317.02" y="15.09" width="3.4" height="3.4"/><rect x="317.02" y="19.04" width="3.4" height="3.4"/><rect x="317.02" y="22.99" width="3.4" height="3.4"/><rect x="317.02" y="26.94" width="3.4" height="3.4"/><rect x="317.02" y="30.88" width="3.4" height="3.4"/><rect x="317.02" y="34.83" width="3.4" height="3.4"/><rect x="317.02" y="38.78" width="3.4" height="3.4"/><rect x="317.02" y="42.73" width="3.4" height="3.4"/><rect x="317.02" y="46.68" width="3.4" height="3.4"/><rect x="317.02" y="50.62" width="3.4" height="3.4"/><rect x="317.02" y="54.57" width="3.4" height="3.4"/><rect x="317.02" y="58.52" width="3.4" height="3.4"/><rect x="317.02" y="62.47" width="3.4" height="3.4"/><rect x="317.02" y="66.42" width="3.4" height="3.4"/><rect x="317.02" y="70.36" width="3.4" height="3.4"/><rect x="317.02" y="74.31" width="3.4" height="3.4"/><rect x="317.02" y="78.26" width="3.4" height="3.4"/><rect x="317.02" y="82.21" width="3.4" height="3.4"/><rect x="317.02" y="86.16" width="3.4" height="3.4"/><rect x="317.02" y="90.10" width="3.4" height="3.4"/><rect x="317.02" y="94.05" width="3.4" height="3.4"/><rect x="317.02" y="98.00" width="3.4" height="3.4"/><rect x="317.02" y="101.95" width="3.4" height="3.4"/><rect x="317.02" y="105.90" width="3.4" height="3.4"/><rect x="317.02" y="109.84" width="3.4" height="3.4"/><rect x="317.02" y="113.79" width="3.4" height="3.4"/><rect x="317.02" y="117.74" width="3.4" height="3.4"/><rect x="317.02" y="121.69" width="3.4" height="3.4"/><rect x="317.02" y="125.64" width="3.4" height="3.4"/><rect x="317.02" y="129.58" width="3.4" height="3.4"/><rect x="317.02" y="133.53" width="3.4" height="3.4"/><rect x="317.02" y="137.48" width="3.4" height="3.4"/><rect x="317.02" y="141.43" width="3.4" height="3.4"/><rect x="317.02" y="145.38" width="3.4" height="3.4"/><rect x="317.02" y="149.32" width="3.4" height="3.4"/><rect x="317.02" y="153.27" width="3.4" height="3.4"/><rect x="317.02" y="157.22" width="3.4" height="3.4"/><rect x="317.02" y="165.12" width="3.4" height="3.4"/><rect x="317.02" y="169.06" width="3.4" height="3.4"/><rect x="317.02" y="173.01" width="3.4" height="3.4"/><rect x="317.02" y="176.96" width="3.4" height="3.4"/><rect x="323.37" y="-0.70" width="3.4" height="3.4"/><rect x="323.37" y="3.25" width="3.4" height="3.4"/><rect x="323.37" y="7.20" width="3.4" height="3.4"/><rect x="323.37" y="11.14" width="3.4" height="3.4"/><rect x="323.37" y="15.09" width="3.4" height="3.4"/><rect x="323.37" y="19.04" width="3.4" height="3.4"/><rect x="323.37" y="22.99" width="3.4" height="3.4"/><rect x="323.37" y="26.94" width="3.4" height="3.4"/><rect x="323.37" y="30.88" width="3.4" height="3.4"/><rect x="323.37" y="34.83" width="3.4" height="3.4"/><rect x="323.37" y="38.78" width="3.4" height="3.4"/><rect x="323.37" y="42.73" width="3.4" height="3.4"/><rect x="323.37" y="46.68" width="3.4" height="3.4"/><rect x="323.37" y="50.62" width="3.4" height="3.4"/><rect x="323.37" y="54.57" width="3.4" height="3.4"/><rect x="323.37" y="58.52" width="3.4" height="3.4"/><rect x="323.37" y="62.47" width="3.4" height="3.4"/><rect x="323.37" y="66.42" width="3.4" height="3.4"/><rect x="323.37" y="70.36" width="3.4" height="3.4"/><rect x="323.37" y="74.31" width="3.4" height="3.4"/><rect x="323.37" y="78.26" width="3.4" height="3.4"/><rect x="323.37" y="82.21" width="3.4" height="3.4"/><rect x="323.37" y="86.16" width="3.4" height="3.4"/><rect x="323.37" y="90.10" width="3.4" height="3.4"/><rect x="323.37" y="94.05" width="3.4" height="3.4"/><rect x="323.37" y="98.00" width="3.4" height="3.4"/><rect x="323.37" y="101.95" width="3.4" height="3.4"/><rect x="323.37" y="105.90" width="3.4" height="3.4"/><rect x="323.37" y="109.84" width="3.4" height="3.4"/><rect x="323.37" y="113.79" width="3.4" height="3.4"/><rect x="323.37" y="117.74" width="3.4" height="3.4"/><rect x="323.37" y="121.69" width="3.4" height="3.4"/><rect x="323.37" y="125.64" width="3.4" height="3.4"/><rect x="323.37" y="129.58" width="3.4" height="3.4"/><rect x="323.37" y="133.53" width="3.4" height="3.4"/><rect x="323.37" y="137.48" width="3.4" height="3.4"/><rect x="323.37" y="141.43" width="3.4" height="3.4"/><rect x="323.37" y="145.38" width="3.4" height="3.4"/><rect x="323.37" y="149.32" width="3.4" height="3.4"/><rect x="323.37" y="153.27" width="3.4" height="3.4"/><rect x="323.37" y="157.22" width="3.4" height="3.4"/><rect x="323.37" y="161.17" width="3.4" height="3.4"/><rect x="323.37" y="165.12" width="3.4" height="3.4"/><rect x="323.37" y="169.06" width="3.4" height="3.4"/><rect x="323.37" y="173.01" width="3.4" height="3.4"/><rect x="323.37" y="176.96" width="3.4" height="3.4"/><rect x="329.71" y="-0.70" width="3.4" height="3.4"/><rect x="329.71" y="3.25" width="3.4" height="3.4"/><rect x="329.71" y="7.20" width="3.4" height="3.4"/><rect x="329.71" y="11.14" width="3.4" height="3.4"/><rect x="329.71" y="15.09" width="3.4" height="3.4"/><rect x="329.71" y="19.04" width="3.4" height="3.4"/><rect x="329.71" y="22.99" width="3.4" height="3.4"/><rect x="329.71" y="26.94" width="3.4" height="3.4"/><rect x="329.71" y="30.88" width="3.4" height="3.4"/><rect x="329.71" y="34.83" width="3.4" height="3.4"/><rect x="329.71" y="38.78" width="3.4" height="3.4"/><rect x="329.71" y="42.73" width="3.4" height="3.4"/><rect x="329.71" y="46.68" width="3.4" height="3.4"/><rect x="329.71" y="50.62" width="3.4" height="3.4"/><rect x="329.71" y="54.57" width="3.4" height="3.4"/><rect x="329.71" y="58.52" width="3.4" height="3.4"/><rect x="329.71" y="62.47" width="3.4" height="3.4"/><rect x="329.71" y="66.42" width="3.4" height="3.4"/><rect x="329.71" y="70.36" width="3.4" height="3.4"/><rect x="329.71" y="74.31" width="3.4" height="3.4"/><rect x="329.71" y="78.26" width="3.4" height="3.4"/><rect x="329.71" y="82.21" width="3.4" height="3.4"/><rect x="329.71" y="86.16" width="3.4" height="3.4"/><rect x="329.71" y="90.10" width="3.4" height="3.4"/><rect x="329.71" y="94.05" width="3.4" height="3.4"/><rect x="329.71" y="98.00" width="3.4" height="3.4"/><rect x="329.71" y="101.95" width="3.4" height="3.4"/><rect x="329.71" y="105.90" width="3.4" height="3.4"/><rect x="329.71" y="109.84" width="3.4" height="3.4"/><rect x="329.71" y="113.79" width="3.4" height="3.4"/><rect x="329.71" y="117.74" width="3.4" height="3.4"/><rect x="329.71" y="121.69" width="3.4" height="3.4"/><rect x="329.71" y="125.64" width="3.4" height="3.4"/><rect x="329.71" y="129.58" width="3.4" height="3.4"/><rect x="329.71" y="133.53" width="3.4" height="3.4"/><rect x="329.71" y="137.48" width="3.4" height="3.4"/><rect x="329.71" y="141.43" width="3.4" height="3.4"/><rect x="329.71" y="145.38" width="3.4" height="3.4"/><rect x="329.71" y="149.32" width="3.4" height="3.4"/><rect x="329.71" y="153.27" width="3.4" height="3.4"/><rect x="329.71" y="157.22" width="3.4" height="3.4"/><rect x="329.71" y="161.17" width="3.4" height="3.4"/><rect x="329.71" y="165.12" width="3.4" height="3.4"/><rect x="329.71" y="169.06" width="3.4" height="3.4"/><rect x="329.71" y="173.01" width="3.4" height="3.4"/><rect x="329.71" y="176.96" width="3.4" height="3.4"/><rect x="336.06" y="-0.70" width="3.4" height="3.4"/><rect x="336.06" y="3.25" width="3.4" height="3.4"/><rect x="336.06" y="7.20" width="3.4" height="3.4"/><rect x="336.06" y="11.14" width="3.4" height="3.4"/><rect x="336.06" y="15.09" width="3.4" height="3.4"/><rect x="336.06" y="19.04" width="3.4" height="3.4"/><rect x="336.06" y="22.99" width="3.4" height="3.4"/><rect x="336.06" y="26.94" width="3.4" height="3.4"/><rect x="336.06" y="30.88" width="3.4" height="3.4"/><rect x="336.06" y="34.83" width="3.4" height="3.4"/><rect x="336.06" y="38.78" width="3.4" height="3.4"/><rect x="336.06" y="42.73" width="3.4" height="3.4"/><rect x="336.06" y="46.68" width="3.4" height="3.4"/><rect x="336.06" y="50.62" width="3.4" height="3.4"/><rect x="336.06" y="54.57" width="3.4" height="3.4"/><rect x="336.06" y="58.52" width="3.4" height="3.4"/><rect x="336.06" y="62.47" width="3.4" height="3.4"/><rect x="336.06" y="66.42" width="3.4" height="3.4"/><rect x="336.06" y="70.36" width="3.4" height="3.4"/><rect x="336.06" y="74.31" width="3.4" height="3.4"/><rect x="336.06" y="78.26" width="3.4" height="3.4"/><rect x="336.06" y="82.21" width="3.4" height="3.4"/><rect x="336.06" y="86.16" width="3.4" height="3.4"/><rect x="336.06" y="90.10" width="3.4" height="3.4"/><rect x="336.06" y="94.05" width="3.4" height="3.4"/><rect x="336.06" y="98.00" width="3.4" height="3.4"/><rect x="336.06" y="101.95" width="3.4" height="3.4"/><rect x="336.06" y="105.90" width="3.4" height="3.4"/><rect x="336.06" y="109.84" width="3.4" height="3.4"/><rect x="336.06" y="113.79" width="3.4" height="3.4"/><rect x="336.06" y="117.74" width="3.4" height="3.4"/><rect x="336.06" y="121.69" width="3.4" height="3.4"/><rect x="336.06" y="125.64" width="3.4" height="3.4"/><rect x="336.06" y="129.58" width="3.4" height="3.4"/><rect x="336.06" y="133.53" width="3.4" height="3.4"/><rect x="336.06" y="137.48" width="3.4" height="3.4"/><rect x="336.06" y="141.43" width="3.4" height="3.4"/><rect x="336.06" y="145.38" width="3.4" height="3.4"/><rect x="336.06" y="149.32" width="3.4" height="3.4"/><rect x="336.06" y="153.27" width="3.4" height="3.4"/><rect x="336.06" y="157.22" width="3.4" height="3.4"/><rect x="336.06" y="161.17" width="3.4" height="3.4"/><rect x="336.06" y="165.12" width="3.4" height="3.4"/><rect x="336.06" y="169.06" width="3.4" height="3.4"/><rect x="336.06" y="173.01" width="3.4" height="3.4"/><rect x="336.06" y="176.96" width="3.4" height="3.4"/><rect x="342.40" y="-0.70" width="3.4" height="3.4"/><rect x="342.40" y="3.25" width="3.4" height="3.4"/><rect x="342.40" y="7.20" width="3.4" height="3.4"/><rect x="342.40" y="11.14" width="3.4" height="3.4"/><rect x="342.40" y="15.09" width="3.4" height="3.4"/><rect x="342.40" y="19.04" width="3.4" height="3.4"/><rect x="342.40" y="22.99" width="3.4" height="3.4"/><rect x="342.40" y="26.94" width="3.4" height="3.4"/><rect x="342.40" y="30.88" width="3.4" height="3.4"/><rect x="342.40" y="34.83" width="3.4" height="3.4"/><rect x="342.40" y="38.78" width="3.4" height="3.4"/><rect x="342.40" y="42.73" width="3.4" height="3.4"/><rect x="342.40" y="46.68" width="3.4" height="3.4"/><rect x="342.40" y="50.62" width="3.4" height="3.4"/><rect x="342.40" y="54.57" width="3.4" height="3.4"/><rect x="342.40" y="58.52" width="3.4" height="3.4"/><rect x="342.40" y="62.47" width="3.4" height="3.4"/><rect x="342.40" y="66.42" width="3.4" height="3.4"/><rect x="342.40" y="70.36" width="3.4" height="3.4"/><rect x="342.40" y="74.31" width="3.4" height="3.4"/><rect x="342.40" y="78.26" width="3.4" height="3.4"/><rect x="342.40" y="82.21" width="3.4" height="3.4"/><rect x="342.40" y="86.16" width="3.4" height="3.4"/><rect x="342.40" y="90.10" width="3.4" height="3.4"/><rect x="342.40" y="94.05" width="3.4" height="3.4"/><rect x="342.40" y="98.00" width="3.4" height="3.4"/><rect x="342.40" y="101.95" width="3.4" height="3.4"/><rect x="342.40" y="105.90" width="3.4" height="3.4"/><rect x="342.40" y="109.84" width="3.4" height="3.4"/><rect x="342.40" y="113.79" width="3.4" height="3.4"/><rect x="342.40" y="117.74" width="3.4" height="3.4"/><rect x="342.40" y="121.69" width="3.4" height="3.4"/><rect x="342.40" y="125.64" width="3.4" height="3.4"/><rect x="342.40" y="129.58" width="3.4" height="3.4"/><rect x="342.40" y="133.53" width="3.4" height="3.4"/><rect x="342.40" y="137.48" width="3.4" height="3.4"/><rect x="342.40" y="141.43" width="3.4" height="3.4"/><rect x="342.40" y="145.38" width="3.4" height="3.4"/><rect x="342.40" y="149.32" width="3.4" height="3.4"/><rect x="342.40" y="153.27" width="3.4" height="3.4"/><rect x="342.40" y="157.22" width="3.4" height="3.4"/><rect x="342.40" y="161.17" width="3.4" height="3.4"/><rect x="342.40" y="165.12" width="3.4" height="3.4"/><rect x="342.40" y="169.06" width="3.4" height="3.4"/><rect x="342.40" y="173.01" width="3.4" height="3.4"/><rect x="342.40" y="176.96" width="3.4" height="3.4"/></g><g fill="#ff0000"><circle cx="96.68" cy="1.00" r="1.5"/><circle cx="103.03" cy="1.00" r="1.5"/><circle cx="103.03" cy="4.95" r="1.5"/><circle cx="103.03" cy="8.90" r="1.5"/><circle cx="103.03" cy="12.84" r="1.5"/><circle cx="103.03" cy="16.79" r="1.5"/><circle cx="109.37" cy="4.95" r="1.5"/><circle cx="109.37" cy="8.90" r="1.5"/><circle cx="109.37" cy="12.84" r="1.35"/><circle cx="109.37" cy="16.79" r="1.5"/><circle cx="109.37" cy="20.74" r="1.5"/><circle cx="109.37" cy="24.69" r="1.5"/><circle cx="109.37" cy="28.64" r="1.5"/><circle cx="115.72" cy="1.00" r="1.35"/><circle cx="115.72" cy="4.95" r="1.35"/><circle cx="115.72" cy="8.90" r="1.35"/><circle cx="115.72" cy="12.84" r="1.35"/><circle cx="115.72" cy="16.79" r="1.5"/><circle cx="115.72" cy="20.74" r="1.5"/><circle cx="115.72" cy="24.69" r="1.35"/><circle cx="115.72" cy="28.64" r="1.5"/><circle cx="115.72" cy="32.58" r="1.5"/><circle cx="115.72" cy="36.53" r="1.5"/><circle cx="115.72" cy="40.48" r="1.5"/><circle cx="115.72" cy="44.43" r="1.5"/><circle cx="122.06" cy="1.00" r="1.35"/><circle cx="122.06" cy="4.95" r="1.35"/><circle cx="122.06" cy="8.90" r="1.35"/><circle cx="122.06" cy="12.84" r="1.35"/><circle cx="122.06" cy="16.79" r="1.35"/><circle cx="122.06" cy="20.74" r="1.35"/><circle cx="122.06" cy="24.69" r="1.5"/><circle cx="122.06" cy="28.64" r="1.35"/><circle cx="122.06" cy="32.58" r="1.35"/><circle cx="122.06" cy="36.53" r="1.5"/><circle cx="122.06" cy="40.48" r="1.5"/><circle cx="122.06" cy="44.43" r="1.35"/><circle cx="122.06" cy="48.38" r="1.5"/><circle cx="122.06" cy="52.32" r="1.5"/><circle cx="128.40" cy="1.00" r="1.35"/><circle cx="128.40" cy="4.95" r="1.35"/><circle cx="128.40" cy="8.90" r="1.35"/><circle cx="128.40" cy="12.84" r="1.35"/><circle cx="128.40" cy="16.79" r="1.35"/><circle cx="128.40" cy="20.74" r="1.35"/><circle cx="128.40" cy="24.69" r="1.35"/><circle cx="128.40" cy="28.64" r="1.35"/><circle cx="128.40" cy="32.58" r="1.35"/><circle cx="128.40" cy="36.53" r="1.35"/><circle cx="128.40" cy="40.48" r="1.35"/><circle cx="128.40" cy="44.43" r="1.5"/><circle cx="128.40" cy="48.38" r="1.35"/><circle cx="128.40" cy="52.32" r="1.35"/><circle cx="128.40" cy="56.27" r="1.5"/><circle cx="128.40" cy="60.22" r="1.35"/><circle cx="128.40" cy="64.17" r="1.5"/><circle cx="134.75" cy="1.00" r="1.35"/><circle cx="134.75" cy="4.95" r="1.35"/><circle cx="134.75" cy="8.90" r="1.35"/><circle cx="134.75" cy="12.84" r="1.35"/><circle cx="134.75" cy="16.79" r="1.35"/><circle cx="134.75" cy="20.74" r="1.35"/><circle cx="134.75" cy="24.69" r="1.35"/><circle cx="134.75" cy="28.64" r="1.35"/><circle cx="134.75" cy="32.58" r="1.35"/><circle cx="134.75" cy="36.53" r="1.35"/><circle cx="134.75" cy="40.48" r="1.35"/><circle cx="134.75" cy="44.43" r="1.5"/><circle cx="134.75" cy="48.38" r="1.35"/><circle cx="134.75" cy="52.32" r="1.35"/><circle cx="134.75" cy="56.27" r="1.35"/><circle cx="134.75" cy="60.22" r="1.5"/><circle cx="134.75" cy="64.17" r="1.35"/><circle cx="134.75" cy="68.12" r="1.35"/><circle cx="134.75" cy="72.06" r="1.5"/><circle cx="141.09" cy="1.00" r="1.35"/><circle cx="141.09" cy="4.95" r="1.35"/><circle cx="141.09" cy="8.90" r="1.35"/><circle cx="141.09" cy="12.84" r="1.35"/><circle cx="141.09" cy="16.79" r="1.35"/><circle cx="141.09" cy="20.74" r="1.35"/><circle cx="141.09" cy="24.69" r="1.35"/><circle cx="141.09" cy="28.64" r="1.35"/><circle cx="141.09" cy="32.58" r="1.35"/><circle cx="141.09" cy="36.53" r="1.35"/><circle cx="141.09" cy="40.48" r="1.35"/><circle cx="141.09" cy="44.43" r="1.35"/><circle cx="141.09" cy="48.38" r="1.35"/><circle cx="141.09" cy="52.32" r="1.35"/><circle cx="141.09" cy="56.27" r="1.35"/><circle cx="141.09" cy="60.22" r="1.5"/><circle cx="141.09" cy="64.17" r="1.5"/><circle cx="141.09" cy="68.12" r="1.35"/><circle cx="141.09" cy="72.06" r="1.5"/><circle cx="141.09" cy="76.01" r="1.35"/><circle cx="147.44" cy="1.00" r="1.35"/><circle cx="147.44" cy="4.95" r="1.35"/><circle cx="147.44" cy="8.90" r="1.35"/><circle cx="147.44" cy="12.84" r="1.35"/><circle cx="147.44" cy="16.79" r="1.35"/><circle cx="147.44" cy="20.74" r="1.35"/><circle cx="147.44" cy="24.69" r="1.35"/><circle cx="147.44" cy="28.64" r="1.35"/><circle cx="147.44" cy="32.58" r="1.35"/><circle cx="147.44" cy="36.53" r="1.35"/><circle cx="147.44" cy="40.48" r="1.35"/><circle cx="147.44" cy="44.43" r="1.35"/><circle cx="147.44" cy="48.38" r="1.35"/><circle cx="147.44" cy="52.32" r="1.35"/><circle cx="147.44" cy="56.27" r="1.35"/><circle cx="147.44" cy="60.22" r="1.35"/><circle cx="147.44" cy="64.17" r="1.35"/><circle cx="147.44" cy="68.12" r="1.35"/><circle cx="147.44" cy="72.06" r="1.35"/><circle cx="147.44" cy="76.01" r="1.35"/><circle cx="147.44" cy="79.96" r="1.5"/><circle cx="147.44" cy="83.91" r="1.5"/><circle cx="153.78" cy="1.00" r="1.35"/><circle cx="153.78" cy="4.95" r="1.35"/><circle cx="153.78" cy="8.90" r="1.35"/><circle cx="153.78" cy="12.84" r="1.35"/><circle cx="153.78" cy="16.79" r="1.35"/><circle cx="153.78" cy="20.74" r="1.35"/><circle cx="153.78" cy="24.69" r="1.35"/><circle cx="153.78" cy="28.64" r="1.35"/><circle cx="153.78" cy="32.58" r="1.35"/><circle cx="153.78" cy="36.53" r="1.35"/><circle cx="153.78" cy="40.48" r="1.35"/><circle cx="153.78" cy="44.43" r="1.35"/><circle cx="153.78" cy="48.38" r="1.35"/><circle cx="153.78" cy="52.32" r="1.35"/><circle cx="153.78" cy="56.27" r="1.35"/><circle cx="153.78" cy="60.22" r="1.35"/><circle cx="153.78" cy="64.17" r="1.35"/><circle cx="153.78" cy="68.12" r="1.5"/><circle cx="153.78" cy="72.06" r="1.5"/><circle cx="153.78" cy="76.01" r="1.35"/><circle cx="153.78" cy="79.96" r="1.5"/><circle cx="153.78" cy="83.91" r="1.5"/><circle cx="153.78" cy="87.86" r="1.5"/><circle cx="160.12" cy="1.00" r="1.35"/><circle cx="160.12" cy="4.95" r="1.35"/><circle cx="160.12" cy="8.90" r="1.35"/><circle cx="160.12" cy="12.84" r="1.35"/><circle cx="160.12" cy="16.79" r="1.35"/><circle cx="160.12" cy="20.74" r="1.35"/><circle cx="160.12" cy="24.69" r="1.35"/><circle cx="160.12" cy="28.64" r="1.35"/><circle cx="160.12" cy="32.58" r="1.35"/><circle cx="160.12" cy="36.53" r="1.35"/><circle cx="160.12" cy="40.48" r="1.35"/><circle cx="160.12" cy="44.43" r="1.35"/><circle cx="160.12" cy="48.38" r="1.35"/><circle cx="160.12" cy="52.32" r="1.35"/><circle cx="160.12" cy="56.27" r="1.35"/><circle cx="160.12" cy="60.22" r="1.35"/><circle cx="160.12" cy="64.17" r="1.35"/><circle cx="160.12" cy="68.12" r="1.35"/><circle cx="160.12" cy="72.06" r="1.35"/><circle cx="160.12" cy="76.01" r="1.35"/><circle cx="160.12" cy="79.96" r="1.35"/><circle cx="160.12" cy="83.91" r="1.5"/><circle cx="160.12" cy="87.86" r="1.35"/><circle cx="160.12" cy="91.80" r="1.5"/><circle cx="160.12" cy="95.75" r="1.35"/><circle cx="166.47" cy="1.00" r="1.35"/><circle cx="166.47" cy="4.95" r="1.35"/><circle cx="166.47" cy="8.90" r="1.35"/><circle cx="166.47" cy="12.84" r="1.35"/><circle cx="166.47" cy="16.79" r="1.35"/><circle cx="166.47" cy="20.74" r="1.35"/><circle cx="166.47" cy="24.69" r="1.35"/><circle cx="166.47" cy="28.64" r="1.35"/><circle cx="166.47" cy="32.58" r="1.35"/><circle cx="166.47" cy="36.53" r="1.35"/><circle cx="166.47" cy="40.48" r="1.35"/><circle cx="166.47" cy="44.43" r="1.35"/><circle cx="166.47" cy="48.38" r="1.35"/><circle cx="166.47" cy="52.32" r="1.35"/><circle cx="166.47" cy="56.27" r="1.35"/><circle cx="166.47" cy="60.22" r="1.35"/><circle cx="166.47" cy="64.17" r="1.35"/><circle cx="166.47" cy="68.12" r="1.35"/><circle cx="166.47" cy="72.06" r="1.35"/><circle cx="166.47" cy="76.01" r="1.35"/><circle cx="166.47" cy="79.96" r="1.5"/><circle cx="166.47" cy="83.91" r="1.35"/><circle cx="166.47" cy="87.86" r="1.35"/><circle cx="166.47" cy="91.80" r="1.35"/><circle cx="166.47" cy="95.75" r="1.5"/><circle cx="166.47" cy="99.70" r="1.5"/><circle cx="166.47" cy="103.65" r="1.5"/><circle cx="172.81" cy="1.00" r="1.35"/><circle cx="172.81" cy="4.95" r="1.35"/><circle cx="172.81" cy="8.90" r="1.35"/><circle cx="172.81" cy="12.84" r="1.35"/><circle cx="172.81" cy="16.79" r="1.35"/><circle cx="172.81" cy="20.74" r="1.35"/><circle cx="172.81" cy="24.69" r="1.35"/><circle cx="172.81" cy="28.64" r="1.35"/><circle cx="172.81" cy="32.58" r="1.35"/><circle cx="172.81" cy="36.53" r="1.35"/><circle cx="172.81" cy="40.48" r="1.35"/><circle cx="172.81" cy="44.43" r="1.35"/><circle cx="172.81" cy="48.38" r="1.35"/><circle cx="172.81" cy="52.32" r="1.35"/><circle cx="172.81" cy="56.27" r="1.35"/><circle cx="172.81" cy="60.22" r="1.35"/><circle cx="172.81" cy="64.17" r="1.35"/><circle cx="172.81" cy="68.12" r="1.35"/><circle cx="172.81" cy="72.06" r="1.35"/><circle cx="172.81" cy="76.01" r="1.35"/><circle cx="172.81" cy="79.96" r="1.35"/><circle cx="172.81" cy="83.91" r="1.35"/><circle cx="172.81" cy="87.86" r="1.35"/><circle cx="172.81" cy="91.80" r="1.35"/><circle cx="172.81" cy="95.75" r="1.5"/><circle cx="172.81" cy="99.70" r="1.35"/><circle cx="172.81" cy="103.65" r="1.5"/><circle cx="172.81" cy="107.60" r="1.00" fill="#ffb0b0" stroke="#ff1a1a" stroke-width="0.7"/><circle cx="179.16" cy="1.00" r="1.35"/><circle cx="179.16" cy="4.95" r="1.35"/><circle cx="179.16" cy="8.90" r="1.35"/><circle cx="179.16" cy="12.84" r="1.35"/><circle cx="179.16" cy="16.79" r="1.35"/><circle cx="179.16" cy="20.74" r="1.35"/><circle cx="179.16" cy="24.69" r="1.35"/><circle cx="179.16" cy="28.64" r="1.35"/><circle cx="179.16" cy="32.58" r="1.35"/><circle cx="179.16" cy="36.53" r="1.35"/><circle cx="179.16" cy="40.48" r="1.35"/><circle cx="179.16" cy="44.43" r="1.35"/><circle cx="179.16" cy="48.38" r="1.35"/><circle cx="179.16" cy="52.32" r="1.35"/><circle cx="179.16" cy="56.27" r="1.35"/><circle cx="179.16" cy="60.22" r="1.35"/><circle cx="179.16" cy="64.17" r="1.35"/><circle cx="179.16" cy="68.12" r="1.35"/><circle cx="179.16" cy="72.06" r="1.35"/><circle cx="179.16" cy="76.01" r="1.35"/><circle cx="179.16" cy="79.96" r="1.35"/><circle cx="179.16" cy="83.91" r="1.35"/><circle cx="179.16" cy="87.86" r="1.35"/><circle cx="179.16" cy="91.80" r="1.35"/><circle cx="179.16" cy="95.75" r="1.35"/><circle cx="179.16" cy="99.70" r="1.35"/><circle cx="179.16" cy="103.65" r="1.35"/><circle cx="179.16" cy="107.60" r="1.5"/><circle cx="179.16" cy="111.54" r="1.15" fill="#ffb0b0" stroke="#ff1a1a" stroke-width="0.7"/><circle cx="179.16" cy="115.49" r="1.15" fill="#ffb0b0" stroke="#ff1a1a" stroke-width="0.7"/><circle cx="185.50" cy="1.00" r="1.35"/><circle cx="185.50" cy="4.95" r="1.35"/><circle cx="185.50" cy="8.90" r="1.35"/><circle cx="185.50" cy="12.84" r="1.35"/><circle cx="185.50" cy="16.79" r="1.35"/><circle cx="185.50" cy="20.74" r="1.35"/><circle cx="185.50" cy="24.69" r="1.35"/><circle cx="185.50" cy="28.64" r="1.35"/><circle cx="185.50" cy="32.58" r="1.35"/><circle cx="185.50" cy="36.53" r="1.35"/><circle cx="185.50" cy="40.48" r="1.35"/><circle cx="185.50" cy="44.43" r="1.35"/><circle cx="185.50" cy="48.38" r="1.35"/><circle cx="185.50" cy="52.32" r="1.35"/><circle cx="185.50" cy="56.27" r="1.35"/><circle cx="185.50" cy="60.22" r="1.35"/><circle cx="185.50" cy="64.17" r="1.35"/><circle cx="185.50" cy="68.12" r="1.35"/><circle cx="185.50" cy="72.06" r="1.35"/><circle cx="185.50" cy="76.01" r="1.35"/><circle cx="185.50" cy="79.96" r="1.35"/><circle cx="185.50" cy="83.91" r="1.35"/><circle cx="185.50" cy="87.86" r="1.35"/><circle cx="185.50" cy="91.80" r="1.35"/><circle cx="185.50" cy="95.75" r="1.35"/><circle cx="185.50" cy="99.70" r="1.35"/><circle cx="185.50" cy="103.65" r="1.35"/><circle cx="185.50" cy="107.60" r="1.35"/><circle cx="185.50" cy="111.54" r="1.35"/><circle cx="185.50" cy="115.49" r="1.5"/><circle cx="185.50" cy="119.44" r="1.00" fill="#ffb0b0" stroke="#ff1a1a" stroke-width="0.7"/><circle cx="191.84" cy="1.00" r="1.35"/><circle cx="191.84" cy="4.95" r="1.35"/><circle cx="191.84" cy="8.90" r="1.35"/><circle cx="191.84" cy="12.84" r="1.35"/><circle cx="191.84" cy="16.79" r="1.35"/><circle cx="191.84" cy="20.74" r="1.35"/><circle cx="191.84" cy="24.69" r="1.35"/><circle cx="191.84" cy="28.64" r="1.35"/><circle cx="191.84" cy="32.58" r="1.35"/><circle cx="191.84" cy="36.53" r="1.35"/><circle cx="191.84" cy="40.48" r="1.35"/><circle cx="191.84" cy="44.43" r="1.35"/><circle cx="191.84" cy="48.38" r="1.35"/><circle cx="191.84" cy="52.32" r="1.35"/><circle cx="191.84" cy="56.27" r="1.35"/><circle cx="191.84" cy="60.22" r="1.35"/><circle cx="191.84" cy="64.17" r="1.35"/><circle cx="191.84" cy="68.12" r="1.35"/><circle cx="191.84" cy="72.06" r="1.35"/><circle cx="191.84" cy="76.01" r="1.35"/><circle cx="191.84" cy="79.96" r="1.35"/><circle cx="191.84" cy="83.91" r="1.35"/><circle cx="191.84" cy="87.86" r="1.35"/><circle cx="191.84" cy="91.80" r="1.35"/><circle cx="191.84" cy="95.75" r="1.35"/><circle cx="191.84" cy="99.70" r="1.35"/><circle cx="191.84" cy="103.65" r="1.35"/><circle cx="191.84" cy="107.60" r="1.35"/><circle cx="191.84" cy="111.54" r="1.35"/><circle cx="191.84" cy="115.49" r="1.5"/><circle cx="191.84" cy="119.44" r="1.35"/><circle cx="191.84" cy="123.39" r="1.15" fill="#ffb0b0" stroke="#ff1a1a" stroke-width="0.7"/><circle cx="198.19" cy="1.00" r="1.35"/><circle cx="198.19" cy="4.95" r="1.35"/><circle cx="198.19" cy="8.90" r="1.35"/><circle cx="198.19" cy="12.84" r="1.35"/><circle cx="198.19" cy="16.79" r="1.35"/><circle cx="198.19" cy="20.74" r="1.35"/><circle cx="198.19" cy="24.69" r="1.35"/><circle cx="198.19" cy="28.64" r="1.35"/><circle cx="198.19" cy="32.58" r="1.35"/><circle cx="198.19" cy="36.53" r="1.35"/><circle cx="198.19" cy="40.48" r="1.35"/><circle cx="198.19" cy="44.43" r="1.35"/><circle cx="198.19" cy="48.38" r="1.35"/><circle cx="198.19" cy="52.32" r="1.35"/><circle cx="198.19" cy="56.27" r="1.35"/><circle cx="198.19" cy="60.22" r="1.35"/><circle cx="198.19" cy="64.17" r="1.35"/><circle cx="198.19" cy="68.12" r="1.35"/><circle cx="198.19" cy="72.06" r="1.35"/><circle cx="198.19" cy="76.01" r="1.35"/><circle cx="198.19" cy="79.96" r="1.35"/><circle cx="198.19" cy="83.91" r="1.35"/><circle cx="198.19" cy="87.86" r="1.35"/><circle cx="198.19" cy="91.80" r="1.35"/><circle cx="198.19" cy="95.75" r="1.35"/><circle cx="198.19" cy="99.70" r="1.35"/><circle cx="198.19" cy="103.65" r="1.35"/><circle cx="198.19" cy="107.60" r="1.35"/><circle cx="198.19" cy="111.54" r="1.35"/><circle cx="198.19" cy="115.49" r="1.35"/><circle cx="198.19" cy="119.44" r="1.35"/><circle cx="198.19" cy="123.39" r="1.35"/><circle cx="198.19" cy="127.34" r="1.00" fill="#ffb0b0" stroke="#ff1a1a" stroke-width="0.7"/><circle cx="198.19" cy="131.28" r="1.15" fill="#ffb0b0" stroke="#ff1a1a" stroke-width="0.7"/><circle cx="204.53" cy="1.00" r="1.35"/><circle cx="204.53" cy="4.95" r="1.35"/><circle cx="204.53" cy="8.90" r="1.35"/><circle cx="204.53" cy="12.84" r="1.35"/><circle cx="204.53" cy="16.79" r="1.35"/><circle cx="204.53" cy="20.74" r="1.35"/><circle cx="204.53" cy="24.69" r="1.35"/><circle cx="204.53" cy="28.64" r="1.35"/><circle cx="204.53" cy="32.58" r="1.35"/><circle cx="204.53" cy="36.53" r="1.35"/><circle cx="204.53" cy="40.48" r="1.35"/><circle cx="204.53" cy="44.43" r="1.35"/><circle cx="204.53" cy="48.38" r="1.35"/><circle cx="204.53" cy="52.32" r="1.35"/><circle cx="204.53" cy="56.27" r="1.35"/><circle cx="204.53" cy="60.22" r="1.35"/><circle cx="204.53" cy="64.17" r="1.35"/><circle cx="204.53" cy="68.12" r="1.35"/><circle cx="204.53" cy="72.06" r="1.35"/><circle cx="204.53" cy="76.01" r="1.35"/><circle cx="204.53" cy="79.96" r="1.35"/><circle cx="204.53" cy="83.91" r="1.35"/><circle cx="204.53" cy="87.86" r="1.35"/><circle cx="204.53" cy="91.80" r="1.35"/><circle cx="204.53" cy="95.75" r="1.35"/><circle cx="204.53" cy="99.70" r="1.35"/><circle cx="204.53" cy="103.65" r="1.35"/><circle cx="204.53" cy="107.60" r="1.35"/><circle cx="204.53" cy="111.54" r="1.35"/><circle cx="204.53" cy="115.49" r="1.35"/><circle cx="204.53" cy="119.44" r="1.35"/><circle cx="204.53" cy="123.39" r="1.35"/><circle cx="204.53" cy="127.34" r="1.35"/><circle cx="204.53" cy="131.28" r="1.35"/><circle cx="204.53" cy="135.23" r="1.00" fill="#ffb0b0" stroke="#ff1a1a" stroke-width="0.7"/><circle cx="210.88" cy="1.00" r="1.35"/><circle cx="210.88" cy="4.95" r="1.35"/><circle cx="210.88" cy="8.90" r="1.35"/><circle cx="210.88" cy="12.84" r="1.35"/><circle cx="210.88" cy="16.79" r="1.35"/><circle cx="210.88" cy="20.74" r="1.35"/><circle cx="210.88" cy="24.69" r="1.35"/><circle cx="210.88" cy="28.64" r="1.35"/><circle cx="210.88" cy="32.58" r="1.35"/><circle cx="210.88" cy="36.53" r="1.35"/><circle cx="210.88" cy="40.48" r="1.35"/><circle cx="210.88" cy="44.43" r="1.35"/><circle cx="210.88" cy="48.38" r="1.35"/><circle cx="210.88" cy="52.32" r="1.35"/><circle cx="210.88" cy="56.27" r="1.35"/><circle cx="210.88" cy="60.22" r="1.35"/><circle cx="210.88" cy="64.17" r="1.35"/><circle cx="210.88" cy="68.12" r="1.35"/><circle cx="210.88" cy="72.06" r="1.35"/><circle cx="210.88" cy="76.01" r="1.35"/><circle cx="210.88" cy="79.96" r="1.35"/><circle cx="210.88" cy="83.91" r="1.35"/><circle cx="210.88" cy="87.86" r="1.35"/><circle cx="210.88" cy="91.80" r="1.35"/><circle cx="210.88" cy="95.75" r="1.35"/><circle cx="210.88" cy="99.70" r="1.35"/><circle cx="210.88" cy="103.65" r="1.35"/><circle cx="210.88" cy="107.60" r="1.35"/><circle cx="210.88" cy="111.54" r="1.35"/><circle cx="210.88" cy="115.49" r="1.35"/><circle cx="210.88" cy="119.44" r="1.35"/><circle cx="210.88" cy="123.39" r="1.35"/><circle cx="210.88" cy="127.34" r="1.35"/><circle cx="210.88" cy="131.28" r="1.35"/><circle cx="210.88" cy="135.23" r="1.35"/><circle cx="210.88" cy="139.18" r="1.00" fill="#ffb0b0" stroke="#ff1a1a" stroke-width="0.7"/><circle cx="217.22" cy="1.00" r="1.35"/><circle cx="217.22" cy="4.95" r="1.35"/><circle cx="217.22" cy="8.90" r="1.35"/><circle cx="217.22" cy="12.84" r="1.35"/><circle cx="217.22" cy="16.79" r="1.35"/><circle cx="217.22" cy="20.74" r="1.35"/><circle cx="217.22" cy="24.69" r="1.35"/><circle cx="217.22" cy="28.64" r="1.35"/><circle cx="217.22" cy="32.58" r="1.35"/><circle cx="217.22" cy="36.53" r="1.35"/><circle cx="217.22" cy="40.48" r="1.35"/><circle cx="217.22" cy="44.43" r="1.35"/><circle cx="217.22" cy="48.38" r="1.35"/><circle cx="217.22" cy="52.32" r="1.35"/><circle cx="217.22" cy="56.27" r="1.35"/><circle cx="217.22" cy="60.22" r="1.35"/><circle cx="217.22" cy="64.17" r="1.35"/><circle cx="217.22" cy="68.12" r="1.35"/><circle cx="217.22" cy="72.06" r="1.35"/><circle cx="217.22" cy="76.01" r="1.35"/><circle cx="217.22" cy="79.96" r="1.35"/><circle cx="217.22" cy="83.91" r="1.35"/><circle cx="217.22" cy="87.86" r="1.35"/><circle cx="217.22" cy="91.80" r="1.35"/><circle cx="217.22" cy="95.75" r="1.35"/><circle cx="217.22" cy="99.70" r="1.35"/><circle cx="217.22" cy="103.65" r="1.35"/><circle cx="217.22" cy="107.60" r="1.35"/><circle cx="217.22" cy="111.54" r="1.35"/><circle cx="217.22" cy="115.49" r="1.35"/><circle cx="217.22" cy="119.44" r="1.35"/><circle cx="217.22" cy="123.39" r="1.35"/><circle cx="217.22" cy="127.34" r="1.35"/><circle cx="217.22" cy="131.28" r="1.35"/><circle cx="217.22" cy="135.23" r="1.35"/><circle cx="217.22" cy="139.18" r="1.35"/><circle cx="217.22" cy="143.13" r="1.00" fill="#ffb0b0" stroke="#ff1a1a" stroke-width="0.7"/><circle cx="223.56" cy="1.00" r="1.35"/><circle cx="223.56" cy="4.95" r="1.35"/><circle cx="223.56" cy="8.90" r="1.35"/><circle cx="223.56" cy="12.84" r="1.35"/><circle cx="223.56" cy="16.79" r="1.35"/><circle cx="223.56" cy="20.74" r="1.35"/><circle cx="223.56" cy="24.69" r="1.35"/><circle cx="223.56" cy="28.64" r="1.35"/><circle cx="223.56" cy="32.58" r="1.35"/><circle cx="223.56" cy="36.53" r="1.35"/><circle cx="223.56" cy="40.48" r="1.35"/><circle cx="223.56" cy="44.43" r="1.35"/><circle cx="223.56" cy="48.38" r="1.35"/><circle cx="223.56" cy="52.32" r="1.35"/><circle cx="223.56" cy="56.27" r="1.35"/><circle cx="223.56" cy="60.22" r="1.35"/><circle cx="223.56" cy="64.17" r="1.35"/><circle cx="223.56" cy="68.12" r="1.35"/><circle cx="223.56" cy="72.06" r="1.35"/><circle cx="223.56" cy="76.01" r="1.35"/><circle cx="223.56" cy="79.96" r="1.35"/><circle cx="223.56" cy="83.91" r="1.35"/><circle cx="223.56" cy="87.86" r="1.35"/><circle cx="223.56" cy="91.80" r="1.35"/><circle cx="223.56" cy="95.75" r="1.35"/><circle cx="223.56" cy="99.70" r="1.35"/><circle cx="223.56" cy="103.65" r="1.35"/><circle cx="223.56" cy="107.60" r="1.35"/><circle cx="223.56" cy="111.54" r="1.35"/><circle cx="223.56" cy="115.49" r="1.35"/><circle cx="223.56" cy="119.44" r="1.35"/><circle cx="223.56" cy="123.39" r="1.35"/><circle cx="223.56" cy="127.34" r="1.35"/><circle cx="223.56" cy="131.28" r="1.35"/><circle cx="223.56" cy="135.23" r="1.35"/><circle cx="223.56" cy="139.18" r="1.35"/><circle cx="223.56" cy="143.13" r="1.35"/><circle cx="223.56" cy="147.08" r="1.15" fill="#ffb0b0" stroke="#ff1a1a" stroke-width="0.7"/><circle cx="229.91" cy="1.00" r="1.35"/><circle cx="229.91" cy="4.95" r="1.35"/><circle cx="229.91" cy="8.90" r="1.35"/><circle cx="229.91" cy="12.84" r="1.35"/><circle cx="229.91" cy="16.79" r="1.35"/><circle cx="229.91" cy="20.74" r="1.35"/><circle cx="229.91" cy="24.69" r="1.35"/><circle cx="229.91" cy="28.64" r="1.35"/><circle cx="229.91" cy="32.58" r="1.35"/><circle cx="229.91" cy="36.53" r="1.35"/><circle cx="229.91" cy="40.48" r="1.35"/><circle cx="229.91" cy="44.43" r="1.35"/><circle cx="229.91" cy="48.38" r="1.35"/><circle cx="229.91" cy="52.32" r="1.35"/><circle cx="229.91" cy="56.27" r="1.35"/><circle cx="229.91" cy="60.22" r="1.35"/><circle cx="229.91" cy="64.17" r="1.35"/><circle cx="229.91" cy="68.12" r="1.35"/><circle cx="229.91" cy="72.06" r="1.35"/><circle cx="229.91" cy="76.01" r="1.35"/><circle cx="229.91" cy="79.96" r="1.35"/><circle cx="229.91" cy="83.91" r="1.35"/><circle cx="229.91" cy="87.86" r="1.35"/><circle cx="229.91" cy="91.80" r="1.35"/><circle cx="229.91" cy="95.75" r="1.35"/><circle cx="229.91" cy="99.70" r="1.35"/><circle cx="229.91" cy="103.65" r="1.35"/><circle cx="229.91" cy="107.60" r="1.35"/><circle cx="229.91" cy="111.54" r="1.35"/><circle cx="229.91" cy="115.49" r="1.35"/><circle cx="229.91" cy="119.44" r="1.35"/><circle cx="229.91" cy="123.39" r="1.35"/><circle cx="229.91" cy="127.34" r="1.35"/><circle cx="229.91" cy="131.28" r="1.35"/><circle cx="229.91" cy="135.23" r="1.35"/><circle cx="229.91" cy="139.18" r="1.35"/><circle cx="229.91" cy="143.13" r="1.35"/><circle cx="229.91" cy="147.08" r="1.5"/><circle cx="236.25" cy="1.00" r="1.35"/><circle cx="236.25" cy="4.95" r="1.35"/><circle cx="236.25" cy="8.90" r="1.35"/><circle cx="236.25" cy="12.84" r="1.35"/><circle cx="236.25" cy="16.79" r="1.35"/><circle cx="236.25" cy="20.74" r="1.35"/><circle cx="236.25" cy="24.69" r="1.35"/><circle cx="236.25" cy="28.64" r="1.35"/><circle cx="236.25" cy="32.58" r="1.35"/><circle cx="236.25" cy="36.53" r="1.35"/><circle cx="236.25" cy="40.48" r="1.35"/><circle cx="236.25" cy="44.43" r="1.35"/><circle cx="236.25" cy="48.38" r="1.35"/><circle cx="236.25" cy="52.32" r="1.35"/><circle cx="236.25" cy="56.27" r="1.35"/><circle cx="236.25" cy="60.22" r="1.35"/><circle cx="236.25" cy="64.17" r="1.35"/><circle cx="236.25" cy="68.12" r="1.35"/><circle cx="236.25" cy="72.06" r="1.35"/><circle cx="236.25" cy="76.01" r="1.35"/><circle cx="236.25" cy="79.96" r="1.35"/><circle cx="236.25" cy="83.91" r="1.35"/><circle cx="236.25" cy="87.86" r="1.35"/><circle cx="236.25" cy="91.80" r="1.35"/><circle cx="236.25" cy="95.75" r="1.35"/><circle cx="236.25" cy="99.70" r="1.35"/><circle cx="236.25" cy="103.65" r="1.35"/><circle cx="236.25" cy="107.60" r="1.35"/><circle cx="236.25" cy="111.54" r="1.35"/><circle cx="236.25" cy="115.49" r="1.35"/><circle cx="236.25" cy="119.44" r="1.35"/><circle cx="236.25" cy="123.39" r="1.35"/><circle cx="236.25" cy="127.34" r="1.35"/><circle cx="236.25" cy="131.28" r="1.35"/><circle cx="236.25" cy="135.23" r="1.35"/><circle cx="236.25" cy="139.18" r="1.35"/><circle cx="236.25" cy="143.13" r="1.5"/><circle cx="236.25" cy="147.08" r="1.35"/><circle cx="236.25" cy="151.02" r="1.35"/><circle cx="242.60" cy="1.00" r="1.35"/><circle cx="242.60" cy="4.95" r="1.35"/><circle cx="242.60" cy="8.90" r="1.35"/><circle cx="242.60" cy="12.84" r="1.35"/><circle cx="242.60" cy="16.79" r="1.35"/><circle cx="242.60" cy="20.74" r="1.35"/><circle cx="242.60" cy="24.69" r="1.35"/><circle cx="242.60" cy="28.64" r="1.35"/><circle cx="242.60" cy="32.58" r="1.35"/><circle cx="242.60" cy="36.53" r="1.35"/><circle cx="242.60" cy="40.48" r="1.35"/><circle cx="242.60" cy="44.43" r="1.35"/><circle cx="242.60" cy="48.38" r="1.35"/><circle cx="242.60" cy="52.32" r="1.35"/><circle cx="242.60" cy="56.27" r="1.35"/><circle cx="242.60" cy="60.22" r="1.35"/><circle cx="242.60" cy="64.17" r="1.35"/><circle cx="242.60" cy="68.12" r="1.35"/><circle cx="242.60" cy="72.06" r="1.35"/><circle cx="242.60" cy="76.01" r="1.35"/><circle cx="242.60" cy="79.96" r="1.35"/><circle cx="242.60" cy="83.91" r="1.35"/><circle cx="242.60" cy="87.86" r="1.35"/><circle cx="242.60" cy="91.80" r="1.35"/><circle cx="242.60" cy="95.75" r="1.35"/><circle cx="242.60" cy="99.70" r="1.35"/><circle cx="242.60" cy="103.65" r="1.35"/><circle cx="242.60" cy="107.60" r="1.35"/><circle cx="242.60" cy="111.54" r="1.35"/><circle cx="242.60" cy="115.49" r="1.35"/><circle cx="242.60" cy="119.44" r="1.35"/><circle cx="242.60" cy="123.39" r="1.35"/><circle cx="242.60" cy="127.34" r="1.35"/><circle cx="242.60" cy="131.28" r="1.35"/><circle cx="242.60" cy="135.23" r="1.35"/><circle cx="242.60" cy="139.18" r="1.35"/><circle cx="242.60" cy="143.13" r="1.35"/><circle cx="242.60" cy="147.08" r="1.35"/><circle cx="242.60" cy="151.02" r="1.35"/><circle cx="242.60" cy="154.97" r="1.5"/><circle cx="248.94" cy="1.00" r="1.35"/><circle cx="248.94" cy="4.95" r="1.35"/><circle cx="248.94" cy="8.90" r="1.35"/><circle cx="248.94" cy="12.84" r="1.35"/><circle cx="248.94" cy="16.79" r="1.35"/><circle cx="248.94" cy="20.74" r="1.35"/><circle cx="248.94" cy="24.69" r="1.35"/><circle cx="248.94" cy="28.64" r="1.35"/><circle cx="248.94" cy="32.58" r="1.35"/><circle cx="248.94" cy="36.53" r="1.35"/><circle cx="248.94" cy="40.48" r="1.35"/><circle cx="248.94" cy="44.43" r="1.35"/><circle cx="248.94" cy="48.38" r="1.35"/><circle cx="248.94" cy="52.32" r="1.35"/><circle cx="248.94" cy="56.27" r="1.35"/><circle cx="248.94" cy="60.22" r="1.35"/><circle cx="248.94" cy="64.17" r="1.35"/><circle cx="248.94" cy="68.12" r="1.35"/><circle cx="248.94" cy="72.06" r="1.35"/><circle cx="248.94" cy="76.01" r="1.35"/><circle cx="248.94" cy="79.96" r="1.35"/><circle cx="248.94" cy="83.91" r="1.35"/><circle cx="248.94" cy="87.86" r="1.35"/><circle cx="248.94" cy="91.80" r="1.35"/><circle cx="248.94" cy="95.75" r="1.35"/><circle cx="248.94" cy="99.70" r="1.35"/><circle cx="248.94" cy="103.65" r="1.35"/><circle cx="248.94" cy="107.60" r="1.35"/><circle cx="248.94" cy="111.54" r="1.35"/><circle cx="248.94" cy="115.49" r="1.35"/><circle cx="248.94" cy="119.44" r="1.35"/><circle cx="248.94" cy="123.39" r="1.35"/><circle cx="248.94" cy="127.34" r="1.35"/><circle cx="248.94" cy="131.28" r="1.35"/><circle cx="248.94" cy="135.23" r="1.35"/><circle cx="248.94" cy="139.18" r="1.35"/><circle cx="248.94" cy="143.13" r="1.35"/><circle cx="248.94" cy="147.08" r="1.35"/><circle cx="248.94" cy="151.02" r="1.5"/><circle cx="248.94" cy="154.97" r="1.35"/><circle cx="255.28" cy="1.00" r="1.35"/><circle cx="255.28" cy="4.95" r="1.35"/><circle cx="255.28" cy="8.90" r="1.35"/><circle cx="255.28" cy="12.84" r="1.35"/><circle cx="255.28" cy="16.79" r="1.35"/><circle cx="255.28" cy="20.74" r="1.35"/><circle cx="255.28" cy="24.69" r="1.35"/><circle cx="255.28" cy="28.64" r="1.35"/><circle cx="255.28" cy="32.58" r="1.35"/><circle cx="255.28" cy="36.53" r="1.35"/><circle cx="255.28" cy="40.48" r="1.35"/><circle cx="255.28" cy="44.43" r="1.35"/><circle cx="255.28" cy="48.38" r="1.35"/><circle cx="255.28" cy="52.32" r="1.35"/><circle cx="255.28" cy="56.27" r="1.35"/><circle cx="255.28" cy="60.22" r="1.35"/><circle cx="255.28" cy="64.17" r="1.35"/><circle cx="255.28" cy="68.12" r="1.35"/><circle cx="255.28" cy="72.06" r="1.35"/><circle cx="255.28" cy="76.01" r="1.35"/><circle cx="255.28" cy="79.96" r="1.35"/><circle cx="255.28" cy="83.91" r="1.35"/><circle cx="255.28" cy="87.86" r="1.35"/><circle cx="255.28" cy="91.80" r="1.35"/><circle cx="255.28" cy="95.75" r="1.35"/><circle cx="255.28" cy="99.70" r="1.35"/><circle cx="255.28" cy="103.65" r="1.35"/><circle cx="255.28" cy="107.60" r="1.35"/><circle cx="255.28" cy="111.54" r="1.35"/><circle cx="255.28" cy="115.49" r="1.35"/><circle cx="255.28" cy="119.44" r="1.35"/><circle cx="255.28" cy="123.39" r="1.35"/><circle cx="255.28" cy="127.34" r="1.35"/><circle cx="255.28" cy="131.28" r="1.35"/><circle cx="255.28" cy="135.23" r="1.35"/><circle cx="255.28" cy="139.18" r="1.35"/><circle cx="255.28" cy="143.13" r="1.35"/><circle cx="255.28" cy="147.08" r="1.35"/><circle cx="255.28" cy="151.02" r="1.35"/><circle cx="255.28" cy="154.97" r="1.35"/><circle cx="255.28" cy="158.92" r="1.35"/><circle cx="261.63" cy="1.00" r="1.35"/><circle cx="261.63" cy="4.95" r="1.35"/><circle cx="261.63" cy="8.90" r="1.35"/><circle cx="261.63" cy="12.84" r="1.35"/><circle cx="261.63" cy="16.79" r="1.35"/><circle cx="261.63" cy="20.74" r="1.35"/><circle cx="261.63" cy="24.69" r="1.35"/><circle cx="261.63" cy="28.64" r="1.35"/><circle cx="261.63" cy="32.58" r="1.35"/><circle cx="261.63" cy="36.53" r="1.35"/><circle cx="261.63" cy="40.48" r="1.35"/><circle cx="261.63" cy="44.43" r="1.35"/><circle cx="261.63" cy="48.38" r="1.35"/><circle cx="261.63" cy="52.32" r="1.35"/><circle cx="261.63" cy="56.27" r="1.35"/><circle cx="261.63" cy="60.22" r="1.35"/><circle cx="261.63" cy="64.17" r="1.35"/><circle cx="261.63" cy="68.12" r="1.35"/><circle cx="261.63" cy="72.06" r="1.35"/><circle cx="261.63" cy="76.01" r="1.35"/><circle cx="261.63" cy="79.96" r="1.35"/><circle cx="261.63" cy="83.91" r="1.35"/><circle cx="261.63" cy="87.86" r="1.35"/><circle cx="261.63" cy="91.80" r="1.35"/><circle cx="261.63" cy="95.75" r="1.35"/><circle cx="261.63" cy="99.70" r="1.35"/><circle cx="261.63" cy="103.65" r="1.35"/><circle cx="261.63" cy="107.60" r="1.35"/><circle cx="261.63" cy="111.54" r="1.35"/><circle cx="261.63" cy="115.49" r="1.35"/><circle cx="261.63" cy="119.44" r="1.35"/><circle cx="261.63" cy="123.39" r="1.35"/><circle cx="261.63" cy="127.34" r="1.35"/><circle cx="261.63" cy="131.28" r="1.35"/><circle cx="261.63" cy="135.23" r="1.35"/><circle cx="261.63" cy="139.18" r="1.35"/><circle cx="261.63" cy="143.13" r="1.35"/><circle cx="261.63" cy="147.08" r="1.35"/><circle cx="261.63" cy="151.02" r="1.35"/><circle cx="261.63" cy="154.97" r="1.35"/><circle cx="261.63" cy="158.92" r="1.35"/><circle cx="261.63" cy="174.71" r="1.35"/><circle cx="267.97" cy="1.00" r="1.35"/><circle cx="267.97" cy="4.95" r="1.35"/><circle cx="267.97" cy="8.90" r="1.35"/><circle cx="267.97" cy="12.84" r="1.35"/><circle cx="267.97" cy="16.79" r="1.35"/><circle cx="267.97" cy="20.74" r="1.35"/><circle cx="267.97" cy="24.69" r="1.35"/><circle cx="267.97" cy="28.64" r="1.35"/><circle cx="267.97" cy="32.58" r="1.35"/><circle cx="267.97" cy="36.53" r="1.35"/><circle cx="267.97" cy="40.48" r="1.35"/><circle cx="267.97" cy="44.43" r="1.35"/><circle cx="267.97" cy="48.38" r="1.35"/><circle cx="267.97" cy="52.32" r="1.35"/><circle cx="267.97" cy="56.27" r="1.35"/><circle cx="267.97" cy="60.22" r="1.35"/><circle cx="267.97" cy="64.17" r="1.35"/><circle cx="267.97" cy="68.12" r="1.35"/><circle cx="267.97" cy="72.06" r="1.35"/><circle cx="267.97" cy="76.01" r="1.35"/><circle cx="267.97" cy="79.96" r="1.35"/><circle cx="267.97" cy="83.91" r="1.35"/><circle cx="267.97" cy="87.86" r="1.35"/><circle cx="267.97" cy="91.80" r="1.35"/><circle cx="267.97" cy="95.75" r="1.35"/><circle cx="267.97" cy="99.70" r="1.35"/><circle cx="267.97" cy="103.65" r="1.35"/><circle cx="267.97" cy="107.60" r="1.35"/><circle cx="267.97" cy="111.54" r="1.35"/><circle cx="267.97" cy="115.49" r="1.35"/><circle cx="267.97" cy="119.44" r="1.35"/><circle cx="267.97" cy="123.39" r="1.35"/><circle cx="267.97" cy="127.34" r="1.35"/><circle cx="267.97" cy="131.28" r="1.35"/><circle cx="267.97" cy="135.23" r="1.35"/><circle cx="267.97" cy="139.18" r="1.35"/><circle cx="267.97" cy="143.13" r="1.35"/><circle cx="267.97" cy="147.08" r="1.35"/><circle cx="267.97" cy="151.02" r="1.35"/><circle cx="267.97" cy="154.97" r="1.35"/><circle cx="267.97" cy="158.92" r="1.35"/><circle cx="267.97" cy="178.66" r="1.00" fill="#ffb0b0" stroke="#ff1a1a" stroke-width="0.7"/><circle cx="274.32" cy="1.00" r="1.35"/><circle cx="274.32" cy="4.95" r="1.35"/><circle cx="274.32" cy="8.90" r="1.35"/><circle cx="274.32" cy="12.84" r="1.35"/><circle cx="274.32" cy="16.79" r="1.35"/><circle cx="274.32" cy="20.74" r="1.35"/><circle cx="274.32" cy="24.69" r="1.35"/><circle cx="274.32" cy="28.64" r="1.35"/><circle cx="274.32" cy="32.58" r="1.35"/><circle cx="274.32" cy="36.53" r="1.35"/><circle cx="274.32" cy="40.48" r="1.35"/><circle cx="274.32" cy="44.43" r="1.35"/><circle cx="274.32" cy="48.38" r="1.35"/><circle cx="274.32" cy="52.32" r="1.35"/><circle cx="274.32" cy="56.27" r="1.35"/><circle cx="274.32" cy="60.22" r="1.35"/><circle cx="274.32" cy="64.17" r="1.35"/><circle cx="274.32" cy="68.12" r="1.35"/><circle cx="274.32" cy="72.06" r="1.35"/><circle cx="274.32" cy="76.01" r="1.35"/><circle cx="274.32" cy="79.96" r="1.35"/><circle cx="274.32" cy="83.91" r="1.35"/><circle cx="274.32" cy="87.86" r="1.35"/><circle cx="274.32" cy="91.80" r="1.35"/><circle cx="274.32" cy="95.75" r="1.35"/><circle cx="274.32" cy="99.70" r="1.35"/><circle cx="274.32" cy="103.65" r="1.35"/><circle cx="274.32" cy="107.60" r="1.35"/><circle cx="274.32" cy="111.54" r="1.35"/><circle cx="274.32" cy="115.49" r="1.35"/><circle cx="274.32" cy="119.44" r="1.35"/><circle cx="274.32" cy="123.39" r="1.35"/><circle cx="274.32" cy="127.34" r="1.35"/><circle cx="274.32" cy="131.28" r="1.35"/><circle cx="274.32" cy="135.23" r="1.35"/><circle cx="274.32" cy="139.18" r="1.35"/><circle cx="274.32" cy="143.13" r="1.35"/><circle cx="274.32" cy="147.08" r="1.35"/><circle cx="274.32" cy="151.02" r="1.35"/><circle cx="274.32" cy="154.97" r="1.35"/><circle cx="274.32" cy="158.92" r="1.35"/><circle cx="274.32" cy="162.87" r="1.35"/><circle cx="274.32" cy="174.71" r="1.35"/><circle cx="280.66" cy="1.00" r="1.35"/><circle cx="280.66" cy="4.95" r="1.35"/><circle cx="280.66" cy="8.90" r="1.35"/><circle cx="280.66" cy="12.84" r="1.35"/><circle cx="280.66" cy="16.79" r="1.35"/><circle cx="280.66" cy="20.74" r="1.35"/><circle cx="280.66" cy="24.69" r="1.35"/><circle cx="280.66" cy="28.64" r="1.35"/><circle cx="280.66" cy="32.58" r="1.35"/><circle cx="280.66" cy="36.53" r="1.35"/><circle cx="280.66" cy="40.48" r="1.35"/><circle cx="280.66" cy="44.43" r="1.35"/><circle cx="280.66" cy="48.38" r="1.35"/><circle cx="280.66" cy="52.32" r="1.35"/><circle cx="280.66" cy="56.27" r="1.35"/><circle cx="280.66" cy="60.22" r="1.35"/><circle cx="280.66" cy="64.17" r="1.35"/><circle cx="280.66" cy="68.12" r="1.35"/><circle cx="280.66" cy="72.06" r="1.35"/><circle cx="280.66" cy="76.01" r="1.35"/><circle cx="280.66" cy="79.96" r="1.35"/><circle cx="280.66" cy="83.91" r="1.35"/><circle cx="280.66" cy="87.86" r="1.35"/><circle cx="280.66" cy="91.80" r="1.35"/><circle cx="280.66" cy="95.75" r="1.35"/><circle cx="280.66" cy="99.70" r="1.35"/><circle cx="280.66" cy="103.65" r="1.35"/><circle cx="280.66" cy="107.60" r="1.35"/><circle cx="280.66" cy="111.54" r="1.35"/><circle cx="280.66" cy="115.49" r="1.35"/><circle cx="280.66" cy="119.44" r="1.35"/><circle cx="280.66" cy="123.39" r="1.35"/><circle cx="280.66" cy="127.34" r="1.35"/><circle cx="280.66" cy="131.28" r="1.35"/><circle cx="280.66" cy="135.23" r="1.35"/><circle cx="280.66" cy="139.18" r="1.35"/><circle cx="280.66" cy="143.13" r="1.35"/><circle cx="280.66" cy="147.08" r="1.5"/><circle cx="280.66" cy="151.02" r="1.35"/><circle cx="280.66" cy="154.97" r="1.35"/><circle cx="280.66" cy="158.92" r="1.35"/><circle cx="280.66" cy="162.87" r="1.35"/><circle cx="280.66" cy="166.82" r="1.35"/><circle cx="280.66" cy="170.76" r="1.00" fill="#ffb0b0" stroke="#ff1a1a" stroke-width="0.7"/><circle cx="280.66" cy="174.71" r="1.35"/><circle cx="280.66" cy="178.66" r="1.35"/><circle cx="287.00" cy="1.00" r="1.35"/><circle cx="287.00" cy="4.95" r="1.35"/><circle cx="287.00" cy="8.90" r="1.35"/><circle cx="287.00" cy="12.84" r="1.35"/><circle cx="287.00" cy="16.79" r="1.35"/><circle cx="287.00" cy="20.74" r="1.35"/><circle cx="287.00" cy="24.69" r="1.35"/><circle cx="287.00" cy="28.64" r="1.35"/><circle cx="287.00" cy="32.58" r="1.35"/><circle cx="287.00" cy="36.53" r="1.35"/><circle cx="287.00" cy="40.48" r="1.35"/><circle cx="287.00" cy="44.43" r="1.35"/><circle cx="287.00" cy="48.38" r="1.35"/><circle cx="287.00" cy="52.32" r="1.35"/><circle cx="287.00" cy="56.27" r="1.35"/><circle cx="287.00" cy="60.22" r="1.35"/><circle cx="287.00" cy="64.17" r="1.35"/><circle cx="287.00" cy="68.12" r="1.35"/><circle cx="287.00" cy="72.06" r="1.35"/><circle cx="287.00" cy="76.01" r="1.35"/><circle cx="287.00" cy="79.96" r="1.35"/><circle cx="287.00" cy="83.91" r="1.35"/><circle cx="287.00" cy="87.86" r="1.35"/><circle cx="287.00" cy="91.80" r="1.35"/><circle cx="287.00" cy="95.75" r="1.35"/><circle cx="287.00" cy="99.70" r="1.35"/><circle cx="287.00" cy="103.65" r="1.35"/><circle cx="287.00" cy="107.60" r="1.35"/><circle cx="287.00" cy="111.54" r="1.35"/><circle cx="287.00" cy="115.49" r="1.35"/><circle cx="287.00" cy="119.44" r="1.35"/><circle cx="287.00" cy="123.39" r="1.35"/><circle cx="287.00" cy="127.34" r="1.35"/><circle cx="287.00" cy="131.28" r="1.35"/><circle cx="287.00" cy="135.23" r="1.35"/><circle cx="287.00" cy="139.18" r="1.35"/><circle cx="287.00" cy="143.13" r="1.35"/><circle cx="287.00" cy="147.08" r="1.35"/><circle cx="287.00" cy="151.02" r="1.5"/><circle cx="287.00" cy="154.97" r="1.35"/><circle cx="287.00" cy="158.92" r="1.35"/><circle cx="287.00" cy="162.87" r="1.35"/><circle cx="287.00" cy="166.82" r="1.35"/><circle cx="287.00" cy="174.71" r="1.35"/><circle cx="287.00" cy="178.66" r="1.00" fill="#ffb0b0" stroke="#ff1a1a" stroke-width="0.7"/><circle cx="293.35" cy="1.00" r="1.35"/><circle cx="293.35" cy="4.95" r="1.35"/><circle cx="293.35" cy="8.90" r="1.35"/><circle cx="293.35" cy="12.84" r="1.35"/><circle cx="293.35" cy="16.79" r="1.35"/><circle cx="293.35" cy="20.74" r="1.35"/><circle cx="293.35" cy="24.69" r="1.35"/><circle cx="293.35" cy="28.64" r="1.35"/><circle cx="293.35" cy="32.58" r="1.35"/><circle cx="293.35" cy="36.53" r="1.35"/><circle cx="293.35" cy="40.48" r="1.35"/><circle cx="293.35" cy="44.43" r="1.35"/><circle cx="293.35" cy="48.38" r="1.35"/><circle cx="293.35" cy="52.32" r="1.35"/><circle cx="293.35" cy="56.27" r="1.35"/><circle cx="293.35" cy="60.22" r="1.35"/><circle cx="293.35" cy="64.17" r="1.35"/><circle cx="293.35" cy="68.12" r="1.35"/><circle cx="293.35" cy="72.06" r="1.35"/><circle cx="293.35" cy="76.01" r="1.35"/><circle cx="293.35" cy="79.96" r="1.35"/><circle cx="293.35" cy="83.91" r="1.35"/><circle cx="293.35" cy="87.86" r="1.35"/><circle cx="293.35" cy="91.80" r="1.35"/><circle cx="293.35" cy="95.75" r="1.35"/><circle cx="293.35" cy="99.70" r="1.35"/><circle cx="293.35" cy="103.65" r="1.35"/><circle cx="293.35" cy="107.60" r="1.35"/><circle cx="293.35" cy="111.54" r="1.35"/><circle cx="293.35" cy="115.49" r="1.35"/><circle cx="293.35" cy="119.44" r="1.35"/><circle cx="293.35" cy="123.39" r="1.35"/><circle cx="293.35" cy="127.34" r="1.35"/><circle cx="293.35" cy="131.28" r="1.35"/><circle cx="293.35" cy="135.23" r="1.35"/><circle cx="293.35" cy="139.18" r="1.35"/><circle cx="293.35" cy="143.13" r="1.35"/><circle cx="293.35" cy="147.08" r="1.35"/><circle cx="293.35" cy="151.02" r="1.35"/><circle cx="293.35" cy="154.97" r="1.35"/><circle cx="293.35" cy="158.92" r="1.35"/><circle cx="293.35" cy="162.87" r="1.35"/><circle cx="293.35" cy="166.82" r="1.35"/><circle cx="293.35" cy="170.76" r="1.00" fill="#ffb0b0" stroke="#ff1a1a" stroke-width="0.7"/><circle cx="293.35" cy="174.71" r="1.35"/><circle cx="293.35" cy="178.66" r="1.35"/><circle cx="299.69" cy="1.00" r="1.35"/><circle cx="299.69" cy="4.95" r="1.35"/><circle cx="299.69" cy="8.90" r="1.35"/><circle cx="299.69" cy="12.84" r="1.35"/><circle cx="299.69" cy="16.79" r="1.35"/><circle cx="299.69" cy="20.74" r="1.35"/><circle cx="299.69" cy="24.69" r="1.35"/><circle cx="299.69" cy="28.64" r="1.35"/><circle cx="299.69" cy="32.58" r="1.35"/><circle cx="299.69" cy="36.53" r="1.35"/><circle cx="299.69" cy="40.48" r="1.35"/><circle cx="299.69" cy="44.43" r="1.35"/><circle cx="299.69" cy="48.38" r="1.35"/><circle cx="299.69" cy="52.32" r="1.35"/><circle cx="299.69" cy="56.27" r="1.35"/><circle cx="299.69" cy="60.22" r="1.35"/><circle cx="299.69" cy="64.17" r="1.35"/><circle cx="299.69" cy="68.12" r="1.35"/><circle cx="299.69" cy="72.06" r="1.35"/><circle cx="299.69" cy="76.01" r="1.35"/><circle cx="299.69" cy="79.96" r="1.35"/><circle cx="299.69" cy="83.91" r="1.35"/><circle cx="299.69" cy="87.86" r="1.35"/><circle cx="299.69" cy="91.80" r="1.35"/><circle cx="299.69" cy="95.75" r="1.35"/><circle cx="299.69" cy="99.70" r="1.35"/><circle cx="299.69" cy="103.65" r="1.35"/><circle cx="299.69" cy="107.60" r="1.35"/><circle cx="299.69" cy="111.54" r="1.35"/><circle cx="299.69" cy="115.49" r="1.35"/><circle cx="299.69" cy="119.44" r="1.35"/><circle cx="299.69" cy="123.39" r="1.35"/><circle cx="299.69" cy="127.34" r="1.35"/><circle cx="299.69" cy="131.28" r="1.35"/><circle cx="299.69" cy="135.23" r="1.35"/><circle cx="299.69" cy="139.18" r="1.35"/><circle cx="299.69" cy="143.13" r="1.35"/><circle cx="299.69" cy="147.08" r="1.35"/><circle cx="299.69" cy="151.02" r="1.35"/><circle cx="299.69" cy="154.97" r="1.35"/><circle cx="299.69" cy="158.92" r="1.35"/><circle cx="299.69" cy="162.87" r="1.35"/><circle cx="299.69" cy="166.82" r="1.35"/><circle cx="299.69" cy="170.76" r="1.35"/><circle cx="299.69" cy="174.71" r="1.35"/><circle cx="299.69" cy="178.66" r="1.00" fill="#ffb0b0" stroke="#ff1a1a" stroke-width="0.7"/><circle cx="306.04" cy="1.00" r="1.35"/><circle cx="306.04" cy="4.95" r="1.35"/><circle cx="306.04" cy="8.90" r="1.35"/><circle cx="306.04" cy="12.84" r="1.35"/><circle cx="306.04" cy="16.79" r="1.35"/><circle cx="306.04" cy="20.74" r="1.35"/><circle cx="306.04" cy="24.69" r="1.35"/><circle cx="306.04" cy="28.64" r="1.35"/><circle cx="306.04" cy="32.58" r="1.35"/><circle cx="306.04" cy="36.53" r="1.35"/><circle cx="306.04" cy="40.48" r="1.35"/><circle cx="306.04" cy="44.43" r="1.35"/><circle cx="306.04" cy="48.38" r="1.35"/><circle cx="306.04" cy="52.32" r="1.35"/><circle cx="306.04" cy="56.27" r="1.35"/><circle cx="306.04" cy="60.22" r="1.35"/><circle cx="306.04" cy="64.17" r="1.35"/><circle cx="306.04" cy="68.12" r="1.35"/><circle cx="306.04" cy="72.06" r="1.35"/><circle cx="306.04" cy="76.01" r="1.35"/><circle cx="306.04" cy="79.96" r="1.35"/><circle cx="306.04" cy="83.91" r="1.35"/><circle cx="306.04" cy="87.86" r="1.35"/><circle cx="306.04" cy="91.80" r="1.35"/><circle cx="306.04" cy="95.75" r="1.35"/><circle cx="306.04" cy="99.70" r="1.35"/><circle cx="306.04" cy="103.65" r="1.35"/><circle cx="306.04" cy="107.60" r="1.35"/><circle cx="306.04" cy="111.54" r="1.35"/><circle cx="306.04" cy="115.49" r="1.35"/><circle cx="306.04" cy="119.44" r="1.35"/><circle cx="306.04" cy="123.39" r="1.35"/><circle cx="306.04" cy="127.34" r="1.35"/><circle cx="306.04" cy="131.28" r="1.35"/><circle cx="306.04" cy="135.23" r="1.35"/><circle cx="306.04" cy="139.18" r="1.35"/><circle cx="306.04" cy="143.13" r="1.35"/><circle cx="306.04" cy="147.08" r="1.35"/><circle cx="306.04" cy="151.02" r="1.35"/><circle cx="306.04" cy="154.97" r="1.35"/><circle cx="306.04" cy="158.92" r="1.5"/><circle cx="306.04" cy="162.87" r="1.35"/><circle cx="306.04" cy="166.82" r="1.35"/><circle cx="306.04" cy="170.76" r="1.35"/><circle cx="306.04" cy="174.71" r="1.35"/><circle cx="312.38" cy="1.00" r="1.35"/><circle cx="312.38" cy="4.95" r="1.35"/><circle cx="312.38" cy="8.90" r="1.35"/><circle cx="312.38" cy="12.84" r="1.35"/><circle cx="312.38" cy="16.79" r="1.35"/><circle cx="312.38" cy="20.74" r="1.35"/><circle cx="312.38" cy="24.69" r="1.35"/><circle cx="312.38" cy="28.64" r="1.35"/><circle cx="312.38" cy="32.58" r="1.35"/><circle cx="312.38" cy="36.53" r="1.35"/><circle cx="312.38" cy="40.48" r="1.35"/><circle cx="312.38" cy="44.43" r="1.35"/><circle cx="312.38" cy="48.38" r="1.35"/><circle cx="312.38" cy="52.32" r="1.35"/><circle cx="312.38" cy="56.27" r="1.35"/><circle cx="312.38" cy="60.22" r="1.35"/><circle cx="312.38" cy="64.17" r="1.35"/><circle cx="312.38" cy="68.12" r="1.35"/><circle cx="312.38" cy="72.06" r="1.35"/><circle cx="312.38" cy="76.01" r="1.35"/><circle cx="312.38" cy="79.96" r="1.35"/><circle cx="312.38" cy="83.91" r="1.35"/><circle cx="312.38" cy="87.86" r="1.35"/><circle cx="312.38" cy="91.80" r="1.35"/><circle cx="312.38" cy="95.75" r="1.35"/><circle cx="312.38" cy="99.70" r="1.35"/><circle cx="312.38" cy="103.65" r="1.35"/><circle cx="312.38" cy="107.60" r="1.35"/><circle cx="312.38" cy="111.54" r="1.35"/><circle cx="312.38" cy="115.49" r="1.35"/><circle cx="312.38" cy="119.44" r="1.35"/><circle cx="312.38" cy="123.39" r="1.35"/><circle cx="312.38" cy="127.34" r="1.35"/><circle cx="312.38" cy="131.28" r="1.35"/><circle cx="312.38" cy="135.23" r="1.35"/><circle cx="312.38" cy="139.18" r="1.35"/><circle cx="312.38" cy="143.13" r="1.35"/><circle cx="312.38" cy="147.08" r="1.35"/><circle cx="312.38" cy="151.02" r="1.35"/><circle cx="312.38" cy="154.97" r="1.35"/><circle cx="312.38" cy="158.92" r="1.35"/><circle cx="312.38" cy="162.87" r="1.35"/><circle cx="312.38" cy="166.82" r="1.35"/><circle cx="312.38" cy="170.76" r="1.35"/><circle cx="312.38" cy="174.71" r="1.35"/><circle cx="312.38" cy="178.66" r="1.35"/><circle cx="318.72" cy="1.00" r="1.35"/><circle cx="318.72" cy="4.95" r="1.35"/><circle cx="318.72" cy="8.90" r="1.35"/><circle cx="318.72" cy="12.84" r="1.35"/><circle cx="318.72" cy="16.79" r="1.35"/><circle cx="318.72" cy="20.74" r="1.35"/><circle cx="318.72" cy="24.69" r="1.35"/><circle cx="318.72" cy="28.64" r="1.35"/><circle cx="318.72" cy="32.58" r="1.35"/><circle cx="318.72" cy="36.53" r="1.35"/><circle cx="318.72" cy="40.48" r="1.35"/><circle cx="318.72" cy="44.43" r="1.35"/><circle cx="318.72" cy="48.38" r="1.35"/><circle cx="318.72" cy="52.32" r="1.35"/><circle cx="318.72" cy="56.27" r="1.35"/><circle cx="318.72" cy="60.22" r="1.35"/><circle cx="318.72" cy="64.17" r="1.35"/><circle cx="318.72" cy="68.12" r="1.35"/><circle cx="318.72" cy="72.06" r="1.35"/><circle cx="318.72" cy="76.01" r="1.35"/><circle cx="318.72" cy="79.96" r="1.35"/><circle cx="318.72" cy="83.91" r="1.35"/><circle cx="318.72" cy="87.86" r="1.35"/><circle cx="318.72" cy="91.80" r="1.35"/><circle cx="318.72" cy="95.75" r="1.35"/><circle cx="318.72" cy="99.70" r="1.35"/><circle cx="318.72" cy="103.65" r="1.35"/><circle cx="318.72" cy="107.60" r="1.35"/><circle cx="318.72" cy="111.54" r="1.35"/><circle cx="318.72" cy="115.49" r="1.35"/><circle cx="318.72" cy="119.44" r="1.35"/><circle cx="318.72" cy="123.39" r="1.35"/><circle cx="318.72" cy="127.34" r="1.35"/><circle cx="318.72" cy="131.28" r="1.35"/><circle cx="318.72" cy="135.23" r="1.35"/><circle cx="318.72" cy="139.18" r="1.35"/><circle cx="318.72" cy="143.13" r="1.35"/><circle cx="318.72" cy="147.08" r="1.35"/><circle cx="318.72" cy="151.02" r="1.35"/><circle cx="318.72" cy="154.97" r="1.35"/><circle cx="318.72" cy="158.92" r="1.35"/><circle cx="318.72" cy="162.87" r="1.5"/><circle cx="318.72" cy="166.82" r="1.35"/><circle cx="318.72" cy="170.76" r="1.35"/><circle cx="318.72" cy="174.71" r="1.35"/><circle cx="318.72" cy="178.66" r="1.35"/><circle cx="325.07" cy="1.00" r="1.35"/><circle cx="325.07" cy="4.95" r="1.35"/><circle cx="325.07" cy="8.90" r="1.35"/><circle cx="325.07" cy="12.84" r="1.35"/><circle cx="325.07" cy="16.79" r="1.35"/><circle cx="325.07" cy="20.74" r="1.35"/><circle cx="325.07" cy="24.69" r="1.35"/><circle cx="325.07" cy="28.64" r="1.35"/><circle cx="325.07" cy="32.58" r="1.35"/><circle cx="325.07" cy="36.53" r="1.35"/><circle cx="325.07" cy="40.48" r="1.35"/><circle cx="325.07" cy="44.43" r="1.35"/><circle cx="325.07" cy="48.38" r="1.35"/><circle cx="325.07" cy="52.32" r="1.35"/><circle cx="325.07" cy="56.27" r="1.35"/><circle cx="325.07" cy="60.22" r="1.35"/><circle cx="325.07" cy="64.17" r="1.35"/><circle cx="325.07" cy="68.12" r="1.35"/><circle cx="325.07" cy="72.06" r="1.35"/><circle cx="325.07" cy="76.01" r="1.35"/><circle cx="325.07" cy="79.96" r="1.35"/><circle cx="325.07" cy="83.91" r="1.35"/><circle cx="325.07" cy="87.86" r="1.35"/><circle cx="325.07" cy="91.80" r="1.35"/><circle cx="325.07" cy="95.75" r="1.35"/><circle cx="325.07" cy="99.70" r="1.35"/><circle cx="325.07" cy="103.65" r="1.35"/><circle cx="325.07" cy="107.60" r="1.35"/><circle cx="325.07" cy="111.54" r="1.35"/><circle cx="325.07" cy="115.49" r="1.35"/><circle cx="325.07" cy="119.44" r="1.35"/><circle cx="325.07" cy="123.39" r="1.35"/><circle cx="325.07" cy="127.34" r="1.35"/><circle cx="325.07" cy="131.28" r="1.35"/><circle cx="325.07" cy="135.23" r="1.35"/><circle cx="325.07" cy="139.18" r="1.35"/><circle cx="325.07" cy="143.13" r="1.35"/><circle cx="325.07" cy="147.08" r="1.35"/><circle cx="325.07" cy="151.02" r="1.35"/><circle cx="325.07" cy="154.97" r="1.35"/><circle cx="325.07" cy="158.92" r="1.35"/><circle cx="325.07" cy="162.87" r="1.35"/><circle cx="325.07" cy="166.82" r="1.35"/><circle cx="325.07" cy="170.76" r="1.35"/><circle cx="325.07" cy="174.71" r="1.35"/><circle cx="325.07" cy="178.66" r="1.35"/><circle cx="331.41" cy="1.00" r="1.35"/><circle cx="331.41" cy="4.95" r="1.35"/><circle cx="331.41" cy="8.90" r="1.35"/><circle cx="331.41" cy="12.84" r="1.35"/><circle cx="331.41" cy="16.79" r="1.35"/><circle cx="331.41" cy="20.74" r="1.35"/><circle cx="331.41" cy="24.69" r="1.35"/><circle cx="331.41" cy="28.64" r="1.35"/><circle cx="331.41" cy="32.58" r="1.35"/><circle cx="331.41" cy="36.53" r="1.35"/><circle cx="331.41" cy="40.48" r="1.35"/><circle cx="331.41" cy="44.43" r="1.35"/><circle cx="331.41" cy="48.38" r="1.35"/><circle cx="331.41" cy="52.32" r="1.35"/><circle cx="331.41" cy="56.27" r="1.35"/><circle cx="331.41" cy="60.22" r="1.35"/><circle cx="331.41" cy="64.17" r="1.35"/><circle cx="331.41" cy="68.12" r="1.35"/><circle cx="331.41" cy="72.06" r="1.35"/><circle cx="331.41" cy="76.01" r="1.35"/><circle cx="331.41" cy="79.96" r="1.35"/><circle cx="331.41" cy="83.91" r="1.35"/><circle cx="331.41" cy="87.86" r="1.35"/><circle cx="331.41" cy="91.80" r="1.35"/><circle cx="331.41" cy="95.75" r="1.35"/><circle cx="331.41" cy="99.70" r="1.35"/><circle cx="331.41" cy="103.65" r="1.35"/><circle cx="331.41" cy="107.60" r="1.35"/><circle cx="331.41" cy="111.54" r="1.35"/><circle cx="331.41" cy="115.49" r="1.35"/><circle cx="331.41" cy="119.44" r="1.35"/><circle cx="331.41" cy="123.39" r="1.35"/><circle cx="331.41" cy="127.34" r="1.35"/><circle cx="331.41" cy="131.28" r="1.35"/><circle cx="331.41" cy="135.23" r="1.35"/><circle cx="331.41" cy="139.18" r="1.35"/><circle cx="331.41" cy="143.13" r="1.35"/><circle cx="331.41" cy="147.08" r="1.35"/><circle cx="331.41" cy="151.02" r="1.35"/><circle cx="331.41" cy="154.97" r="1.35"/><circle cx="331.41" cy="158.92" r="1.35"/><circle cx="331.41" cy="162.87" r="1.35"/><circle cx="331.41" cy="166.82" r="1.35"/><circle cx="331.41" cy="170.76" r="1.35"/><circle cx="331.41" cy="174.71" r="1.00" fill="#ffb0b0" stroke="#ff1a1a" stroke-width="0.7"/><circle cx="331.41" cy="178.66" r="1.35"/><circle cx="337.76" cy="1.00" r="1.35"/><circle cx="337.76" cy="4.95" r="1.35"/><circle cx="337.76" cy="8.90" r="1.35"/><circle cx="337.76" cy="12.84" r="1.35"/><circle cx="337.76" cy="16.79" r="1.35"/><circle cx="337.76" cy="20.74" r="1.35"/><circle cx="337.76" cy="24.69" r="1.35"/><circle cx="337.76" cy="28.64" r="1.35"/><circle cx="337.76" cy="32.58" r="1.35"/><circle cx="337.76" cy="36.53" r="1.35"/><circle cx="337.76" cy="40.48" r="1.35"/><circle cx="337.76" cy="44.43" r="1.35"/><circle cx="337.76" cy="48.38" r="1.35"/><circle cx="337.76" cy="52.32" r="1.35"/><circle cx="337.76" cy="56.27" r="1.35"/><circle cx="337.76" cy="60.22" r="1.35"/><circle cx="337.76" cy="64.17" r="1.35"/><circle cx="337.76" cy="68.12" r="1.35"/><circle cx="337.76" cy="72.06" r="1.35"/><circle cx="337.76" cy="76.01" r="1.35"/><circle cx="337.76" cy="79.96" r="1.35"/><circle cx="337.76" cy="83.91" r="1.35"/><circle cx="337.76" cy="87.86" r="1.35"/><circle cx="337.76" cy="91.80" r="1.35"/><circle cx="337.76" cy="95.75" r="1.35"/><circle cx="337.76" cy="99.70" r="1.35"/><circle cx="337.76" cy="103.65" r="1.35"/><circle cx="337.76" cy="107.60" r="1.35"/><circle cx="337.76" cy="111.54" r="1.35"/><circle cx="337.76" cy="115.49" r="1.35"/><circle cx="337.76" cy="119.44" r="1.35"/><circle cx="337.76" cy="123.39" r="1.35"/><circle cx="337.76" cy="127.34" r="1.35"/><circle cx="337.76" cy="131.28" r="1.35"/><circle cx="337.76" cy="135.23" r="1.35"/><circle cx="337.76" cy="139.18" r="1.35"/><circle cx="337.76" cy="143.13" r="1.35"/><circle cx="337.76" cy="147.08" r="1.35"/><circle cx="337.76" cy="151.02" r="1.35"/><circle cx="337.76" cy="154.97" r="1.35"/><circle cx="337.76" cy="158.92" r="1.35"/><circle cx="337.76" cy="162.87" r="1.35"/><circle cx="337.76" cy="166.82" r="1.35"/><circle cx="337.76" cy="170.76" r="1.35"/><circle cx="337.76" cy="174.71" r="1.35"/><circle cx="337.76" cy="178.66" r="1.35"/><circle cx="344.10" cy="1.00" r="1.35"/><circle cx="344.10" cy="4.95" r="1.35"/><circle cx="344.10" cy="8.90" r="1.35"/><circle cx="344.10" cy="12.84" r="1.35"/><circle cx="344.10" cy="16.79" r="1.35"/><circle cx="344.10" cy="20.74" r="1.35"/><circle cx="344.10" cy="24.69" r="1.35"/><circle cx="344.10" cy="28.64" r="1.35"/><circle cx="344.10" cy="32.58" r="1.35"/><circle cx="344.10" cy="36.53" r="1.35"/><circle cx="344.10" cy="40.48" r="1.35"/><circle cx="344.10" cy="44.43" r="1.35"/><circle cx="344.10" cy="48.38" r="1.35"/><circle cx="344.10" cy="52.32" r="1.35"/><circle cx="344.10" cy="56.27" r="1.35"/><circle cx="344.10" cy="60.22" r="1.35"/><circle cx="344.10" cy="64.17" r="1.35"/><circle cx="344.10" cy="68.12" r="1.35"/><circle cx="344.10" cy="72.06" r="1.35"/><circle cx="344.10" cy="76.01" r="1.35"/><circle cx="344.10" cy="79.96" r="1.35"/><circle cx="344.10" cy="83.91" r="1.35"/><circle cx="344.10" cy="87.86" r="1.35"/><circle cx="344.10" cy="91.80" r="1.35"/><circle cx="344.10" cy="95.75" r="1.35"/><circle cx="344.10" cy="99.70" r="1.35"/><circle cx="344.10" cy="103.65" r="1.35"/><circle cx="344.10" cy="107.60" r="1.35"/><circle cx="344.10" cy="111.54" r="1.35"/><circle cx="344.10" cy="115.49" r="1.35"/><circle cx="344.10" cy="119.44" r="1.35"/><circle cx="344.10" cy="123.39" r="1.35"/><circle cx="344.10" cy="127.34" r="1.35"/><circle cx="344.10" cy="131.28" r="1.35"/><circle cx="344.10" cy="135.23" r="1.35"/><circle cx="344.10" cy="139.18" r="1.35"/><circle cx="344.10" cy="143.13" r="1.35"/><circle cx="344.10" cy="147.08" r="1.35"/><circle cx="344.10" cy="151.02" r="1.35"/><circle cx="344.10" cy="154.97" r="1.35"/><circle cx="344.10" cy="158.92" r="1.35"/><circle cx="344.10" cy="162.87" r="1.35"/><circle cx="344.10" cy="166.82" r="1.35"/><circle cx="344.10" cy="170.76" r="1.35"/><circle cx="344.10" cy="174.71" r="1.35"/><circle cx="344.10" cy="178.66" r="1.35"/></g><g fill="#000"><circle cx="96.68" cy="1.00" r="0.7"/><circle cx="96.68" cy="4.95" r="0.7"/><circle cx="103.03" cy="1.00" r="0.7"/><circle cx="103.03" cy="4.95" r="0.7"/><circle cx="103.03" cy="8.90" r="0.7"/><circle cx="103.03" cy="12.84" r="0.7"/><circle cx="103.03" cy="16.79" r="0.7"/><circle cx="103.03" cy="20.74" r="0.7"/><circle cx="103.03" cy="24.69" r="0.7"/><circle cx="103.03" cy="28.64" r="0.7"/><circle cx="109.37" cy="4.95" r="0.7"/><circle cx="109.37" cy="8.90" r="0.7"/><circle cx="109.37" cy="12.84" r="0.7"/><circle cx="109.37" cy="16.79" r="0.7"/><circle cx="109.37" cy="20.74" r="0.7"/><circle cx="109.37" cy="24.69" r="0.7"/><circle cx="109.37" cy="28.64" r="0.7"/><circle cx="109.37" cy="32.58" r="0.7"/><circle cx="109.37" cy="36.53" r="0.7"/><circle cx="109.37" cy="40.48" r="0.7"/><circle cx="115.72" cy="1.00" r="0.7"/><circle cx="115.72" cy="4.95" r="0.7"/><circle cx="115.72" cy="8.90" r="0.7"/><circle cx="115.72" cy="12.84" r="0.7"/><circle cx="115.72" cy="16.79" r="0.7"/><circle cx="115.72" cy="20.74" r="0.7"/><circle cx="115.72" cy="24.69" r="0.7"/><circle cx="115.72" cy="28.64" r="0.7"/><circle cx="115.72" cy="32.58" r="0.7"/><circle cx="115.72" cy="36.53" r="0.7"/><circle cx="115.72" cy="40.48" r="0.7"/><circle cx="115.72" cy="44.43" r="0.7"/><circle cx="115.72" cy="48.38" r="0.7"/><circle cx="122.06" cy="1.00" r="0.7"/><circle cx="122.06" cy="4.95" r="0.7"/><circle cx="122.06" cy="8.90" r="0.7"/><circle cx="122.06" cy="12.84" r="0.7"/><circle cx="122.06" cy="16.79" r="0.7"/><circle cx="122.06" cy="20.74" r="0.7"/><circle cx="122.06" cy="24.69" r="0.7"/><circle cx="122.06" cy="28.64" r="0.7"/><circle cx="122.06" cy="32.58" r="0.7"/><circle cx="122.06" cy="36.53" r="0.7"/><circle cx="122.06" cy="40.48" r="0.7"/><circle cx="122.06" cy="44.43" r="0.7"/><circle cx="122.06" cy="48.38" r="0.7"/><circle cx="122.06" cy="52.32" r="0.7"/><circle cx="122.06" cy="56.27" r="0.7"/><circle cx="122.06" cy="60.22" r="0.7"/><circle cx="122.06" cy="64.17" r="0.7"/><circle cx="128.40" cy="1.00" r="0.7"/><circle cx="128.40" cy="4.95" r="0.7"/><circle cx="128.40" cy="8.90" r="0.7"/><circle cx="128.40" cy="12.84" r="0.7"/><circle cx="128.40" cy="16.79" r="0.7"/><circle cx="128.40" cy="20.74" r="0.7"/><circle cx="128.40" cy="24.69" r="0.7"/><circle cx="128.40" cy="28.64" r="0.7"/><circle cx="128.40" cy="32.58" r="0.7"/><circle cx="128.40" cy="36.53" r="0.7"/><circle cx="128.40" cy="40.48" r="0.7"/><circle cx="128.40" cy="44.43" r="0.7"/><circle cx="128.40" cy="48.38" r="0.7"/><circle cx="128.40" cy="52.32" r="0.7"/><circle cx="128.40" cy="56.27" r="0.7"/><circle cx="128.40" cy="60.22" r="0.7"/><circle cx="128.40" cy="64.17" r="0.7"/><circle cx="128.40" cy="68.12" r="0.7"/><circle cx="128.40" cy="72.06" r="0.7"/><circle cx="134.75" cy="1.00" r="0.7"/><circle cx="134.75" cy="4.95" r="0.7"/><circle cx="134.75" cy="8.90" r="0.7"/><circle cx="134.75" cy="12.84" r="0.7"/><circle cx="134.75" cy="16.79" r="0.7"/><circle cx="134.75" cy="20.74" r="0.7"/><circle cx="134.75" cy="24.69" r="0.7"/><circle cx="134.75" cy="28.64" r="0.7"/><circle cx="134.75" cy="32.58" r="0.7"/><circle cx="134.75" cy="36.53" r="0.7"/><circle cx="134.75" cy="40.48" r="0.7"/><circle cx="134.75" cy="44.43" r="0.7"/><circle cx="134.75" cy="48.38" r="0.7"/><circle cx="134.75" cy="52.32" r="0.7"/><circle cx="134.75" cy="56.27" r="0.7"/><circle cx="134.75" cy="60.22" r="0.7"/><circle cx="134.75" cy="64.17" r="0.7"/><circle cx="134.75" cy="68.12" r="0.7"/><circle cx="134.75" cy="72.06" r="0.7"/><circle cx="134.75" cy="76.01" r="0.7"/><circle cx="134.75" cy="79.96" r="0.7"/><circle cx="141.09" cy="1.00" r="0.7"/><circle cx="141.09" cy="4.95" r="0.7"/><circle cx="141.09" cy="8.90" r="0.7"/><circle cx="141.09" cy="12.84" r="0.7"/><circle cx="141.09" cy="16.79" r="0.7"/><circle cx="141.09" cy="20.74" r="0.7"/><circle cx="141.09" cy="24.69" r="0.7"/><circle cx="141.09" cy="28.64" r="0.7"/><circle cx="141.09" cy="32.58" r="0.7"/><circle cx="141.09" cy="36.53" r="0.7"/><circle cx="141.09" cy="40.48" r="0.7"/><circle cx="141.09" cy="44.43" r="0.7"/><circle cx="141.09" cy="48.38" r="0.7"/><circle cx="141.09" cy="52.32" r="0.7"/><circle cx="141.09" cy="56.27" r="0.7"/><circle cx="141.09" cy="60.22" r="0.7"/><circle cx="141.09" cy="64.17" r="0.7"/><circle cx="141.09" cy="68.12" r="0.7"/><circle cx="141.09" cy="72.06" r="0.7"/><circle cx="141.09" cy="76.01" r="0.7"/><circle cx="141.09" cy="79.96" r="0.7"/><circle cx="141.09" cy="83.91" r="0.7"/><circle cx="147.44" cy="1.00" r="0.7"/><circle cx="147.44" cy="4.95" r="0.7"/><circle cx="147.44" cy="8.90" r="0.7"/><circle cx="147.44" cy="12.84" r="0.7"/><circle cx="147.44" cy="16.79" r="0.7"/><circle cx="147.44" cy="20.74" r="0.7"/><circle cx="147.44" cy="24.69" r="0.7"/><circle cx="147.44" cy="28.64" r="0.7"/><circle cx="147.44" cy="32.58" r="0.7"/><circle cx="147.44" cy="36.53" r="0.7"/><circle cx="147.44" cy="40.48" r="0.7"/><circle cx="147.44" cy="44.43" r="0.7"/><circle cx="147.44" cy="48.38" r="0.7"/><circle cx="147.44" cy="52.32" r="0.7"/><circle cx="147.44" cy="56.27" r="0.7"/><circle cx="147.44" cy="60.22" r="0.7"/><circle cx="147.44" cy="64.17" r="0.7"/><circle cx="147.44" cy="68.12" r="0.7"/><circle cx="147.44" cy="72.06" r="0.7"/><circle cx="147.44" cy="76.01" r="0.7"/><circle cx="147.44" cy="79.96" r="0.7"/><circle cx="147.44" cy="83.91" r="0.7"/><circle cx="147.44" cy="87.86" r="0.7"/><circle cx="147.44" cy="91.80" r="0.7"/><circle cx="153.78" cy="1.00" r="0.7"/><circle cx="153.78" cy="4.95" r="0.7"/><circle cx="153.78" cy="8.90" r="0.7"/><circle cx="153.78" cy="12.84" r="0.7"/><circle cx="153.78" cy="16.79" r="0.7"/><circle cx="153.78" cy="20.74" r="0.7"/><circle cx="153.78" cy="24.69" r="0.7"/><circle cx="153.78" cy="28.64" r="0.7"/><circle cx="153.78" cy="32.58" r="0.7"/><circle cx="153.78" cy="36.53" r="0.7"/><circle cx="153.78" cy="40.48" r="0.7"/><circle cx="153.78" cy="44.43" r="0.7"/><circle cx="153.78" cy="48.38" r="0.7"/><circle cx="153.78" cy="52.32" r="0.7"/><circle cx="153.78" cy="56.27" r="0.7"/><circle cx="153.78" cy="60.22" r="0.7"/><circle cx="153.78" cy="64.17" r="0.7"/><circle cx="153.78" cy="68.12" r="0.7"/><circle cx="153.78" cy="72.06" r="0.7"/><circle cx="153.78" cy="76.01" r="0.7"/><circle cx="153.78" cy="79.96" r="0.7"/><circle cx="153.78" cy="83.91" r="0.7"/><circle cx="153.78" cy="87.86" r="0.7"/><circle cx="153.78" cy="91.80" r="0.7"/><circle cx="153.78" cy="95.75" r="0.7"/><circle cx="160.12" cy="1.00" r="0.7"/><circle cx="160.12" cy="4.95" r="0.7"/><circle cx="160.12" cy="8.90" r="0.7"/><circle cx="160.12" cy="12.84" r="0.7"/><circle cx="160.12" cy="16.79" r="0.7"/><circle cx="160.12" cy="20.74" r="0.7"/><circle cx="160.12" cy="24.69" r="0.7"/><circle cx="160.12" cy="28.64" r="0.7"/><circle cx="160.12" cy="32.58" r="0.7"/><circle cx="160.12" cy="36.53" r="0.7"/><circle cx="160.12" cy="40.48" r="0.7"/><circle cx="160.12" cy="44.43" r="0.7"/><circle cx="160.12" cy="48.38" r="0.7"/><circle cx="160.12" cy="52.32" r="0.7"/><circle cx="160.12" cy="56.27" r="0.7"/><circle cx="160.12" cy="60.22" r="0.7"/><circle cx="160.12" cy="64.17" r="0.7"/><circle cx="160.12" cy="68.12" r="0.7"/><circle cx="160.12" cy="72.06" r="0.7"/><circle cx="160.12" cy="76.01" r="0.7"/><circle cx="160.12" cy="79.96" r="0.7"/><circle cx="160.12" cy="83.91" r="0.7"/><circle cx="160.12" cy="87.86" r="0.7"/><circle cx="160.12" cy="91.80" r="0.7"/><circle cx="160.12" cy="95.75" r="0.7"/><circle cx="160.12" cy="99.70" r="0.7"/><circle cx="166.47" cy="1.00" r="0.7"/><circle cx="166.47" cy="4.95" r="0.7"/><circle cx="166.47" cy="8.90" r="0.7"/><circle cx="166.47" cy="12.84" r="0.7"/><circle cx="166.47" cy="16.79" r="0.7"/><circle cx="166.47" cy="20.74" r="0.7"/><circle cx="166.47" cy="24.69" r="0.7"/><circle cx="166.47" cy="28.64" r="0.7"/><circle cx="166.47" cy="32.58" r="0.7"/><circle cx="166.47" cy="36.53" r="0.7"/><circle cx="166.47" cy="40.48" r="0.7"/><circle cx="166.47" cy="44.43" r="0.7"/><circle cx="166.47" cy="48.38" r="0.7"/><circle cx="166.47" cy="52.32" r="0.7"/><circle cx="166.47" cy="56.27" r="0.7"/><circle cx="166.47" cy="60.22" r="0.7"/><circle cx="166.47" cy="64.17" r="0.7"/><circle cx="166.47" cy="68.12" r="0.7"/><circle cx="166.47" cy="72.06" r="0.7"/><circle cx="166.47" cy="76.01" r="0.7"/><circle cx="166.47" cy="79.96" r="0.7"/><circle cx="166.47" cy="83.91" r="0.7"/><circle cx="166.47" cy="87.86" r="0.7"/><circle cx="166.47" cy="91.80" r="0.7"/><circle cx="166.47" cy="95.75" r="0.7"/><circle cx="166.47" cy="99.70" r="0.7"/><circle cx="166.47" cy="103.65" r="0.7"/><circle cx="172.81" cy="1.00" r="0.7"/><circle cx="172.81" cy="4.95" r="0.7"/><circle cx="172.81" cy="8.90" r="0.7"/><circle cx="172.81" cy="12.84" r="0.7"/><circle cx="172.81" cy="16.79" r="0.7"/><circle cx="172.81" cy="20.74" r="0.7"/><circle cx="172.81" cy="24.69" r="0.7"/><circle cx="172.81" cy="28.64" r="0.7"/><circle cx="172.81" cy="32.58" r="0.7"/><circle cx="172.81" cy="36.53" r="0.7"/><circle cx="172.81" cy="40.48" r="0.7"/><circle cx="172.81" cy="44.43" r="0.7"/><circle cx="172.81" cy="48.38" r="0.7"/><circle cx="172.81" cy="52.32" r="0.7"/><circle cx="172.81" cy="56.27" r="0.7"/><circle cx="172.81" cy="60.22" r="0.7"/><circle cx="172.81" cy="64.17" r="0.7"/><circle cx="172.81" cy="68.12" r="0.7"/><circle cx="172.81" cy="72.06" r="0.7"/><circle cx="172.81" cy="76.01" r="0.7"/><circle cx="172.81" cy="79.96" r="0.7"/><circle cx="172.81" cy="83.91" r="0.7"/><circle cx="172.81" cy="87.86" r="0.7"/><circle cx="172.81" cy="91.80" r="0.7"/><circle cx="172.81" cy="95.75" r="0.7"/><circle cx="172.81" cy="99.70" r="0.7"/><circle cx="172.81" cy="103.65" r="0.7"/><circle cx="179.16" cy="1.00" r="0.7"/><circle cx="179.16" cy="4.95" r="0.7"/><circle cx="179.16" cy="8.90" r="0.7"/><circle cx="179.16" cy="12.84" r="0.7"/><circle cx="179.16" cy="16.79" r="0.7"/><circle cx="179.16" cy="20.74" r="0.7"/><circle cx="179.16" cy="24.69" r="0.7"/><circle cx="179.16" cy="28.64" r="0.7"/><circle cx="179.16" cy="32.58" r="0.7"/><circle cx="179.16" cy="36.53" r="0.7"/><circle cx="179.16" cy="40.48" r="0.7"/><circle cx="179.16" cy="44.43" r="0.7"/><circle cx="179.16" cy="48.38" r="0.7"/><circle cx="179.16" cy="52.32" r="0.7"/><circle cx="179.16" cy="56.27" r="0.7"/><circle cx="179.16" cy="60.22" r="0.7"/><circle cx="179.16" cy="64.17" r="0.7"/><circle cx="179.16" cy="68.12" r="0.7"/><circle cx="179.16" cy="72.06" r="0.7"/><circle cx="179.16" cy="76.01" r="0.7"/><circle cx="179.16" cy="79.96" r="0.7"/><circle cx="179.16" cy="83.91" r="0.7"/><circle cx="179.16" cy="87.86" r="0.7"/><circle cx="179.16" cy="91.80" r="0.7"/><circle cx="179.16" cy="95.75" r="0.7"/><circle cx="179.16" cy="99.70" r="0.7"/><circle cx="179.16" cy="103.65" r="0.7"/><circle cx="179.16" cy="107.60" r="0.7"/><circle cx="185.50" cy="1.00" r="0.7"/><circle cx="185.50" cy="4.95" r="0.7"/><circle cx="185.50" cy="8.90" r="0.7"/><circle cx="185.50" cy="12.84" r="0.7"/><circle cx="185.50" cy="16.79" r="0.7"/><circle cx="185.50" cy="20.74" r="0.7"/><circle cx="185.50" cy="24.69" r="0.7"/><circle cx="185.50" cy="28.64" r="0.7"/><circle cx="185.50" cy="32.58" r="0.7"/><circle cx="185.50" cy="36.53" r="0.7"/><circle cx="185.50" cy="40.48" r="0.7"/><circle cx="185.50" cy="44.43" r="0.7"/><circle cx="185.50" cy="48.38" r="0.7"/><circle cx="185.50" cy="52.32" r="0.7"/><circle cx="185.50" cy="56.27" r="0.7"/><circle cx="185.50" cy="60.22" r="0.7"/><circle cx="185.50" cy="64.17" r="0.7"/><circle cx="185.50" cy="68.12" r="0.7"/><circle cx="185.50" cy="72.06" r="0.7"/><circle cx="185.50" cy="76.01" r="0.7"/><circle cx="185.50" cy="79.96" r="0.7"/><circle cx="185.50" cy="83.91" r="0.7"/><circle cx="185.50" cy="87.86" r="0.7"/><circle cx="185.50" cy="91.80" r="0.7"/><circle cx="185.50" cy="95.75" r="0.7"/><circle cx="185.50" cy="99.70" r="0.7"/><circle cx="185.50" cy="103.65" r="0.7"/><circle cx="185.50" cy="107.60" r="0.7"/><circle cx="185.50" cy="111.54" r="0.7"/><circle cx="185.50" cy="115.49" r="0.7"/><circle cx="191.84" cy="1.00" r="0.7"/><circle cx="191.84" cy="4.95" r="0.7"/><circle cx="191.84" cy="8.90" r="0.7"/><circle cx="191.84" cy="12.84" r="0.7"/><circle cx="191.84" cy="16.79" r="0.7"/><circle cx="191.84" cy="20.74" r="0.7"/><circle cx="191.84" cy="24.69" r="0.7"/><circle cx="191.84" cy="28.64" r="0.7"/><circle cx="191.84" cy="32.58" r="0.7"/><circle cx="191.84" cy="36.53" r="0.7"/><circle cx="191.84" cy="40.48" r="0.7"/><circle cx="191.84" cy="44.43" r="0.7"/><circle cx="191.84" cy="48.38" r="0.7"/><circle cx="191.84" cy="52.32" r="0.7"/><circle cx="191.84" cy="56.27" r="0.7"/><circle cx="191.84" cy="60.22" r="0.7"/><circle cx="191.84" cy="64.17" r="0.7"/><circle cx="191.84" cy="68.12" r="0.7"/><circle cx="191.84" cy="72.06" r="0.7"/><circle cx="191.84" cy="76.01" r="0.7"/><circle cx="191.84" cy="79.96" r="0.7"/><circle cx="191.84" cy="83.91" r="0.7"/><circle cx="191.84" cy="87.86" r="0.7"/><circle cx="191.84" cy="91.80" r="0.7"/><circle cx="191.84" cy="95.75" r="0.7"/><circle cx="191.84" cy="99.70" r="0.7"/><circle cx="191.84" cy="103.65" r="0.7"/><circle cx="191.84" cy="107.60" r="0.7"/><circle cx="191.84" cy="111.54" r="0.7"/><circle cx="191.84" cy="115.49" r="0.7"/><circle cx="191.84" cy="119.44" r="0.7"/><circle cx="198.19" cy="1.00" r="0.7"/><circle cx="198.19" cy="4.95" r="0.7"/><circle cx="198.19" cy="8.90" r="0.7"/><circle cx="198.19" cy="12.84" r="0.7"/><circle cx="198.19" cy="16.79" r="0.7"/><circle cx="198.19" cy="20.74" r="0.7"/><circle cx="198.19" cy="24.69" r="0.7"/><circle cx="198.19" cy="28.64" r="0.7"/><circle cx="198.19" cy="32.58" r="0.7"/><circle cx="198.19" cy="36.53" r="0.7"/><circle cx="198.19" cy="40.48" r="0.7"/><circle cx="198.19" cy="44.43" r="0.7"/><circle cx="198.19" cy="48.38" r="0.7"/><circle cx="198.19" cy="52.32" r="0.7"/><circle cx="198.19" cy="56.27" r="0.7"/><circle cx="198.19" cy="60.22" r="0.7"/><circle cx="198.19" cy="64.17" r="0.7"/><circle cx="198.19" cy="68.12" r="0.7"/><circle cx="198.19" cy="72.06" r="0.7"/><circle cx="198.19" cy="76.01" r="0.7"/><circle cx="198.19" cy="79.96" r="0.7"/><circle cx="198.19" cy="83.91" r="0.7"/><circle cx="198.19" cy="87.86" r="0.7"/><circle cx="198.19" cy="91.80" r="0.7"/><circle cx="198.19" cy="95.75" r="0.7"/><circle cx="198.19" cy="99.70" r="0.7"/><circle cx="198.19" cy="103.65" r="0.7"/><circle cx="198.19" cy="107.60" r="0.7"/><circle cx="198.19" cy="111.54" r="0.7"/><circle cx="198.19" cy="115.49" r="0.7"/><circle cx="198.19" cy="119.44" r="0.7"/><circle cx="198.19" cy="123.39" r="0.7"/><circle cx="204.53" cy="1.00" r="0.7"/><circle cx="204.53" cy="4.95" r="0.7"/><circle cx="204.53" cy="8.90" r="0.7"/><circle cx="204.53" cy="12.84" r="0.7"/><circle cx="204.53" cy="16.79" r="0.7"/><circle cx="204.53" cy="20.74" r="0.7"/><circle cx="204.53" cy="24.69" r="0.7"/><circle cx="204.53" cy="28.64" r="0.7"/><circle cx="204.53" cy="32.58" r="0.7"/><circle cx="204.53" cy="36.53" r="0.7"/><circle cx="204.53" cy="40.48" r="0.7"/><circle cx="204.53" cy="44.43" r="0.7"/><circle cx="204.53" cy="48.38" r="0.7"/><circle cx="204.53" cy="52.32" r="0.7"/><circle cx="204.53" cy="56.27" r="0.7"/><circle cx="204.53" cy="60.22" r="0.7"/><circle cx="204.53" cy="64.17" r="0.7"/><circle cx="204.53" cy="68.12" r="0.7"/><circle cx="204.53" cy="72.06" r="0.7"/><circle cx="204.53" cy="76.01" r="0.7"/><circle cx="204.53" cy="79.96" r="0.7"/><circle cx="204.53" cy="83.91" r="0.7"/><circle cx="204.53" cy="87.86" r="0.7"/><circle cx="204.53" cy="91.80" r="0.7"/><circle cx="204.53" cy="95.75" r="0.7"/><circle cx="204.53" cy="99.70" r="0.7"/><circle cx="204.53" cy="103.65" r="0.7"/><circle cx="204.53" cy="107.60" r="0.7"/><circle cx="204.53" cy="111.54" r="0.7"/><circle cx="204.53" cy="115.49" r="0.7"/><circle cx="204.53" cy="119.44" r="0.7"/><circle cx="204.53" cy="123.39" r="0.7"/><circle cx="204.53" cy="127.34" r="0.7"/><circle cx="204.53" cy="131.28" r="0.7"/><circle cx="210.88" cy="1.00" r="0.7"/><circle cx="210.88" cy="4.95" r="0.7"/><circle cx="210.88" cy="8.90" r="0.7"/><circle cx="210.88" cy="12.84" r="0.7"/><circle cx="210.88" cy="16.79" r="0.7"/><circle cx="210.88" cy="20.74" r="0.7"/><circle cx="210.88" cy="24.69" r="0.7"/><circle cx="210.88" cy="28.64" r="0.7"/><circle cx="210.88" cy="32.58" r="0.7"/><circle cx="210.88" cy="36.53" r="0.7"/><circle cx="210.88" cy="40.48" r="0.7"/><circle cx="210.88" cy="44.43" r="0.7"/><circle cx="210.88" cy="48.38" r="0.7"/><circle cx="210.88" cy="52.32" r="0.7"/><circle cx="210.88" cy="56.27" r="0.7"/><circle cx="210.88" cy="60.22" r="0.7"/><circle cx="210.88" cy="64.17" r="0.7"/><circle cx="210.88" cy="68.12" r="0.7"/><circle cx="210.88" cy="72.06" r="0.7"/><circle cx="210.88" cy="76.01" r="0.7"/><circle cx="210.88" cy="79.96" r="0.7"/><circle cx="210.88" cy="83.91" r="0.7"/><circle cx="210.88" cy="87.86" r="0.7"/><circle cx="210.88" cy="91.80" r="0.7"/><circle cx="210.88" cy="95.75" r="0.7"/><circle cx="210.88" cy="99.70" r="0.7"/><circle cx="210.88" cy="103.65" r="0.7"/><circle cx="210.88" cy="107.60" r="0.7"/><circle cx="210.88" cy="111.54" r="0.7"/><circle cx="210.88" cy="115.49" r="0.7"/><circle cx="210.88" cy="119.44" r="0.7"/><circle cx="210.88" cy="123.39" r="0.7"/><circle cx="210.88" cy="127.34" r="0.7"/><circle cx="210.88" cy="131.28" r="0.7"/><circle cx="210.88" cy="135.23" r="0.7"/><circle cx="217.22" cy="1.00" r="0.7"/><circle cx="217.22" cy="4.95" r="0.7"/><circle cx="217.22" cy="8.90" r="0.7"/><circle cx="217.22" cy="12.84" r="0.7"/><circle cx="217.22" cy="16.79" r="0.7"/><circle cx="217.22" cy="20.74" r="0.7"/><circle cx="217.22" cy="24.69" r="0.7"/><circle cx="217.22" cy="28.64" r="0.7"/><circle cx="217.22" cy="32.58" r="0.7"/><circle cx="217.22" cy="36.53" r="0.7"/><circle cx="217.22" cy="40.48" r="0.7"/><circle cx="217.22" cy="44.43" r="0.7"/><circle cx="217.22" cy="48.38" r="0.7"/><circle cx="217.22" cy="52.32" r="0.7"/><circle cx="217.22" cy="56.27" r="0.7"/><circle cx="217.22" cy="60.22" r="0.7"/><circle cx="217.22" cy="64.17" r="0.7"/><circle cx="217.22" cy="68.12" r="0.7"/><circle cx="217.22" cy="72.06" r="0.7"/><circle cx="217.22" cy="76.01" r="0.7"/><circle cx="217.22" cy="79.96" r="0.7"/><circle cx="217.22" cy="83.91" r="0.7"/><circle cx="217.22" cy="87.86" r="0.7"/><circle cx="217.22" cy="91.80" r="0.7"/><circle cx="217.22" cy="95.75" r="0.7"/><circle cx="217.22" cy="99.70" r="0.7"/><circle cx="217.22" cy="103.65" r="0.7"/><circle cx="217.22" cy="107.60" r="0.7"/><circle cx="217.22" cy="111.54" r="0.7"/><circle cx="217.22" cy="115.49" r="0.7"/><circle cx="217.22" cy="119.44" r="0.7"/><circle cx="217.22" cy="123.39" r="0.7"/><circle cx="217.22" cy="127.34" r="0.7"/><circle cx="217.22" cy="131.28" r="0.7"/><circle cx="217.22" cy="135.23" r="0.7"/><circle cx="217.22" cy="139.18" r="0.7"/><circle cx="223.56" cy="1.00" r="0.7"/><circle cx="223.56" cy="4.95" r="0.7"/><circle cx="223.56" cy="8.90" r="0.7"/><circle cx="223.56" cy="12.84" r="0.7"/><circle cx="223.56" cy="16.79" r="0.7"/><circle cx="223.56" cy="20.74" r="0.7"/><circle cx="223.56" cy="24.69" r="0.7"/><circle cx="223.56" cy="28.64" r="0.7"/><circle cx="223.56" cy="32.58" r="0.7"/><circle cx="223.56" cy="36.53" r="0.7"/><circle cx="223.56" cy="40.48" r="0.7"/><circle cx="223.56" cy="44.43" r="0.7"/><circle cx="223.56" cy="48.38" r="0.7"/><circle cx="223.56" cy="52.32" r="0.7"/><circle cx="223.56" cy="56.27" r="0.7"/><circle cx="223.56" cy="60.22" r="0.7"/><circle cx="223.56" cy="64.17" r="0.7"/><circle cx="223.56" cy="68.12" r="0.7"/><circle cx="223.56" cy="72.06" r="0.7"/><circle cx="223.56" cy="76.01" r="0.7"/><circle cx="223.56" cy="79.96" r="0.7"/><circle cx="223.56" cy="83.91" r="0.7"/><circle cx="223.56" cy="87.86" r="0.7"/><circle cx="223.56" cy="91.80" r="0.7"/><circle cx="223.56" cy="95.75" r="0.7"/><circle cx="223.56" cy="99.70" r="0.7"/><circle cx="223.56" cy="103.65" r="0.7"/><circle cx="223.56" cy="107.60" r="0.7"/><circle cx="223.56" cy="111.54" r="0.7"/><circle cx="223.56" cy="115.49" r="0.7"/><circle cx="223.56" cy="119.44" r="0.7"/><circle cx="223.56" cy="123.39" r="0.7"/><circle cx="223.56" cy="127.34" r="0.7"/><circle cx="223.56" cy="131.28" r="0.7"/><circle cx="223.56" cy="135.23" r="0.7"/><circle cx="223.56" cy="139.18" r="0.7"/><circle cx="223.56" cy="143.13" r="0.7"/><circle cx="229.91" cy="1.00" r="0.7"/><circle cx="229.91" cy="4.95" r="0.7"/><circle cx="229.91" cy="8.90" r="0.7"/><circle cx="229.91" cy="12.84" r="0.7"/><circle cx="229.91" cy="16.79" r="0.7"/><circle cx="229.91" cy="20.74" r="0.7"/><circle cx="229.91" cy="24.69" r="0.7"/><circle cx="229.91" cy="28.64" r="0.7"/><circle cx="229.91" cy="32.58" r="0.7"/><circle cx="229.91" cy="36.53" r="0.7"/><circle cx="229.91" cy="40.48" r="0.7"/><circle cx="229.91" cy="44.43" r="0.7"/><circle cx="229.91" cy="48.38" r="0.7"/><circle cx="229.91" cy="52.32" r="0.7"/><circle cx="229.91" cy="56.27" r="0.7"/><circle cx="229.91" cy="60.22" r="0.7"/><circle cx="229.91" cy="64.17" r="0.7"/><circle cx="229.91" cy="68.12" r="0.7"/><circle cx="229.91" cy="72.06" r="0.7"/><circle cx="229.91" cy="76.01" r="0.7"/><circle cx="229.91" cy="79.96" r="0.7"/><circle cx="229.91" cy="83.91" r="0.7"/><circle cx="229.91" cy="87.86" r="0.7"/><circle cx="229.91" cy="91.80" r="0.7"/><circle cx="229.91" cy="95.75" r="0.7"/><circle cx="229.91" cy="99.70" r="0.7"/><circle cx="229.91" cy="103.65" r="0.7"/><circle cx="229.91" cy="107.60" r="0.7"/><circle cx="229.91" cy="111.54" r="0.7"/><circle cx="229.91" cy="115.49" r="0.7"/><circle cx="229.91" cy="119.44" r="0.7"/><circle cx="229.91" cy="123.39" r="0.7"/><circle cx="229.91" cy="127.34" r="0.7"/><circle cx="229.91" cy="131.28" r="0.7"/><circle cx="229.91" cy="135.23" r="0.7"/><circle cx="229.91" cy="139.18" r="0.7"/><circle cx="229.91" cy="143.13" r="0.7"/><circle cx="229.91" cy="147.08" r="0.7"/><circle cx="236.25" cy="1.00" r="0.7"/><circle cx="236.25" cy="4.95" r="0.7"/><circle cx="236.25" cy="8.90" r="0.7"/><circle cx="236.25" cy="12.84" r="0.7"/><circle cx="236.25" cy="16.79" r="0.7"/><circle cx="236.25" cy="20.74" r="0.7"/><circle cx="236.25" cy="24.69" r="0.7"/><circle cx="236.25" cy="28.64" r="0.7"/><circle cx="236.25" cy="32.58" r="0.7"/><circle cx="236.25" cy="36.53" r="0.7"/><circle cx="236.25" cy="40.48" r="0.7"/><circle cx="236.25" cy="44.43" r="0.7"/><circle cx="236.25" cy="48.38" r="0.7"/><circle cx="236.25" cy="52.32" r="0.7"/><circle cx="236.25" cy="56.27" r="0.7"/><circle cx="236.25" cy="60.22" r="0.7"/><circle cx="236.25" cy="64.17" r="0.7"/><circle cx="236.25" cy="68.12" r="0.7"/><circle cx="236.25" cy="72.06" r="0.7"/><circle cx="236.25" cy="76.01" r="0.7"/><circle cx="236.25" cy="79.96" r="0.7"/><circle cx="236.25" cy="83.91" r="0.7"/><circle cx="236.25" cy="87.86" r="0.7"/><circle cx="236.25" cy="91.80" r="0.7"/><circle cx="236.25" cy="95.75" r="0.7"/><circle cx="236.25" cy="99.70" r="0.7"/><circle cx="236.25" cy="103.65" r="0.7"/><circle cx="236.25" cy="107.60" r="0.7"/><circle cx="236.25" cy="111.54" r="0.7"/><circle cx="236.25" cy="115.49" r="0.7"/><circle cx="236.25" cy="119.44" r="0.7"/><circle cx="236.25" cy="123.39" r="0.7"/><circle cx="236.25" cy="127.34" r="0.7"/><circle cx="236.25" cy="131.28" r="0.7"/><circle cx="236.25" cy="135.23" r="0.7"/><circle cx="236.25" cy="139.18" r="0.7"/><circle cx="236.25" cy="143.13" r="0.7"/><circle cx="236.25" cy="147.08" r="0.7"/><circle cx="236.25" cy="151.02" r="0.7"/><circle cx="242.60" cy="1.00" r="0.7"/><circle cx="242.60" cy="4.95" r="0.7"/><circle cx="242.60" cy="8.90" r="0.7"/><circle cx="242.60" cy="12.84" r="0.7"/><circle cx="242.60" cy="16.79" r="0.7"/><circle cx="242.60" cy="20.74" r="0.7"/><circle cx="242.60" cy="24.69" r="0.7"/><circle cx="242.60" cy="28.64" r="0.7"/><circle cx="242.60" cy="32.58" r="0.7"/><circle cx="242.60" cy="36.53" r="0.7"/><circle cx="242.60" cy="40.48" r="0.7"/><circle cx="242.60" cy="44.43" r="0.7"/><circle cx="242.60" cy="48.38" r="0.7"/><circle cx="242.60" cy="52.32" r="0.7"/><circle cx="242.60" cy="56.27" r="0.7"/><circle cx="242.60" cy="60.22" r="0.7"/><circle cx="242.60" cy="64.17" r="0.7"/><circle cx="242.60" cy="68.12" r="0.7"/><circle cx="242.60" cy="72.06" r="0.7"/><circle cx="242.60" cy="76.01" r="0.7"/><circle cx="242.60" cy="79.96" r="0.7"/><circle cx="242.60" cy="83.91" r="0.7"/><circle cx="242.60" cy="87.86" r="0.7"/><circle cx="242.60" cy="91.80" r="0.7"/><circle cx="242.60" cy="95.75" r="0.7"/><circle cx="242.60" cy="99.70" r="0.7"/><circle cx="242.60" cy="103.65" r="0.7"/><circle cx="242.60" cy="107.60" r="0.7"/><circle cx="242.60" cy="111.54" r="0.7"/><circle cx="242.60" cy="115.49" r="0.7"/><circle cx="242.60" cy="119.44" r="0.7"/><circle cx="242.60" cy="123.39" r="0.7"/><circle cx="242.60" cy="127.34" r="0.7"/><circle cx="242.60" cy="131.28" r="0.7"/><circle cx="242.60" cy="135.23" r="0.7"/><circle cx="242.60" cy="139.18" r="0.7"/><circle cx="242.60" cy="143.13" r="0.7"/><circle cx="242.60" cy="147.08" r="0.7"/><circle cx="242.60" cy="151.02" r="0.7"/><circle cx="242.60" cy="154.97" r="0.7"/><circle cx="248.94" cy="1.00" r="0.7"/><circle cx="248.94" cy="4.95" r="0.7"/><circle cx="248.94" cy="8.90" r="0.7"/><circle cx="248.94" cy="12.84" r="0.7"/><circle cx="248.94" cy="16.79" r="0.7"/><circle cx="248.94" cy="20.74" r="0.7"/><circle cx="248.94" cy="24.69" r="0.7"/><circle cx="248.94" cy="28.64" r="0.7"/><circle cx="248.94" cy="32.58" r="0.7"/><circle cx="248.94" cy="36.53" r="0.7"/><circle cx="248.94" cy="40.48" r="0.7"/><circle cx="248.94" cy="44.43" r="0.7"/><circle cx="248.94" cy="48.38" r="0.7"/><circle cx="248.94" cy="52.32" r="0.7"/><circle cx="248.94" cy="56.27" r="0.7"/><circle cx="248.94" cy="60.22" r="0.7"/><circle cx="248.94" cy="64.17" r="0.7"/><circle cx="248.94" cy="68.12" r="0.7"/><circle cx="248.94" cy="72.06" r="0.7"/><circle cx="248.94" cy="76.01" r="0.7"/><circle cx="248.94" cy="79.96" r="0.7"/><circle cx="248.94" cy="83.91" r="0.7"/><circle cx="248.94" cy="87.86" r="0.7"/><circle cx="248.94" cy="91.80" r="0.7"/><circle cx="248.94" cy="95.75" r="0.7"/><circle cx="248.94" cy="99.70" r="0.7"/><circle cx="248.94" cy="103.65" r="0.7"/><circle cx="248.94" cy="107.60" r="0.7"/><circle cx="248.94" cy="111.54" r="0.7"/><circle cx="248.94" cy="115.49" r="0.7"/><circle cx="248.94" cy="119.44" r="0.7"/><circle cx="248.94" cy="123.39" r="0.7"/><circle cx="248.94" cy="127.34" r="0.7"/><circle cx="248.94" cy="131.28" r="0.7"/><circle cx="248.94" cy="135.23" r="0.7"/><circle cx="248.94" cy="139.18" r="0.7"/><circle cx="248.94" cy="143.13" r="0.7"/><circle cx="248.94" cy="147.08" r="0.7"/><circle cx="248.94" cy="151.02" r="0.7"/><circle cx="248.94" cy="154.97" r="0.7"/><circle cx="255.28" cy="1.00" r="0.7"/><circle cx="255.28" cy="4.95" r="0.7"/><circle cx="255.28" cy="8.90" r="0.7"/><circle cx="255.28" cy="12.84" r="0.7"/><circle cx="255.28" cy="16.79" r="0.7"/><circle cx="255.28" cy="20.74" r="0.7"/><circle cx="255.28" cy="24.69" r="0.7"/><circle cx="255.28" cy="28.64" r="0.7"/><circle cx="255.28" cy="32.58" r="0.7"/><circle cx="255.28" cy="36.53" r="0.7"/><circle cx="255.28" cy="40.48" r="0.7"/><circle cx="255.28" cy="44.43" r="0.7"/><circle cx="255.28" cy="48.38" r="0.7"/><circle cx="255.28" cy="52.32" r="0.7"/><circle cx="255.28" cy="56.27" r="0.7"/><circle cx="255.28" cy="60.22" r="0.7"/><circle cx="255.28" cy="64.17" r="0.7"/><circle cx="255.28" cy="68.12" r="0.7"/><circle cx="255.28" cy="72.06" r="0.7"/><circle cx="255.28" cy="76.01" r="0.7"/><circle cx="255.28" cy="79.96" r="0.7"/><circle cx="255.28" cy="83.91" r="0.7"/><circle cx="255.28" cy="87.86" r="0.7"/><circle cx="255.28" cy="91.80" r="0.7"/><circle cx="255.28" cy="95.75" r="0.7"/><circle cx="255.28" cy="99.70" r="0.7"/><circle cx="255.28" cy="103.65" r="0.7"/><circle cx="255.28" cy="107.60" r="0.7"/><circle cx="255.28" cy="111.54" r="0.7"/><circle cx="255.28" cy="115.49" r="0.7"/><circle cx="255.28" cy="119.44" r="0.7"/><circle cx="255.28" cy="123.39" r="0.7"/><circle cx="255.28" cy="127.34" r="0.7"/><circle cx="255.28" cy="131.28" r="0.7"/><circle cx="255.28" cy="135.23" r="0.7"/><circle cx="255.28" cy="139.18" r="0.7"/><circle cx="255.28" cy="143.13" r="0.7"/><circle cx="255.28" cy="147.08" r="0.7"/><circle cx="255.28" cy="151.02" r="0.7"/><circle cx="255.28" cy="154.97" r="0.7"/><circle cx="255.28" cy="158.92" r="0.7"/><circle cx="261.63" cy="1.00" r="0.7"/><circle cx="261.63" cy="4.95" r="0.7"/><circle cx="261.63" cy="8.90" r="0.7"/><circle cx="261.63" cy="12.84" r="0.7"/><circle cx="261.63" cy="16.79" r="0.7"/><circle cx="261.63" cy="20.74" r="0.7"/><circle cx="261.63" cy="24.69" r="0.7"/><circle cx="261.63" cy="28.64" r="0.7"/><circle cx="261.63" cy="32.58" r="0.7"/><circle cx="261.63" cy="36.53" r="0.7"/><circle cx="261.63" cy="40.48" r="0.7"/><circle cx="261.63" cy="44.43" r="0.7"/><circle cx="261.63" cy="48.38" r="0.7"/><circle cx="261.63" cy="52.32" r="0.7"/><circle cx="261.63" cy="56.27" r="0.7"/><circle cx="261.63" cy="60.22" r="0.7"/><circle cx="261.63" cy="64.17" r="0.7"/><circle cx="261.63" cy="68.12" r="0.7"/><circle cx="261.63" cy="72.06" r="0.7"/><circle cx="261.63" cy="76.01" r="0.7"/><circle cx="261.63" cy="79.96" r="0.7"/><circle cx="261.63" cy="83.91" r="0.7"/><circle cx="261.63" cy="87.86" r="0.7"/><circle cx="261.63" cy="91.80" r="0.7"/><circle cx="261.63" cy="95.75" r="0.7"/><circle cx="261.63" cy="99.70" r="0.7"/><circle cx="261.63" cy="103.65" r="0.7"/><circle cx="261.63" cy="107.60" r="0.7"/><circle cx="261.63" cy="111.54" r="0.7"/><circle cx="261.63" cy="115.49" r="0.7"/><circle cx="261.63" cy="119.44" r="0.7"/><circle cx="261.63" cy="123.39" r="0.7"/><circle cx="261.63" cy="127.34" r="0.7"/><circle cx="261.63" cy="131.28" r="0.7"/><circle cx="261.63" cy="135.23" r="0.7"/><circle cx="261.63" cy="139.18" r="0.7"/><circle cx="261.63" cy="143.13" r="0.7"/><circle cx="261.63" cy="147.08" r="0.7"/><circle cx="261.63" cy="151.02" r="0.7"/><circle cx="261.63" cy="154.97" r="0.7"/><circle cx="261.63" cy="158.92" r="0.7"/><circle cx="261.63" cy="174.71" r="0.7"/><circle cx="267.97" cy="1.00" r="0.7"/><circle cx="267.97" cy="4.95" r="0.7"/><circle cx="267.97" cy="8.90" r="0.7"/><circle cx="267.97" cy="12.84" r="0.7"/><circle cx="267.97" cy="16.79" r="0.7"/><circle cx="267.97" cy="20.74" r="0.7"/><circle cx="267.97" cy="24.69" r="0.7"/><circle cx="267.97" cy="28.64" r="0.7"/><circle cx="267.97" cy="32.58" r="0.7"/><circle cx="267.97" cy="36.53" r="0.7"/><circle cx="267.97" cy="40.48" r="0.7"/><circle cx="267.97" cy="44.43" r="0.7"/><circle cx="267.97" cy="48.38" r="0.7"/><circle cx="267.97" cy="52.32" r="0.7"/><circle cx="267.97" cy="56.27" r="0.7"/><circle cx="267.97" cy="60.22" r="0.7"/><circle cx="267.97" cy="64.17" r="0.7"/><circle cx="267.97" cy="68.12" r="0.7"/><circle cx="267.97" cy="72.06" r="0.7"/><circle cx="267.97" cy="76.01" r="0.7"/><circle cx="267.97" cy="79.96" r="0.7"/><circle cx="267.97" cy="83.91" r="0.7"/><circle cx="267.97" cy="87.86" r="0.7"/><circle cx="267.97" cy="91.80" r="0.7"/><circle cx="267.97" cy="95.75" r="0.7"/><circle cx="267.97" cy="99.70" r="0.7"/><circle cx="267.97" cy="103.65" r="0.7"/><circle cx="267.97" cy="107.60" r="0.7"/><circle cx="267.97" cy="111.54" r="0.7"/><circle cx="267.97" cy="115.49" r="0.7"/><circle cx="267.97" cy="119.44" r="0.7"/><circle cx="267.97" cy="123.39" r="0.7"/><circle cx="267.97" cy="127.34" r="0.7"/><circle cx="267.97" cy="131.28" r="0.7"/><circle cx="267.97" cy="135.23" r="0.7"/><circle cx="267.97" cy="139.18" r="0.7"/><circle cx="267.97" cy="143.13" r="0.7"/><circle cx="267.97" cy="147.08" r="0.7"/><circle cx="267.97" cy="151.02" r="0.7"/><circle cx="267.97" cy="154.97" r="0.7"/><circle cx="267.97" cy="158.92" r="0.7"/><circle cx="267.97" cy="162.87" r="0.7"/><circle cx="274.32" cy="1.00" r="0.7"/><circle cx="274.32" cy="4.95" r="0.7"/><circle cx="274.32" cy="8.90" r="0.7"/><circle cx="274.32" cy="12.84" r="0.7"/><circle cx="274.32" cy="16.79" r="0.7"/><circle cx="274.32" cy="20.74" r="0.7"/><circle cx="274.32" cy="24.69" r="0.7"/><circle cx="274.32" cy="28.64" r="0.7"/><circle cx="274.32" cy="32.58" r="0.7"/><circle cx="274.32" cy="36.53" r="0.7"/><circle cx="274.32" cy="40.48" r="0.7"/><circle cx="274.32" cy="44.43" r="0.7"/><circle cx="274.32" cy="48.38" r="0.7"/><circle cx="274.32" cy="52.32" r="0.7"/><circle cx="274.32" cy="56.27" r="0.7"/><circle cx="274.32" cy="60.22" r="0.7"/><circle cx="274.32" cy="64.17" r="0.7"/><circle cx="274.32" cy="68.12" r="0.7"/><circle cx="274.32" cy="72.06" r="0.7"/><circle cx="274.32" cy="76.01" r="0.7"/><circle cx="274.32" cy="79.96" r="0.7"/><circle cx="274.32" cy="83.91" r="0.7"/><circle cx="274.32" cy="87.86" r="0.7"/><circle cx="274.32" cy="91.80" r="0.7"/><circle cx="274.32" cy="95.75" r="0.7"/><circle cx="274.32" cy="99.70" r="0.7"/><circle cx="274.32" cy="103.65" r="0.7"/><circle cx="274.32" cy="107.60" r="0.7"/><circle cx="274.32" cy="111.54" r="0.7"/><circle cx="274.32" cy="115.49" r="0.7"/><circle cx="274.32" cy="119.44" r="0.7"/><circle cx="274.32" cy="123.39" r="0.7"/><circle cx="274.32" cy="127.34" r="0.7"/><circle cx="274.32" cy="131.28" r="0.7"/><circle cx="274.32" cy="135.23" r="0.7"/><circle cx="274.32" cy="139.18" r="0.7"/><circle cx="274.32" cy="143.13" r="0.7"/><circle cx="274.32" cy="147.08" r="0.7"/><circle cx="274.32" cy="151.02" r="0.7"/><circle cx="274.32" cy="154.97" r="0.7"/><circle cx="274.32" cy="158.92" r="0.7"/><circle cx="274.32" cy="162.87" r="0.7"/><circle cx="274.32" cy="166.82" r="0.7"/><circle cx="274.32" cy="174.71" r="0.7"/><circle cx="280.66" cy="1.00" r="0.7"/><circle cx="280.66" cy="4.95" r="0.7"/><circle cx="280.66" cy="8.90" r="0.7"/><circle cx="280.66" cy="12.84" r="0.7"/><circle cx="280.66" cy="16.79" r="0.7"/><circle cx="280.66" cy="20.74" r="0.7"/><circle cx="280.66" cy="24.69" r="0.7"/><circle cx="280.66" cy="28.64" r="0.7"/><circle cx="280.66" cy="32.58" r="0.7"/><circle cx="280.66" cy="36.53" r="0.7"/><circle cx="280.66" cy="40.48" r="0.7"/><circle cx="280.66" cy="44.43" r="0.7"/><circle cx="280.66" cy="48.38" r="0.7"/><circle cx="280.66" cy="52.32" r="0.7"/><circle cx="280.66" cy="56.27" r="0.7"/><circle cx="280.66" cy="60.22" r="0.7"/><circle cx="280.66" cy="64.17" r="0.7"/><circle cx="280.66" cy="68.12" r="0.7"/><circle cx="280.66" cy="72.06" r="0.7"/><circle cx="280.66" cy="76.01" r="0.7"/><circle cx="280.66" cy="79.96" r="0.7"/><circle cx="280.66" cy="83.91" r="0.7"/><circle cx="280.66" cy="87.86" r="0.7"/><circle cx="280.66" cy="91.80" r="0.7"/><circle cx="280.66" cy="95.75" r="0.7"/><circle cx="280.66" cy="99.70" r="0.7"/><circle cx="280.66" cy="103.65" r="0.7"/><circle cx="280.66" cy="107.60" r="0.7"/><circle cx="280.66" cy="111.54" r="0.7"/><circle cx="280.66" cy="115.49" r="0.7"/><circle cx="280.66" cy="119.44" r="0.7"/><circle cx="280.66" cy="123.39" r="0.7"/><circle cx="280.66" cy="127.34" r="0.7"/><circle cx="280.66" cy="131.28" r="0.7"/><circle cx="280.66" cy="135.23" r="0.7"/><circle cx="280.66" cy="139.18" r="0.7"/><circle cx="280.66" cy="143.13" r="0.7"/><circle cx="280.66" cy="147.08" r="0.7"/><circle cx="280.66" cy="151.02" r="0.7"/><circle cx="280.66" cy="154.97" r="0.7"/><circle cx="280.66" cy="158.92" r="0.7"/><circle cx="280.66" cy="162.87" r="0.7"/><circle cx="280.66" cy="166.82" r="0.7"/><circle cx="280.66" cy="174.71" r="0.7"/><circle cx="280.66" cy="178.66" r="0.7"/><circle cx="287.00" cy="1.00" r="0.7"/><circle cx="287.00" cy="4.95" r="0.7"/><circle cx="287.00" cy="8.90" r="0.7"/><circle cx="287.00" cy="12.84" r="0.7"/><circle cx="287.00" cy="16.79" r="0.7"/><circle cx="287.00" cy="20.74" r="0.7"/><circle cx="287.00" cy="24.69" r="0.7"/><circle cx="287.00" cy="28.64" r="0.7"/><circle cx="287.00" cy="32.58" r="0.7"/><circle cx="287.00" cy="36.53" r="0.7"/><circle cx="287.00" cy="40.48" r="0.7"/><circle cx="287.00" cy="44.43" r="0.7"/><circle cx="287.00" cy="48.38" r="0.7"/><circle cx="287.00" cy="52.32" r="0.7"/><circle cx="287.00" cy="56.27" r="0.7"/><circle cx="287.00" cy="60.22" r="0.7"/><circle cx="287.00" cy="64.17" r="0.7"/><circle cx="287.00" cy="68.12" r="0.7"/><circle cx="287.00" cy="72.06" r="0.7"/><circle cx="287.00" cy="76.01" r="0.7"/><circle cx="287.00" cy="79.96" r="0.7"/><circle cx="287.00" cy="83.91" r="0.7"/><circle cx="287.00" cy="87.86" r="0.7"/><circle cx="287.00" cy="91.80" r="0.7"/><circle cx="287.00" cy="95.75" r="0.7"/><circle cx="287.00" cy="99.70" r="0.7"/><circle cx="287.00" cy="103.65" r="0.7"/><circle cx="287.00" cy="107.60" r="0.7"/><circle cx="287.00" cy="111.54" r="0.7"/><circle cx="287.00" cy="115.49" r="0.7"/><circle cx="287.00" cy="119.44" r="0.7"/><circle cx="287.00" cy="123.39" r="0.7"/><circle cx="287.00" cy="127.34" r="0.7"/><circle cx="287.00" cy="131.28" r="0.7"/><circle cx="287.00" cy="135.23" r="0.7"/><circle cx="287.00" cy="139.18" r="0.7"/><circle cx="287.00" cy="143.13" r="0.7"/><circle cx="287.00" cy="147.08" r="0.7"/><circle cx="287.00" cy="151.02" r="0.7"/><circle cx="287.00" cy="154.97" r="0.7"/><circle cx="287.00" cy="158.92" r="0.7"/><circle cx="287.00" cy="162.87" r="0.7"/><circle cx="287.00" cy="166.82" r="0.7"/><circle cx="287.00" cy="174.71" r="0.7"/><circle cx="293.35" cy="1.00" r="0.7"/><circle cx="293.35" cy="4.95" r="0.7"/><circle cx="293.35" cy="8.90" r="0.7"/><circle cx="293.35" cy="12.84" r="0.7"/><circle cx="293.35" cy="16.79" r="0.7"/><circle cx="293.35" cy="20.74" r="0.7"/><circle cx="293.35" cy="24.69" r="0.7"/><circle cx="293.35" cy="28.64" r="0.7"/><circle cx="293.35" cy="32.58" r="0.7"/><circle cx="293.35" cy="36.53" r="0.7"/><circle cx="293.35" cy="40.48" r="0.7"/><circle cx="293.35" cy="44.43" r="0.7"/><circle cx="293.35" cy="48.38" r="0.7"/><circle cx="293.35" cy="52.32" r="0.7"/><circle cx="293.35" cy="56.27" r="0.7"/><circle cx="293.35" cy="60.22" r="0.7"/><circle cx="293.35" cy="64.17" r="0.7"/><circle cx="293.35" cy="68.12" r="0.7"/><circle cx="293.35" cy="72.06" r="0.7"/><circle cx="293.35" cy="76.01" r="0.7"/><circle cx="293.35" cy="79.96" r="0.7"/><circle cx="293.35" cy="83.91" r="0.7"/><circle cx="293.35" cy="87.86" r="0.7"/><circle cx="293.35" cy="91.80" r="0.7"/><circle cx="293.35" cy="95.75" r="0.7"/><circle cx="293.35" cy="99.70" r="0.7"/><circle cx="293.35" cy="103.65" r="0.7"/><circle cx="293.35" cy="107.60" r="0.7"/><circle cx="293.35" cy="111.54" r="0.7"/><circle cx="293.35" cy="115.49" r="0.7"/><circle cx="293.35" cy="119.44" r="0.7"/><circle cx="293.35" cy="123.39" r="0.7"/><circle cx="293.35" cy="127.34" r="0.7"/><circle cx="293.35" cy="131.28" r="0.7"/><circle cx="293.35" cy="135.23" r="0.7"/><circle cx="293.35" cy="139.18" r="0.7"/><circle cx="293.35" cy="143.13" r="0.7"/><circle cx="293.35" cy="147.08" r="0.7"/><circle cx="293.35" cy="151.02" r="0.7"/><circle cx="293.35" cy="154.97" r="0.7"/><circle cx="293.35" cy="158.92" r="0.7"/><circle cx="293.35" cy="162.87" r="0.7"/><circle cx="293.35" cy="166.82" r="0.7"/><circle cx="293.35" cy="174.71" r="0.7"/><circle cx="293.35" cy="178.66" r="0.7"/><circle cx="299.69" cy="1.00" r="0.7"/><circle cx="299.69" cy="4.95" r="0.7"/><circle cx="299.69" cy="8.90" r="0.7"/><circle cx="299.69" cy="12.84" r="0.7"/><circle cx="299.69" cy="16.79" r="0.7"/><circle cx="299.69" cy="20.74" r="0.7"/><circle cx="299.69" cy="24.69" r="0.7"/><circle cx="299.69" cy="28.64" r="0.7"/><circle cx="299.69" cy="32.58" r="0.7"/><circle cx="299.69" cy="36.53" r="0.7"/><circle cx="299.69" cy="40.48" r="0.7"/><circle cx="299.69" cy="44.43" r="0.7"/><circle cx="299.69" cy="48.38" r="0.7"/><circle cx="299.69" cy="52.32" r="0.7"/><circle cx="299.69" cy="56.27" r="0.7"/><circle cx="299.69" cy="60.22" r="0.7"/><circle cx="299.69" cy="64.17" r="0.7"/><circle cx="299.69" cy="68.12" r="0.7"/><circle cx="299.69" cy="72.06" r="0.7"/><circle cx="299.69" cy="76.01" r="0.7"/><circle cx="299.69" cy="79.96" r="0.7"/><circle cx="299.69" cy="83.91" r="0.7"/><circle cx="299.69" cy="87.86" r="0.7"/><circle cx="299.69" cy="91.80" r="0.7"/><circle cx="299.69" cy="95.75" r="0.7"/><circle cx="299.69" cy="99.70" r="0.7"/><circle cx="299.69" cy="103.65" r="0.7"/><circle cx="299.69" cy="107.60" r="0.7"/><circle cx="299.69" cy="111.54" r="0.7"/><circle cx="299.69" cy="115.49" r="0.7"/><circle cx="299.69" cy="119.44" r="0.7"/><circle cx="299.69" cy="123.39" r="0.7"/><circle cx="299.69" cy="127.34" r="0.7"/><circle cx="299.69" cy="131.28" r="0.7"/><circle cx="299.69" cy="135.23" r="0.7"/><circle cx="299.69" cy="139.18" r="0.7"/><circle cx="299.69" cy="143.13" r="0.7"/><circle cx="299.69" cy="147.08" r="0.7"/><circle cx="299.69" cy="151.02" r="0.7"/><circle cx="299.69" cy="154.97" r="0.7"/><circle cx="299.69" cy="158.92" r="0.7"/><circle cx="299.69" cy="162.87" r="0.7"/><circle cx="299.69" cy="166.82" r="0.7"/><circle cx="299.69" cy="170.76" r="0.7"/><circle cx="299.69" cy="174.71" r="0.7"/><circle cx="306.04" cy="1.00" r="0.7"/><circle cx="306.04" cy="4.95" r="0.7"/><circle cx="306.04" cy="8.90" r="0.7"/><circle cx="306.04" cy="12.84" r="0.7"/><circle cx="306.04" cy="16.79" r="0.7"/><circle cx="306.04" cy="20.74" r="0.7"/><circle cx="306.04" cy="24.69" r="0.7"/><circle cx="306.04" cy="28.64" r="0.7"/><circle cx="306.04" cy="32.58" r="0.7"/><circle cx="306.04" cy="36.53" r="0.7"/><circle cx="306.04" cy="40.48" r="0.7"/><circle cx="306.04" cy="44.43" r="0.7"/><circle cx="306.04" cy="48.38" r="0.7"/><circle cx="306.04" cy="52.32" r="0.7"/><circle cx="306.04" cy="56.27" r="0.7"/><circle cx="306.04" cy="60.22" r="0.7"/><circle cx="306.04" cy="64.17" r="0.7"/><circle cx="306.04" cy="68.12" r="0.7"/><circle cx="306.04" cy="72.06" r="0.7"/><circle cx="306.04" cy="76.01" r="0.7"/><circle cx="306.04" cy="79.96" r="0.7"/><circle cx="306.04" cy="83.91" r="0.7"/><circle cx="306.04" cy="87.86" r="0.7"/><circle cx="306.04" cy="91.80" r="0.7"/><circle cx="306.04" cy="95.75" r="0.7"/><circle cx="306.04" cy="99.70" r="0.7"/><circle cx="306.04" cy="103.65" r="0.7"/><circle cx="306.04" cy="107.60" r="0.7"/><circle cx="306.04" cy="111.54" r="0.7"/><circle cx="306.04" cy="115.49" r="0.7"/><circle cx="306.04" cy="119.44" r="0.7"/><circle cx="306.04" cy="123.39" r="0.7"/><circle cx="306.04" cy="127.34" r="0.7"/><circle cx="306.04" cy="131.28" r="0.7"/><circle cx="306.04" cy="135.23" r="0.7"/><circle cx="306.04" cy="139.18" r="0.7"/><circle cx="306.04" cy="143.13" r="0.7"/><circle cx="306.04" cy="147.08" r="0.7"/><circle cx="306.04" cy="151.02" r="0.7"/><circle cx="306.04" cy="154.97" r="0.7"/><circle cx="306.04" cy="158.92" r="0.7"/><circle cx="306.04" cy="162.87" r="0.7"/><circle cx="306.04" cy="166.82" r="0.7"/><circle cx="306.04" cy="170.76" r="0.7"/><circle cx="306.04" cy="174.71" r="0.7"/><circle cx="306.04" cy="178.66" r="0.7"/><circle cx="312.38" cy="1.00" r="0.7"/><circle cx="312.38" cy="4.95" r="0.7"/><circle cx="312.38" cy="8.90" r="0.7"/><circle cx="312.38" cy="12.84" r="0.7"/><circle cx="312.38" cy="16.79" r="0.7"/><circle cx="312.38" cy="20.74" r="0.7"/><circle cx="312.38" cy="24.69" r="0.7"/><circle cx="312.38" cy="28.64" r="0.7"/><circle cx="312.38" cy="32.58" r="0.7"/><circle cx="312.38" cy="36.53" r="0.7"/><circle cx="312.38" cy="40.48" r="0.7"/><circle cx="312.38" cy="44.43" r="0.7"/><circle cx="312.38" cy="48.38" r="0.7"/><circle cx="312.38" cy="52.32" r="0.7"/><circle cx="312.38" cy="56.27" r="0.7"/><circle cx="312.38" cy="60.22" r="0.7"/><circle cx="312.38" cy="64.17" r="0.7"/><circle cx="312.38" cy="68.12" r="0.7"/><circle cx="312.38" cy="72.06" r="0.7"/><circle cx="312.38" cy="76.01" r="0.7"/><circle cx="312.38" cy="79.96" r="0.7"/><circle cx="312.38" cy="83.91" r="0.7"/><circle cx="312.38" cy="87.86" r="0.7"/><circle cx="312.38" cy="91.80" r="0.7"/><circle cx="312.38" cy="95.75" r="0.7"/><circle cx="312.38" cy="99.70" r="0.7"/><circle cx="312.38" cy="103.65" r="0.7"/><circle cx="312.38" cy="107.60" r="0.7"/><circle cx="312.38" cy="111.54" r="0.7"/><circle cx="312.38" cy="115.49" r="0.7"/><circle cx="312.38" cy="119.44" r="0.7"/><circle cx="312.38" cy="123.39" r="0.7"/><circle cx="312.38" cy="127.34" r="0.7"/><circle cx="312.38" cy="131.28" r="0.7"/><circle cx="312.38" cy="135.23" r="0.7"/><circle cx="312.38" cy="139.18" r="0.7"/><circle cx="312.38" cy="143.13" r="0.7"/><circle cx="312.38" cy="147.08" r="0.7"/><circle cx="312.38" cy="151.02" r="0.7"/><circle cx="312.38" cy="154.97" r="0.7"/><circle cx="312.38" cy="158.92" r="0.7"/><circle cx="312.38" cy="162.87" r="0.7"/><circle cx="312.38" cy="166.82" r="0.7"/><circle cx="312.38" cy="170.76" r="0.7"/><circle cx="312.38" cy="174.71" r="0.7"/><circle cx="312.38" cy="178.66" r="0.7"/><circle cx="318.72" cy="1.00" r="0.7"/><circle cx="318.72" cy="4.95" r="0.7"/><circle cx="318.72" cy="8.90" r="0.7"/><circle cx="318.72" cy="12.84" r="0.7"/><circle cx="318.72" cy="16.79" r="0.7"/><circle cx="318.72" cy="20.74" r="0.7"/><circle cx="318.72" cy="24.69" r="0.7"/><circle cx="318.72" cy="28.64" r="0.7"/><circle cx="318.72" cy="32.58" r="0.7"/><circle cx="318.72" cy="36.53" r="0.7"/><circle cx="318.72" cy="40.48" r="0.7"/><circle cx="318.72" cy="44.43" r="0.7"/><circle cx="318.72" cy="48.38" r="0.7"/><circle cx="318.72" cy="52.32" r="0.7"/><circle cx="318.72" cy="56.27" r="0.7"/><circle cx="318.72" cy="60.22" r="0.7"/><circle cx="318.72" cy="64.17" r="0.7"/><circle cx="318.72" cy="68.12" r="0.7"/><circle cx="318.72" cy="72.06" r="0.7"/><circle cx="318.72" cy="76.01" r="0.7"/><circle cx="318.72" cy="79.96" r="0.7"/><circle cx="318.72" cy="83.91" r="0.7"/><circle cx="318.72" cy="87.86" r="0.7"/><circle cx="318.72" cy="91.80" r="0.7"/><circle cx="318.72" cy="95.75" r="0.7"/><circle cx="318.72" cy="99.70" r="0.7"/><circle cx="318.72" cy="103.65" r="0.7"/><circle cx="318.72" cy="107.60" r="0.7"/><circle cx="318.72" cy="111.54" r="0.7"/><circle cx="318.72" cy="115.49" r="0.7"/><circle cx="318.72" cy="119.44" r="0.7"/><circle cx="318.72" cy="123.39" r="0.7"/><circle cx="318.72" cy="127.34" r="0.7"/><circle cx="318.72" cy="131.28" r="0.7"/><circle cx="318.72" cy="135.23" r="0.7"/><circle cx="318.72" cy="139.18" r="0.7"/><circle cx="318.72" cy="143.13" r="0.7"/><circle cx="318.72" cy="147.08" r="0.7"/><circle cx="318.72" cy="151.02" r="0.7"/><circle cx="318.72" cy="154.97" r="0.7"/><circle cx="318.72" cy="158.92" r="0.7"/><circle cx="318.72" cy="162.87" r="0.7"/><circle cx="318.72" cy="166.82" r="0.7"/><circle cx="318.72" cy="170.76" r="0.7"/><circle cx="318.72" cy="174.71" r="0.7"/><circle cx="318.72" cy="178.66" r="0.7"/><circle cx="325.07" cy="1.00" r="0.7"/><circle cx="325.07" cy="4.95" r="0.7"/><circle cx="325.07" cy="8.90" r="0.7"/><circle cx="325.07" cy="12.84" r="0.7"/><circle cx="325.07" cy="16.79" r="0.7"/><circle cx="325.07" cy="20.74" r="0.7"/><circle cx="325.07" cy="24.69" r="0.7"/><circle cx="325.07" cy="28.64" r="0.7"/><circle cx="325.07" cy="32.58" r="0.7"/><circle cx="325.07" cy="36.53" r="0.7"/><circle cx="325.07" cy="40.48" r="0.7"/><circle cx="325.07" cy="44.43" r="0.7"/><circle cx="325.07" cy="48.38" r="0.7"/><circle cx="325.07" cy="52.32" r="0.7"/><circle cx="325.07" cy="56.27" r="0.7"/><circle cx="325.07" cy="60.22" r="0.7"/><circle cx="325.07" cy="64.17" r="0.7"/><circle cx="325.07" cy="68.12" r="0.7"/><circle cx="325.07" cy="72.06" r="0.7"/><circle cx="325.07" cy="76.01" r="0.7"/><circle cx="325.07" cy="79.96" r="0.7"/><circle cx="325.07" cy="83.91" r="0.7"/><circle cx="325.07" cy="87.86" r="0.7"/><circle cx="325.07" cy="91.80" r="0.7"/><circle cx="325.07" cy="95.75" r="0.7"/><circle cx="325.07" cy="99.70" r="0.7"/><circle cx="325.07" cy="103.65" r="0.7"/><circle cx="325.07" cy="107.60" r="0.7"/><circle cx="325.07" cy="111.54" r="0.7"/><circle cx="325.07" cy="115.49" r="0.7"/><circle cx="325.07" cy="119.44" r="0.7"/><circle cx="325.07" cy="123.39" r="0.7"/><circle cx="325.07" cy="127.34" r="0.7"/><circle cx="325.07" cy="131.28" r="0.7"/><circle cx="325.07" cy="135.23" r="0.7"/><circle cx="325.07" cy="139.18" r="0.7"/><circle cx="325.07" cy="143.13" r="0.7"/><circle cx="325.07" cy="147.08" r="0.7"/><circle cx="325.07" cy="151.02" r="0.7"/><circle cx="325.07" cy="154.97" r="0.7"/><circle cx="325.07" cy="158.92" r="0.7"/><circle cx="325.07" cy="162.87" r="0.7"/><circle cx="325.07" cy="166.82" r="0.7"/><circle cx="325.07" cy="170.76" r="0.7"/><circle cx="325.07" cy="174.71" r="0.7"/><circle cx="325.07" cy="178.66" r="0.7"/><circle cx="331.41" cy="1.00" r="0.7"/><circle cx="331.41" cy="4.95" r="0.7"/><circle cx="331.41" cy="8.90" r="0.7"/><circle cx="331.41" cy="12.84" r="0.7"/><circle cx="331.41" cy="16.79" r="0.7"/><circle cx="331.41" cy="20.74" r="0.7"/><circle cx="331.41" cy="24.69" r="0.7"/><circle cx="331.41" cy="28.64" r="0.7"/><circle cx="331.41" cy="32.58" r="0.7"/><circle cx="331.41" cy="36.53" r="0.7"/><circle cx="331.41" cy="40.48" r="0.7"/><circle cx="331.41" cy="44.43" r="0.7"/><circle cx="331.41" cy="48.38" r="0.7"/><circle cx="331.41" cy="52.32" r="0.7"/><circle cx="331.41" cy="56.27" r="0.7"/><circle cx="331.41" cy="60.22" r="0.7"/><circle cx="331.41" cy="64.17" r="0.7"/><circle cx="331.41" cy="68.12" r="0.7"/><circle cx="331.41" cy="72.06" r="0.7"/><circle cx="331.41" cy="76.01" r="0.7"/><circle cx="331.41" cy="79.96" r="0.7"/><circle cx="331.41" cy="83.91" r="0.7"/><circle cx="331.41" cy="87.86" r="0.7"/><circle cx="331.41" cy="91.80" r="0.7"/><circle cx="331.41" cy="95.75" r="0.7"/><circle cx="331.41" cy="99.70" r="0.7"/><circle cx="331.41" cy="103.65" r="0.7"/><circle cx="331.41" cy="107.60" r="0.7"/><circle cx="331.41" cy="111.54" r="0.7"/><circle cx="331.41" cy="115.49" r="0.7"/><circle cx="331.41" cy="119.44" r="0.7"/><circle cx="331.41" cy="123.39" r="0.7"/><circle cx="331.41" cy="127.34" r="0.7"/><circle cx="331.41" cy="131.28" r="0.7"/><circle cx="331.41" cy="135.23" r="0.7"/><circle cx="331.41" cy="139.18" r="0.7"/><circle cx="331.41" cy="143.13" r="0.7"/><circle cx="331.41" cy="147.08" r="0.7"/><circle cx="331.41" cy="151.02" r="0.7"/><circle cx="331.41" cy="154.97" r="0.7"/><circle cx="331.41" cy="158.92" r="0.7"/><circle cx="331.41" cy="162.87" r="0.7"/><circle cx="331.41" cy="166.82" r="0.7"/><circle cx="331.41" cy="170.76" r="0.7"/><circle cx="331.41" cy="178.66" r="0.7"/><circle cx="337.76" cy="1.00" r="0.7"/><circle cx="337.76" cy="4.95" r="0.7"/><circle cx="337.76" cy="8.90" r="0.7"/><circle cx="337.76" cy="12.84" r="0.7"/><circle cx="337.76" cy="16.79" r="0.7"/><circle cx="337.76" cy="20.74" r="0.7"/><circle cx="337.76" cy="24.69" r="0.7"/><circle cx="337.76" cy="28.64" r="0.7"/><circle cx="337.76" cy="32.58" r="0.7"/><circle cx="337.76" cy="36.53" r="0.7"/><circle cx="337.76" cy="40.48" r="0.7"/><circle cx="337.76" cy="44.43" r="0.7"/><circle cx="337.76" cy="48.38" r="0.7"/><circle cx="337.76" cy="52.32" r="0.7"/><circle cx="337.76" cy="56.27" r="0.7"/><circle cx="337.76" cy="60.22" r="0.7"/><circle cx="337.76" cy="64.17" r="0.7"/><circle cx="337.76" cy="68.12" r="0.7"/><circle cx="337.76" cy="72.06" r="0.7"/><circle cx="337.76" cy="76.01" r="0.7"/><circle cx="337.76" cy="79.96" r="0.7"/><circle cx="337.76" cy="83.91" r="0.7"/><circle cx="337.76" cy="87.86" r="0.7"/><circle cx="337.76" cy="91.80" r="0.7"/><circle cx="337.76" cy="95.75" r="0.7"/><circle cx="337.76" cy="99.70" r="0.7"/><circle cx="337.76" cy="103.65" r="0.7"/><circle cx="337.76" cy="107.60" r="0.7"/><circle cx="337.76" cy="111.54" r="0.7"/><circle cx="337.76" cy="115.49" r="0.7"/><circle cx="337.76" cy="119.44" r="0.7"/><circle cx="337.76" cy="123.39" r="0.7"/><circle cx="337.76" cy="127.34" r="0.7"/><circle cx="337.76" cy="131.28" r="0.7"/><circle cx="337.76" cy="135.23" r="0.7"/><circle cx="337.76" cy="139.18" r="0.7"/><circle cx="337.76" cy="143.13" r="0.7"/><circle cx="337.76" cy="147.08" r="0.7"/><circle cx="337.76" cy="151.02" r="0.7"/><circle cx="337.76" cy="154.97" r="0.7"/><circle cx="337.76" cy="158.92" r="0.7"/><circle cx="337.76" cy="162.87" r="0.7"/><circle cx="337.76" cy="166.82" r="0.7"/><circle cx="337.76" cy="170.76" r="0.7"/><circle cx="337.76" cy="174.71" r="0.7"/><circle cx="337.76" cy="178.66" r="0.7"/><circle cx="344.10" cy="1.00" r="0.7"/><circle cx="344.10" cy="4.95" r="0.7"/><circle cx="344.10" cy="8.90" r="0.7"/><circle cx="344.10" cy="12.84" r="0.7"/><circle cx="344.10" cy="16.79" r="0.7"/><circle cx="344.10" cy="20.74" r="0.7"/><circle cx="344.10" cy="24.69" r="0.7"/><circle cx="344.10" cy="28.64" r="0.7"/><circle cx="344.10" cy="32.58" r="0.7"/><circle cx="344.10" cy="36.53" r="0.7"/><circle cx="344.10" cy="40.48" r="0.7"/><circle cx="344.10" cy="44.43" r="0.7"/><circle cx="344.10" cy="48.38" r="0.7"/><circle cx="344.10" cy="52.32" r="0.7"/><circle cx="344.10" cy="56.27" r="0.7"/><circle cx="344.10" cy="60.22" r="0.7"/><circle cx="344.10" cy="64.17" r="0.7"/><circle cx="344.10" cy="68.12" r="0.7"/><circle cx="344.10" cy="72.06" r="0.7"/><circle cx="344.10" cy="76.01" r="0.7"/><circle cx="344.10" cy="79.96" r="0.7"/><circle cx="344.10" cy="83.91" r="0.7"/><circle cx="344.10" cy="87.86" r="0.7"/><circle cx="344.10" cy="91.80" r="0.7"/><circle cx="344.10" cy="95.75" r="0.7"/><circle cx="344.10" cy="99.70" r="0.7"/><circle cx="344.10" cy="103.65" r="0.7"/><circle cx="344.10" cy="107.60" r="0.7"/><circle cx="344.10" cy="111.54" r="0.7"/><circle cx="344.10" cy="115.49" r="0.7"/><circle cx="344.10" cy="119.44" r="0.7"/><circle cx="344.10" cy="123.39" r="0.7"/><circle cx="344.10" cy="127.34" r="0.7"/><circle cx="344.10" cy="131.28" r="0.7"/><circle cx="344.10" cy="135.23" r="0.7"/><circle cx="344.10" cy="139.18" r="0.7"/><circle cx="344.10" cy="143.13" r="0.7"/><circle cx="344.10" cy="147.08" r="0.7"/><circle cx="344.10" cy="151.02" r="0.7"/><circle cx="344.10" cy="154.97" r="0.7"/><circle cx="344.10" cy="158.92" r="0.7"/><circle cx="344.10" cy="162.87" r="0.7"/><circle cx="344.10" cy="166.82" r="0.7"/><circle cx="344.10" cy="170.76" r="0.7"/><circle cx="344.10" cy="174.71" r="0.7"/><circle cx="344.10" cy="178.66" r="0.7"/></g></g><g stroke="#000" stroke-width="0.8" fill="none"><path d="M27.3,1.2 V194.4"/><path d="M27.3,1.2 H343.2"/></g><path d="M26.9,194.4 H343.2" stroke="#000" stroke-width="0.7"/><g stroke="#000" stroke-width="0.8"><path d="M27.40,194.4 v2.5"/><path d="M80.06,194.4 v2.5"/><path d="M132.72,194.4 v2.5"/><path d="M185.38,194.4 v2.5"/><path d="M238.04,194.4 v2.5"/><path d="M290.70,194.4 v2.5"/><path d="M343.36,194.4 v2.5"/><path d="M27.3,193.90 h-2.6"/><path d="M27.3,169.42 h-2.6"/><path d="M27.3,144.93 h-2.6"/><path d="M27.3,120.45 h-2.6"/><path d="M27.3,95.96 h-2.6"/><path d="M27.3,71.47 h-2.6"/><path d="M27.3,46.99 h-2.6"/><path d="M27.3,22.50 h-2.6"/></g><g font-family="Liberation Sans, sans-serif" fill="#111" stroke="#111" stroke-width="0.12"><text x="27.40" y="204.2" font-size="7.4" text-anchor="middle" textLength="4.6" lengthAdjust="spacingAndGlyphs">0</text><text x="80.06" y="204.2" font-size="7.4" text-anchor="middle" textLength="9.0" lengthAdjust="spacingAndGlyphs">10</text><text x="132.72" y="204.2" font-size="7.4" text-anchor="middle" textLength="9.0" lengthAdjust="spacingAndGlyphs">20</text><text x="185.38" y="204.2" font-size="7.4" text-anchor="middle" textLength="9.0" lengthAdjust="spacingAndGlyphs">30</text><text x="238.04" y="204.2" font-size="7.4" text-anchor="middle" textLength="9.0" lengthAdjust="spacingAndGlyphs">40</text><text x="290.70" y="204.2" font-size="7.4" text-anchor="middle" textLength="9.0" lengthAdjust="spacingAndGlyphs">50</text><text x="344.16" y="204.2" font-size="7.4" text-anchor="middle" textLength="9.0" lengthAdjust="spacingAndGlyphs">60</text><text x="22.7" y="196.50" font-size="7.4" text-anchor="end" textLength="4.6" lengthAdjust="spacingAndGlyphs">0</text><text x="22.7" y="172.02" font-size="7.4" text-anchor="end" textLength="4.6" lengthAdjust="spacingAndGlyphs">5</text><text x="22.7" y="147.53" font-size="7.4" text-anchor="end" textLength="9.0" lengthAdjust="spacingAndGlyphs">10</text><text x="22.7" y="123.05" font-size="7.4" text-anchor="end" textLength="9.0" lengthAdjust="spacingAndGlyphs">15</text><text x="22.7" y="98.56" font-size="7.4" text-anchor="end" textLength="9.0" lengthAdjust="spacingAndGlyphs">20</text><text x="22.7" y="74.07" font-size="7.4" text-anchor="end" textLength="9.0" lengthAdjust="spacingAndGlyphs">25</text><text x="22.7" y="49.59" font-size="7.4" text-anchor="end" textLength="9.0" lengthAdjust="spacingAndGlyphs">30</text><text x="22.7" y="25.10" font-size="7.4" text-anchor="end" textLength="9.0" lengthAdjust="spacingAndGlyphs">35</text></g><g font-family="Liberation Sans, sans-serif" fill="#000" stroke="#000" stroke-width="0.22"><text x="185.25" y="215.8" font-size="10.2" text-anchor="middle" textLength="126.1" lengthAdjust="spacingAndGlyphs">Excitation amplatude (mm)</text><text transform="translate(8.5,97.75) rotate(-90)" x="0" y="0" font-size="10.0" text-anchor="middle" textLength="118.3" lengthAdjust="spacingAndGlyphs">Excitation frequency (Hz)</text></g><rect x="31.9" y="5.7" width="69.5" height="33.7" rx="1.6" fill="#fff" fill-opacity="0.8" stroke="#ccc" stroke-width="0.8"/><rect x="41.1" y="10.4" width="2.2" height="2.2" fill="#fff" stroke="#0000ff" stroke-width="0.8"/><circle cx="42.2" cy="22.9" r="1.0" fill="#ff3030"/><circle cx="42.2" cy="33.9" r="0.55" fill="#000"/><g font-family="Liberation Sans, sans-serif" fill="#000" stroke="#000" stroke-width="0.15"><text x="56.7" y="14.3" font-size="7.6" text-anchor="start" textLength="40.3" lengthAdjust="spacingAndGlyphs">D=20 mm</text><text x="56.7" y="25.5" font-size="7.6" text-anchor="start" textLength="40.3" lengthAdjust="spacingAndGlyphs">D=30 mm</text><text x="56.7" y="36.7" font-size="7.6" text-anchor="start" textLength="26.5" lengthAdjust="spacingAndGlyphs">D=INF</text><text x="32.6" y="55.6" font-size="8.4" text-anchor="start" textLength="68.2" lengthAdjust="spacingAndGlyphs">Overlapped area</text></g><path d="M103.2,53.6 H114.5" stroke="#000" stroke-width="0.9"/><path d="M113.9,51.2 L119.4,53.6 L113.9,56.0 Z" fill="#000"/><text x="167.2" y="241.6" font-family="Liberation Serif, serif" font-size="14" text-anchor="middle" textLength="14.8" lengthAdjust="spacingAndGlyphs" stroke="#000" stroke-width="0.4">(a)</text><rect x="341.6" y="0" width="1.7" height="250" fill="#fff" fill-opacity="0.72"/><rect x="343.3" y="0" width="6" height="250" fill="#fff"/><g clip-path="url(#cb1)" fill="none" stroke-width="1.75" stroke-linejoin="round"><polyline points="48.40,319.80 48.80,319.33 49.20,318.85 49.60,318.25 50.00,317.24 50.40,316.22 50.80,315.21 51.20,314.20 51.60,313.89 52.00,313.58 52.40,313.28 52.80,313.11 53.20,313.00 53.60,312.89 54.00,312.77 54.40,312.66 54.80,312.54 55.20,312.43 55.60,312.51 56.00,312.67 56.40,312.82 56.80,312.97 57.20,313.13 57.60,313.28 58.00,313.43 58.40,313.59 58.80,313.83 59.20,314.37 59.60,314.91 60.00,315.45 60.40,315.99 60.80,316.53 61.20,317.07 61.60,317.80 62.00,318.60 62.40,319.40 62.80,320.20 63.20,320.44 63.60,320.13 64.00,319.82 64.40,319.51 64.80,319.20 65.20,319.43 65.60,319.93 66.00,320.07 66.40,319.73 66.80,318.97 67.20,317.99 67.60,317.20 68.00,316.75 68.40,316.77 68.80,317.24 69.20,318.00 69.60,318.79 70.00,319.35 70.40,319.49 70.80,319.15 71.20,318.46 71.60,317.64 72.00,316.98 72.40,316.70 72.80,316.90 73.20,317.50 73.60,318.31 74.00,319.04 74.40,319.46 74.80,319.41 75.20,318.92 75.60,318.15 76.00,317.36 76.40,316.82 76.80,316.72 77.20,317.08 77.60,317.79 78.00,318.61 78.40,319.25 78.80,319.50 79.20,319.28 79.60,318.65 80.00,317.84 80.40,317.12 80.80,316.73 81.20,316.80 81.60,317.32 82.00,318.10 82.40,318.88 82.80,319.40 83.20,319.47 83.60,319.08 84.00,318.36 84.40,317.55 84.80,316.92 85.20,316.70 85.60,316.95 86.00,317.59 86.40,318.41 86.80,319.12 87.20,319.48 87.60,319.38 88.00,318.84 88.40,318.05 88.80,317.28 89.20,316.79 89.60,316.74 90.00,317.16 90.40,317.89 90.80,318.30 91.20,318.36 91.60,316.62 92.00,316.08 92.40,315.54 92.80,315.00 93.20,314.52 93.60,314.21 94.00,313.91 94.40,313.60 94.80,313.29 95.20,312.98 95.60,312.67 96.00,312.36 96.40,312.05 96.80,311.91 97.20,311.94 97.60,311.96 98.00,311.98 98.40,312.06 98.80,312.29 99.20,312.53 99.60,312.76 100.00,313.00 100.40,313.28 100.80,313.55 101.20,313.83 101.60,314.11 102.00,314.38 102.40,314.66 102.80,315.20 103.20,316.00 103.60,316.80 104.00,317.60 104.40,318.27 104.80,318.53 105.20,318.79 105.60,319.05 106.00,319.31 106.40,319.57 106.80,319.83 107.20,320.06 107.60,320.27 108.00,320.48 108.40,320.69 108.80,320.29 109.20,319.28 109.60,318.27 110.00,317.26 110.40,316.19 110.80,314.97 111.20,313.75 111.60,312.52 112.00,311.30 112.40,310.90 112.80,310.50 113.20,310.10 113.60,309.70 114.00,309.30 114.40,308.90 114.80,308.68 115.20,308.63 115.60,308.58 116.00,308.54 116.40,308.49 116.80,308.45 117.20,308.40 117.60,308.72 118.00,309.05 118.40,309.37 118.80,309.69 119.20,310.02 119.60,310.34 120.00,311.01 120.40,312.02 120.80,313.03 121.20,314.04 121.60,314.94 122.00,315.48 122.40,316.02 122.80,316.57 123.20,317.11 123.60,317.66 124.00,318.20 124.40,319.12 124.80,320.05 125.20,320.97 125.60,321.89 126.00,322.82 126.40,323.74 126.80,324.73 127.20,325.79 127.60,326.85 128.00,327.92 128.40,328.98 128.80,330.04 129.20,331.10 129.60,331.76 130.00,332.42 130.40,333.08 130.80,333.75 131.20,334.41 131.60,335.07 132.00,335.46 132.40,335.58 132.80,335.71 133.20,335.83 133.60,335.95 134.00,336.08 134.40,336.20 134.80,335.93 135.20,335.66 135.60,335.38 136.00,335.11 136.40,334.84 136.80,334.57 137.20,334.11 137.60,333.58 138.00,333.06 138.40,332.54 138.80,332.02 139.20,331.49 139.60,330.90 140.00,330.10 140.40,329.30 140.80,328.50 141.20,327.70 141.60,326.90 142.00,326.10 142.40,325.61 142.80,325.23 143.20,324.84 143.60,324.46 144.00,324.07 144.40,323.69 144.80,323.19 145.20,322.37 145.60,321.55 146.00,320.72 146.40,319.90 146.80,318.49 147.20,317.08 147.60,315.66 148.00,314.25 148.40,312.68 148.80,311.06 149.20,309.44 149.60,307.81 150.00,306.40 150.40,305.20 150.80,304.00 151.20,302.80 151.60,301.83 152.00,301.57 152.40,301.31 152.80,301.05 153.20,300.79 153.60,300.53 154.00,300.27 154.40,299.58 154.80,298.76 155.20,297.94 155.60,297.11 156.00,296.51 156.40,296.13 156.80,295.76 157.20,295.38 157.60,295.00 158.00,294.45 158.40,293.90 158.80,293.35 159.20,292.80 159.60,292.21 160.00,291.62 160.40,291.03 160.80,290.43 161.20,289.84 161.60,289.10 162.00,287.90 162.40,286.70 162.80,285.50 163.20,284.30 163.60,283.10 164.00,281.84 164.40,280.51 164.80,279.18 165.20,277.85 165.60,276.53 166.00,275.20 166.40,274.60 166.80,274.64 167.20,275.32 167.60,276.00 168.00,276.68 168.40,277.36 168.80,277.67 169.20,277.61 169.60,277.56 170.00,277.50 170.40,277.93 170.80,278.37 171.20,278.80 171.60,279.24 172.00,279.67 172.40,279.95 172.80,279.77 173.20,279.58 173.60,279.40 174.00,279.22 174.40,279.03 174.80,278.85 175.20,278.96 175.60,279.17 176.00,279.38 176.40,279.59 176.80,279.40 177.20,278.81 177.60,278.22 178.00,277.63 178.40,277.04 178.80,276.45 179.20,276.47 179.60,276.70 180.00,276.93 180.40,277.16 180.80,277.39 181.20,277.37 181.60,277.12 182.00,276.86 182.40,276.61 182.80,276.35 183.20,276.10 183.60,276.53 184.00,276.97 184.40,277.40 184.80,277.84 185.20,278.27 185.60,278.60 186.00,278.60 186.40,278.60 186.80,278.60 187.20,278.60 187.60,278.60 188.00,278.70 188.40,278.91 188.80,279.12 189.20,279.33 189.60,279.54 190.00,279.75 190.40,279.55 190.80,279.22 191.20,278.89 191.60,278.56 192.00,278.23 192.40,277.90 192.80,277.83 193.20,277.76 193.60,277.69 194.00,277.62 194.40,277.55 194.80,277.42 195.20,277.09 195.60,276.76 196.00,276.43 196.40,276.10 196.80,275.77 197.20,276.10 197.60,277.11 198.00,278.12 198.40,279.13 198.80,280.14 199.20,281.15 199.60,281.54 200.00,281.73 200.40,281.93 200.80,282.12 201.20,282.31 201.60,282.50 202.00,282.71 202.40,282.92 202.80,283.13 203.20,283.33 203.60,283.54 204.00,283.65 204.40,283.44 204.80,283.23 205.20,283.02 205.60,282.81 206.00,282.60 206.40,282.07 206.80,281.20 207.20,280.33 207.60,279.46 208.00,278.59 208.40,277.72 208.80,277.31 209.20,277.05 209.60,276.80 210.00,276.55 210.40,276.29 210.80,275.96 211.20,275.38 211.60,274.81 212.00,274.23 212.40,274.08 212.80,275.19 213.20,276.31 213.60,277.43 214.00,278.54 214.40,279.50 214.80,280.30 215.20,281.10 215.60,281.90 216.00,282.70 216.40,283.50 216.80,284.08 217.20,284.58 217.60,285.09 218.00,285.59 218.40,286.10 218.80,286.60 219.20,286.76 219.60,286.91 220.00,287.07 220.40,287.23 220.80,287.38 221.20,287.43 221.60,287.15 222.00,286.87 222.40,286.60 222.80,286.32 223.20,286.04 223.60,285.49 224.00,284.67 224.40,283.85 224.80,283.04 225.20,282.22 225.60,281.40 226.00,280.60 226.40,279.80 226.80,279.00 227.20,278.20 227.60,277.40 228.00,276.53 228.40,275.45 228.80,274.36 229.20,273.28 229.60,272.20 230.00,271.40 230.40,270.60 230.80,269.80 231.20,269.00 231.60,268.20 232.00,267.40 232.40,266.60 232.80,265.80 233.20,265.00 233.60,264.20 234.00,263.40 234.40,262.80 234.80,262.40 235.20,262.00 235.60,261.60 236.00,261.20 236.40,260.80 236.80,260.70 237.20,260.70 237.60,260.70 238.00,260.70 238.40,260.70 238.80,260.70 239.20,261.12 239.60,261.54 240.00,261.95 240.40,262.37 240.80,262.79 241.20,263.40 241.60,264.20 242.00,265.00 242.40,265.80 242.80,266.60 243.20,267.40 243.60,268.04 244.00,268.63 244.40,269.23 244.80,269.82 245.20,270.41 245.60,271.00 246.00,271.33 246.40,271.66 246.80,271.99 247.20,272.32 247.60,272.65 248.00,273.02 248.40,273.49 248.80,273.96 249.20,274.43 249.60,274.90 250.00,275.37 250.40,276.30 250.80,277.71 251.20,279.12 251.60,280.53 252.00,281.94 252.40,283.35 252.80,284.89 253.20,286.47 253.60,288.05 254.00,289.63 254.40,291.22 254.80,292.80 255.20,293.41 255.60,294.02 256.00,294.63 256.40,295.23 256.80,295.84 257.20,296.45 257.60,297.04 258.00,297.63 258.40,298.22 258.80,298.81 259.20,299.40 259.60,299.90 260.00,300.30 260.40,300.70 260.80,301.10 261.20,301.50 261.60,301.90 262.00,302.60 262.40,303.40 262.80,304.20 263.20,305.00 263.60,305.80 264.00,306.60 264.40,307.59 264.80,308.58 265.20,309.57 265.60,310.57 266.00,311.56 266.40,312.55 266.80,313.54 267.20,314.53 267.60,315.52 268.00,316.51 268.40,317.50 268.80,318.63 269.20,319.88 269.60,321.14 270.00,322.39 270.40,323.65 270.80,324.90 271.20,325.70 271.60,326.50 272.00,327.30 272.40,328.10 272.80,328.90 273.20,329.65 273.60,330.26 274.00,330.87 274.40,331.48 274.80,332.09 275.20,332.70 275.60,333.10 276.00,333.29 276.40,333.48 276.80,333.67 277.20,333.86 277.60,334.05 278.00,333.80 278.40,333.40 278.80,333.00 279.20,332.60 279.60,332.20 280.00,331.80 280.40,331.21 280.80,330.62 281.20,330.03 281.60,329.43 282.00,328.84 282.40,328.22 282.80,327.51 283.20,326.80 283.60,326.08 284.00,325.37 284.40,324.66 284.80,324.31 285.20,324.33 285.60,324.61 286.00,325.49 286.40,325.78 286.80,325.35 287.20,324.43 287.60,323.50 288.00,323.07 288.40,323.37 288.80,324.25 289.20,325.26 289.60,325.89 290.00,325.82 290.40,325.09 290.80,324.10 291.20,323.37 291.60,323.29 292.00,323.92 292.40,324.94 292.80,325.82 293.20,326.11 293.60,325.68 294.00,324.76 294.40,323.83 294.80,323.40 295.20,323.70 295.60,324.58 296.00,325.59 296.40,326.22 296.80,326.15 297.20,325.42 297.60,324.42 298.00,323.70 298.40,323.62 298.80,324.25 299.20,325.27 299.60,326.14 300.00,326.44 300.40,326.01 300.80,325.09 301.20,324.16 301.60,323.73 302.00,324.03 302.40,324.91 302.80,325.92 303.20,326.55 303.60,326.48 304.00,325.75 304.40,324.75 304.80,324.03 305.20,323.95 305.60,324.58 306.00,325.60 306.40,326.47 306.80,326.77 307.20,326.34 307.60,325.42 308.00,324.49 308.40,324.06 308.80,324.36 309.20,325.24 309.60,326.25 310.00,326.88 310.40,326.80 310.80,326.08 311.20,325.08 311.60,324.36 312.00,324.28 312.40,324.91 312.80,325.93 313.20,326.80 313.60,327.10 314.00,326.67 314.40,325.75 314.80,324.82 315.20,324.39 315.60,324.69 316.00,325.57 316.40,326.58 316.80,327.21 317.20,327.13 317.60,326.41 318.00,325.41 318.40,324.69 318.80,324.61 319.20,325.24 319.60,326.26 320.00,327.13 320.40,327.43 320.80,327.00 321.20,326.08 321.60,325.15" stroke="#0000ff"/><polyline points="48.40,322.70 48.80,321.77 49.20,320.85 49.60,319.93 50.00,319.00 50.40,318.26 50.80,317.53 51.20,316.79 51.60,316.05 52.00,315.42 52.40,315.12 52.80,314.81 53.20,314.51 53.60,314.20 54.00,313.89 54.40,313.59 54.80,313.28 55.20,312.98 55.60,313.01 56.00,313.15 56.40,313.35 56.80,313.60 57.20,313.77 57.60,313.74 58.00,313.59 58.40,313.48 58.80,313.72 59.20,314.53 59.60,315.52 60.00,316.39 60.40,316.82 60.80,316.73 61.20,316.37 61.60,316.18 62.00,316.59 62.40,317.72 62.80,319.10 63.20,320.21 63.60,320.67 64.00,320.45 64.40,319.90 64.80,319.55 65.20,319.82 65.60,320.80 66.00,322.25 66.40,323.57 66.80,324.30 67.20,324.33 67.60,323.91 68.00,323.55 68.40,323.74 68.80,324.65 69.20,325.92 69.60,327.06 70.00,327.70 70.40,327.62 70.80,327.00 71.20,326.32 71.60,326.07 72.00,326.54 72.40,327.43 72.80,328.45 73.20,329.08 73.60,329.02 74.00,328.33 74.40,327.37 74.80,326.68 75.20,326.67 75.60,327.31 76.00,328.22 76.40,328.86 76.80,328.85 77.20,328.15 77.60,327.13 78.00,326.17 78.40,325.84 78.80,326.20 79.20,326.95 79.60,327.56 80.00,327.59 80.40,326.90 80.80,325.78 81.20,324.68 81.60,324.10 82.00,324.23 82.40,324.86 82.80,325.49 83.20,325.62 83.60,325.03 84.00,323.90 84.40,322.71 84.80,321.96 85.20,321.91 85.60,322.46 86.00,323.14 86.40,323.47 86.80,323.15 87.20,322.20 87.60,321.05 88.00,320.23 88.40,320.09 88.80,320.61 89.20,321.39 89.60,321.90 90.00,321.76 90.40,320.94 90.80,319.87 91.20,319.03 91.60,318.81 92.00,319.28 92.40,320.15 92.80,320.88 93.20,321.02 93.60,320.45 94.00,319.44 94.40,318.50 94.80,318.10 95.20,318.55 95.60,319.49 96.00,320.44 96.40,320.88 96.80,320.61 97.20,319.80 97.60,318.92 98.00,318.48 98.40,318.76 98.80,319.62 99.20,320.61 99.60,321.22 100.00,321.13 100.40,320.51 100.80,319.69 101.20,319.20 101.60,319.39 102.00,320.24 102.40,321.35 102.80,322.19 103.20,322.38 103.60,321.89 104.00,321.07 104.40,320.46 104.80,320.46 105.20,321.12 105.60,322.12 106.00,322.98 106.40,323.25 106.80,322.82 107.20,321.94 107.60,321.13 108.00,320.86 108.40,321.31 108.80,322.26 109.20,323.20 109.60,323.65 110.00,323.38 110.40,322.52 110.80,321.60 111.20,321.12 111.60,321.34 112.00,322.16 112.40,323.11 112.80,323.67 113.20,323.53 113.60,322.77 114.00,321.81 114.40,321.18 114.80,321.23 115.20,321.93 115.60,322.89 116.00,323.59 116.40,323.64 116.80,323.01 117.20,322.05 117.60,321.29 118.00,321.15 118.40,321.71 118.80,322.66 119.20,323.48 119.60,323.70 120.00,323.22 120.40,322.30 120.80,321.44 121.20,321.12 121.60,321.52 122.00,322.42 122.40,323.32 122.80,323.72 123.20,323.41 123.60,322.55 124.00,321.62 124.40,321.14 124.80,321.37 125.20,322.18 125.60,323.13 126.00,323.69 126.40,323.56 126.80,322.80 127.20,321.84 127.60,321.20 128.00,321.25 128.40,321.95 128.80,322.92 129.20,323.62 129.60,323.67 130.00,323.03 130.40,322.07 130.80,321.31 131.20,321.18 131.60,321.74 132.00,322.69 132.40,323.50 132.80,323.73 133.20,323.25 133.60,322.32 134.00,321.46 134.40,321.15 134.80,321.55 135.20,322.45 135.60,323.35 136.00,323.75 136.40,323.43 136.80,322.57 137.20,321.65 137.60,321.17 138.00,321.39 138.40,322.21 138.80,323.16 139.20,323.72 139.60,323.58 140.00,322.82 140.40,321.86 140.80,321.23 141.20,321.28 141.60,321.98 142.00,322.94 142.40,323.64 142.80,323.69 143.20,323.06 143.60,322.10 144.00,321.34 144.40,321.20 144.80,321.76 145.20,322.71 145.60,323.53 146.00,323.75 146.40,323.27 146.80,322.35 147.20,321.49 147.60,321.17 148.00,321.57 148.40,322.47 148.80,323.37 149.20,323.77 149.60,323.46 150.00,322.60 150.40,321.67 150.80,321.19 151.20,321.42 151.60,322.23 152.00,323.18 152.40,323.74 152.80,323.61 153.20,322.85 153.60,321.89 154.00,321.25 154.40,321.30 154.80,322.00 155.20,322.97 155.60,323.67 156.00,323.72 156.40,323.08 156.80,322.12 157.20,321.36 157.60,321.23 158.00,321.79 158.40,322.74 158.80,323.55 159.20,323.78 159.60,323.30 160.00,322.37 160.40,321.51 160.80,321.20 161.20,321.60 161.60,322.50 162.00,323.40 162.40,323.80 162.80,323.48 163.20,322.62 163.60,321.70 164.00,321.22 164.40,321.44 164.80,322.26 165.20,323.21 165.60,323.77 166.00,323.63 166.40,322.87 166.80,321.91 167.20,321.28 167.60,321.33 168.00,322.03 168.40,322.99 168.80,323.69 169.20,323.74 169.60,323.11 170.00,322.15 170.40,321.39 170.80,321.25 171.20,321.81 171.60,322.76 172.00,323.58 172.40,323.80 172.80,323.32 173.20,322.40 173.60,321.54 174.00,321.22 174.40,321.62 174.80,322.52 175.20,323.42 175.60,323.82 176.00,323.51 176.40,322.65 176.80,321.72 177.20,321.24 177.60,321.47 178.00,322.28 178.40,323.23 178.80,323.79 179.20,323.66 179.60,322.90 180.00,321.94 180.40,321.30 180.80,321.35 181.20,322.05 181.60,323.02 182.00,323.72 182.40,323.77 182.80,323.13 183.20,322.17 183.60,321.41 184.00,321.28 184.40,321.84 184.80,322.79 185.20,323.60 185.60,323.83 186.00,323.35 186.40,322.42 186.80,321.56 187.20,321.25 187.60,321.65 188.00,322.55 188.40,323.45 188.80,323.85 189.20,323.53 189.60,322.67 190.00,321.75 190.40,321.27 190.80,321.49 191.20,322.31 191.60,323.26 192.00,323.82 192.40,323.68 192.80,322.92 193.20,321.96 193.60,321.33 194.00,321.38 194.40,322.08 194.80,323.04 195.20,323.74 195.60,323.79 196.00,323.16 196.40,322.20 196.80,321.44 197.20,321.30 197.60,321.86 198.00,322.81 198.40,323.63 198.80,323.85 199.20,323.37 199.60,322.45 200.00,321.59 200.40,321.27 200.80,321.67 201.20,322.57 201.60,323.47 202.00,323.87 202.40,323.56 202.80,322.70 203.20,321.77 203.60,321.29 204.00,321.52 204.40,322.33 204.80,323.28 205.20,323.84 205.60,323.71 206.00,322.95 206.40,321.99 206.80,321.35 207.20,321.40 207.60,322.10 208.00,323.07 208.40,323.77 208.80,323.82 209.20,323.18 209.60,322.22 210.00,321.46 210.40,321.33 210.80,321.89 211.20,322.84 211.60,323.65 212.00,323.88 212.40,323.40 212.80,322.47 213.20,321.61 213.60,321.30 214.00,321.70 214.40,322.60 214.80,323.50 215.20,323.90 215.60,323.58 216.00,322.72 216.40,321.80 216.80,321.32 217.20,321.54 217.60,322.36 218.00,323.31 218.40,323.87 218.80,323.73 219.20,322.97 219.60,322.01 220.00,321.38 220.40,321.43 220.80,322.13 221.20,323.09 221.60,323.79 222.00,323.84 222.40,323.21 222.80,322.25 223.20,321.49 223.60,321.35 224.00,321.91 224.40,322.86 224.80,323.68 225.20,323.90 225.60,323.42 226.00,322.50 226.40,321.64 226.80,321.32 227.20,321.72 227.60,322.62 228.00,323.52 228.40,323.92 228.80,323.61 229.20,322.75 229.60,321.82 230.00,321.34 230.40,321.57 230.80,322.38 231.20,323.33 231.60,323.89 232.00,323.76 232.40,323.00 232.80,322.04 233.20,321.40 233.60,321.45 234.00,322.15 234.40,323.12 234.80,323.82 235.20,323.87 235.60,323.23 236.00,322.27 236.40,321.51 236.80,321.38 237.20,321.94 237.60,322.89 238.00,323.70 238.40,323.93 238.80,323.45 239.20,322.52 239.60,321.66 240.00,321.35 240.40,321.75 240.80,322.65 241.20,323.55 241.60,323.95 242.00,323.63 242.40,322.77 242.80,321.85 243.20,321.36 243.60,321.59 244.00,322.41 244.40,323.36 244.80,323.92 245.20,323.78 245.60,323.02 246.00,322.06 246.40,321.43 246.80,321.48 247.20,322.18 247.60,323.14 248.00,323.84 248.40,323.89 248.80,323.26 249.20,322.30 249.60,321.54 250.00,321.40 250.40,321.96 250.80,322.91 251.20,323.73 251.60,323.95 252.00,323.47 252.40,322.55 252.80,321.69 253.20,321.37 253.60,321.77 254.00,322.67 254.40,323.57 254.80,323.97 255.20,323.66 255.60,322.80 256.00,321.87 256.40,321.39 256.80,321.62 257.20,322.43 257.60,323.38 258.00,323.94 258.40,323.81 258.80,323.05 259.20,322.09 259.60,321.45 260.00,321.50 260.40,322.20 260.80,323.17 261.20,323.87 261.60,323.91 262.00,323.28 262.40,322.32 262.80,321.56 263.20,321.43 263.60,321.99 264.00,322.94 264.40,323.75 264.80,323.98 265.20,323.50 265.60,322.57 266.00,321.71 266.40,321.40 266.80,321.80 267.20,322.70 267.60,323.59 268.00,324.00 268.40,323.68 268.80,322.82 269.20,321.90 269.60,321.41 270.00,321.64 270.40,322.46 270.80,323.41 271.20,323.97 271.60,323.83 272.00,323.07 272.40,322.11 272.80,321.48 273.20,321.53 273.60,322.23 274.00,323.19 274.40,323.89 274.80,323.94 275.20,323.31 275.60,322.35 276.00,321.59 276.40,321.45 276.80,322.01 277.20,322.96 277.60,323.78 278.00,324.00 278.40,323.52 278.80,322.60 279.20,321.74 279.60,321.42 280.00,321.82 280.40,322.72 280.80,323.62 281.20,324.02 281.60,323.71 282.00,322.85 282.40,321.92 282.80,321.44 283.20,321.67 283.60,322.48 284.00,323.43 284.40,323.99 284.80,323.86 285.20,323.10 285.60,322.14 286.00,321.50 286.40,321.55 286.80,322.25 287.20,323.22 287.60,323.92 288.00,323.96 288.40,323.33 288.80,322.37 289.20,321.61 289.60,321.48 290.00,322.04 290.40,322.99 290.80,323.80 291.20,324.03 291.60,323.55 292.00,322.62 292.40,321.76 292.80,321.45 293.20,321.85 293.60,322.75 294.00,323.64 294.40,324.05 294.80,323.73 295.20,322.87 295.60,321.95 296.00,321.46 296.40,321.69 296.80,322.51 297.20,323.46 297.60,324.02 298.00,323.88 298.40,323.12 298.80,322.16 299.20,321.53 299.60,321.58 300.00,322.28 300.40,323.24 300.80,323.94 301.20,323.99 301.60,323.36 302.00,322.40 302.40,321.64 302.80,321.50 303.20,322.06 303.60,323.01 304.00,323.83 304.40,324.05 304.80,323.57 305.20,322.65 305.60,321.79 306.00,321.47 306.40,321.87 306.80,322.77 307.20,323.67 307.60,324.07 308.00,323.76 308.40,322.90 308.80,321.97 309.20,321.49 309.60,321.72 310.00,322.53 310.40,323.48 310.80,324.04 311.20,323.91 311.60,323.15 312.00,322.19 312.40,321.55 312.80,321.60 313.20,322.30 313.60,323.27 314.00,323.97 314.40,324.01 314.80,323.38 315.20,322.42 315.60,321.66 316.00,321.53 316.40,322.09 316.80,323.04 317.20,323.85 317.60,324.08 318.00,323.60 318.40,322.67 318.80,321.81 319.20,321.50 319.60,321.90 320.00,322.80 320.40,323.69 320.80,324.10 321.20,323.78 321.60,322.92" stroke="#ff0000"/></g><rect x="35.6" y="256.6" width="300.2" height="83.7" fill="none" stroke="#000" stroke-width="0.8"/><g stroke="#000" stroke-width="0.8"><path d="M48.50,340.3 v2.6"/><path d="M48.50,439.4 v2.6"/><path d="M87.50,340.3 v2.6"/><path d="M87.50,439.4 v2.6"/><path d="M126.50,340.3 v2.6"/><path d="M126.50,439.4 v2.6"/><path d="M165.50,340.3 v2.6"/><path d="M165.50,439.4 v2.6"/><path d="M204.50,340.3 v2.6"/><path d="M204.50,439.4 v2.6"/><path d="M243.50,340.3 v2.6"/><path d="M243.50,439.4 v2.6"/><path d="M282.50,340.3 v2.6"/><path d="M282.50,439.4 v2.6"/><path d="M321.50,340.3 v2.6"/><path d="M321.50,439.4 v2.6"/><path d="M35.6,323.30 h-2.6"/><path d="M35.6,303.73 h-2.6"/><path d="M35.6,284.15 h-2.6"/><path d="M35.6,264.57 h-2.6"/><path d="M35.6,436.00 h-2.6"/><path d="M35.6,405.80 h-2.6"/><path d="M35.6,375.60 h-2.6"/></g><rect x="38.6" y="260.3" width="90.7" height="44.2" rx="1.6" fill="#fff" fill-opacity="0.8" stroke="#ccc" stroke-width="0.8"/><path d="M41.4,272.5 H58.6" stroke="#0000ff" stroke-width="2"/><path d="M41.4,293.0 H58.6" stroke="#ff0000" stroke-width="2"/><g font-family="Liberation Sans, sans-serif" fill="#000" stroke="#000" stroke-width="0.15"><text x="63.9" y="269.4" font-size="7.6" text-anchor="start" textLength="57.8" lengthAdjust="spacingAndGlyphs">Flywheel mode</text><text x="63.9" y="279.1" font-size="7.6" text-anchor="start" textLength="44.0" lengthAdjust="spacingAndGlyphs">(D=20 mm)</text><text x="63.9" y="289.9" font-size="7.6" text-anchor="start" textLength="62.2" lengthAdjust="spacingAndGlyphs">Pendulum mode</text><text x="63.9" y="299.3" font-size="7.6" text-anchor="start" textLength="30.0" lengthAdjust="spacingAndGlyphs">(D=INF)</text></g><g clip-path="url(#cb2)" fill="none" stroke-width="1.5" stroke-linejoin="round"><polyline points="48.50,436.00 55.70,431.81 57.00,429.30 58.30,430.28 59.90,431.15 61.30,409.00 62.70,429.98 66.90,429.87 68.20,421.10 69.50,432.67 72.90,432.93 74.20,421.90 75.50,428.81 78.90,431.70 80.20,417.60 81.50,431.83 85.80,428.02 87.10,423.70 88.40,430.65 89.20,428.82 90.50,418.50 91.80,430.62 91.70,429.80 93.10,398.70 94.50,432.25 102.10,429.83 103.40,414.30 104.70,428.66 108.50,430.38 110.00,378.60 111.50,405.00 112.30,430.00 119.30,429.29 120.60,418.70 121.90,429.64 123.20,432.68 124.60,396.70 126.00,429.21 127.30,430.04 128.70,403.00 130.10,431.49 138.10,432.84 139.50,407.30 140.90,428.67 142.30,430.64 143.60,420.20 144.90,429.41 146.40,428.61 147.90,368.60 150.10,393.00 150.90,430.00 153.10,429.43 154.40,411.00 155.70,428.39 157.40,431.03 158.70,410.10 160.00,429.00 163.80,430.78 165.30,375.80 167.00,408.00 167.80,430.00 176.60,428.32 177.90,418.70 179.20,428.61 182.70,432.51 184.00,415.90 185.30,432.32 193.30,431.92 194.60,415.90 195.90,428.17 196.00,430.82 197.40,398.50 198.80,429.87 206.60,431.49 207.90,413.70 209.20,430.46 210.30,431.07 211.60,416.60 212.90,431.25 212.40,430.07 213.90,375.60 215.50,410.00 216.30,430.00 223.20,430.08 224.50,418.60 225.80,428.48 227.40,429.59 228.80,396.50 230.20,428.36 231.40,428.72 232.80,402.30 234.20,428.05 242.30,429.64 243.70,406.60 245.10,432.18 246.10,428.70 247.40,420.90 248.70,428.18 250.20,428.48 251.80,360.20 253.00,388.50 253.80,430.00 256.80,430.15 258.20,406.60 259.60,429.43 261.20,431.94 262.50,405.60 263.80,428.84 264.60,430.13 265.80,420.90 267.00,431.58 267.10,432.68 268.60,372.30 269.80,398.30 270.60,430.00 272.00,428.73 273.30,416.50 274.60,428.05 282.40,432.56 283.80,401.80 285.20,429.00 284.90,430.95 286.10,421.20 287.30,432.25 288.90,431.53 290.10,422.20 291.30,429.16 295.50,428.64 296.70,421.20 297.90,432.78 309.90,429.93 311.10,422.20 312.30,432.78 316.50,429.41 317.70,423.20 318.90,431.35 321.70,431.00" stroke="#0000ff"/><polyline points="48.50,435.47 48.95,436.00 49.40,435.70 49.85,436.00 50.30,435.81 50.75,436.00 51.20,435.64 51.65,436.00 52.10,435.88 52.55,436.00 53.00,435.63 53.45,436.00 53.90,435.97 54.35,434.31 54.80,435.81 55.25,434.12 55.70,435.46 56.15,434.18 56.60,435.72 57.05,433.97 57.50,435.61 57.95,433.79 58.40,435.66 58.85,433.62 59.30,435.44 59.75,433.52 60.20,435.74 60.65,433.25 61.10,435.86 61.55,433.34 62.00,435.41 62.45,433.08 62.90,435.67 63.35,433.29 63.80,435.75 64.25,432.82 64.70,435.99 65.15,432.68 65.60,435.62 66.05,432.96 66.50,435.62 66.95,432.56 67.40,435.59 67.85,432.54 68.30,435.58 68.75,432.13 69.20,435.99 69.65,432.55 70.10,435.59 70.55,431.71 71.00,435.85 71.45,432.02 71.90,435.64 72.35,432.02 72.80,435.78 73.25,431.92 73.70,435.78 74.15,431.56 74.60,435.82 75.05,431.65 75.50,435.54 75.95,431.88 76.40,435.66 76.85,431.08 77.30,435.81 77.75,431.48 78.20,435.52 78.65,431.36 79.10,435.89 79.55,431.04 80.00,435.58 80.45,431.29 80.90,435.81 81.35,430.94 81.80,435.50 82.25,430.71 82.70,435.49 83.15,430.91 83.60,435.80 84.05,430.24 84.50,435.47 84.95,430.36 85.40,435.86 85.85,430.51 86.30,435.68 86.75,430.15 87.20,435.52 87.65,428.99 88.10,435.89 88.55,429.49 89.00,435.52 89.45,428.68 89.90,435.52 90.35,428.85 90.80,435.92 91.25,428.66 91.70,435.52 92.15,428.42 92.60,435.79 93.05,427.90 93.50,435.75 93.95,427.63 94.40,435.45 94.85,427.82 95.30,436.00 95.75,426.05 96.20,435.47 96.65,425.65 97.10,435.74 97.55,425.41 98.00,435.44 98.45,426.62 98.90,435.55 99.35,425.03 99.80,435.60 100.25,425.51 100.70,435.83 101.15,425.90 101.60,435.86 102.05,426.50 102.50,435.65 102.95,426.02 103.40,435.51 103.85,426.55 104.30,435.46 104.75,425.12 105.20,435.45 105.65,424.68 106.10,435.46 106.55,425.38 107.00,435.99 107.45,425.01 107.90,435.90 108.35,425.99 108.80,435.60 109.25,425.50 109.70,435.75 110.15,424.58 110.60,435.63 111.05,425.90 111.50,435.85 111.95,424.75 112.40,435.71 112.85,424.93 113.30,435.79 113.75,426.22 114.20,435.68 114.65,424.85 115.10,435.90 115.55,424.91 116.00,435.45 116.45,424.88 116.90,435.51 117.35,426.63 117.80,435.62 118.25,424.75 118.70,435.97 119.15,426.05 119.60,435.84 120.05,425.49 120.50,435.75 120.95,425.61 121.40,435.53 121.85,426.65 122.30,435.97 122.75,426.37 123.20,435.93 123.65,426.50 124.10,435.42 124.55,424.77 125.00,435.95 125.45,425.55 125.90,435.81 126.35,425.96 126.80,435.79 127.25,425.23 127.70,435.65 128.15,425.86 128.60,435.89 129.05,425.93 129.50,435.93 129.95,425.43 130.40,435.57 130.85,425.81 131.30,435.95 131.75,426.26 132.20,435.78 132.65,425.32 133.10,435.53 133.55,425.81 134.00,435.52 134.45,425.28 134.90,435.74 135.35,425.83 135.80,435.70 136.25,425.10 136.70,435.75 137.15,425.12 137.60,435.72 138.05,426.11 138.50,435.68 138.95,425.12 139.40,435.96 139.85,425.72 140.30,435.74 140.75,424.71 141.20,435.44 141.65,425.83 142.10,435.46 142.55,424.91 143.00,435.84 143.45,425.63 143.90,435.93 144.35,424.86 144.80,435.60 145.25,424.70 145.70,435.52 146.15,425.18 146.60,435.56 147.05,425.41 147.50,435.94 147.95,425.36 148.40,436.00 148.85,426.33 149.30,435.54 149.75,426.55 150.20,435.94 150.65,426.43 151.10,435.47 151.55,426.26 152.00,435.99 152.45,424.80 152.90,435.93 153.35,424.79 153.80,435.60 154.25,424.81 154.70,435.43 155.15,425.38 155.60,435.52 156.05,426.57 156.50,435.54 156.95,425.53 157.40,435.57 157.85,426.42 158.30,435.55 158.75,424.59 159.20,435.96 159.65,425.94 160.10,435.66 160.55,424.83 161.00,435.85 161.45,426.25 161.90,435.85 162.35,425.29 162.80,435.55 163.25,425.78 163.70,435.78 164.15,425.78 164.60,435.79 165.05,425.73 165.50,435.95 165.95,425.55 166.40,435.42 166.85,425.74 167.30,435.55 167.75,426.30 168.20,435.59 168.65,424.99 169.10,435.60 169.55,425.51 170.00,435.71 170.45,425.24 170.90,435.46 171.35,426.32 171.80,435.94 172.25,425.00 172.70,435.45 173.15,425.51 173.60,435.73 174.05,425.07 174.50,435.89 174.95,426.06 175.40,435.88 175.85,425.36 176.30,435.81 176.75,426.14 177.20,435.59 177.65,424.55 178.10,435.82 178.55,425.10 179.00,435.75 179.45,424.77 179.90,435.65 180.35,426.06 180.80,435.87 181.25,426.60 181.70,435.71 182.15,425.81 182.60,435.90 183.05,425.86 183.50,435.81 183.95,424.95 184.40,435.91 184.85,424.47 185.30,435.71 185.75,425.33 186.20,435.72 186.65,424.81 187.10,435.51 187.55,425.42 188.00,435.71 188.45,425.06 188.90,435.49 189.35,425.77 189.80,435.56 190.25,424.54 190.70,435.72 191.15,426.14 191.60,435.86 192.05,425.07 192.50,435.59 192.95,424.54 193.40,435.49 193.85,426.12 194.30,435.89 194.75,426.08 195.20,435.89 195.65,425.10 196.10,435.48 196.55,424.67 197.00,435.85 197.45,424.75 197.90,435.81 198.35,425.72 198.80,435.56 199.25,426.46 199.70,435.94 200.15,424.82 200.60,435.82 201.05,425.87 201.50,435.65 201.95,425.16 202.40,436.00 202.85,425.91 203.30,435.74 203.75,425.58 204.20,435.87 204.65,425.36 205.10,435.43 205.55,425.79 206.00,435.67 206.45,426.39 206.90,435.84 207.35,425.19 207.80,435.93 208.25,424.70 208.70,435.45 209.15,426.44 209.60,435.44 210.05,425.83 210.50,435.54 210.95,424.98 211.40,435.82 211.85,425.16 212.30,435.61 212.75,424.88 213.20,435.84 213.65,424.99 214.10,435.42 214.55,425.17 215.00,435.68 215.45,426.40 215.90,435.70 216.35,425.88 216.80,435.57 217.25,425.16 217.70,435.66 218.15,426.25 218.60,435.61 219.05,425.26 219.50,435.89 219.95,424.69 220.40,435.61 220.85,426.38 221.30,435.44 221.75,426.34 222.20,435.80 222.65,425.06 223.10,435.64 223.55,425.43 224.00,435.61 224.45,425.64 224.90,435.81 225.35,426.26 225.80,435.96 226.25,425.08 226.70,435.55 227.15,425.46 227.60,435.56 228.05,425.86 228.50,435.84 228.95,425.81 229.40,435.48 229.85,426.56 230.30,435.70 230.75,426.11 231.20,435.54 231.65,425.87 232.10,435.80 232.55,425.76 233.00,435.68 233.45,424.95 233.90,435.79 234.35,424.79 234.80,435.93 235.25,426.05 235.70,435.94 236.15,426.40 236.60,435.53 237.05,425.05 237.50,435.89 237.95,426.23 238.40,435.75 238.85,425.01 239.30,435.51 239.75,425.00 240.20,435.64 240.65,426.33 241.10,435.76 241.55,426.22 242.00,435.68 242.45,425.40 242.90,435.88 243.35,426.10 243.80,435.53 244.25,426.58 244.70,435.52 245.15,424.69 245.60,435.43 246.05,425.81 246.50,435.67 246.95,425.37 247.40,435.62 247.85,424.50 248.30,435.59 248.75,425.99 249.20,435.48 249.65,425.59 250.10,435.64 250.55,425.05 251.00,436.00 251.45,424.95 251.90,435.60 252.35,425.57 252.80,435.69 253.25,425.64 253.70,435.88 254.15,425.48 254.60,435.98 255.05,425.55 255.50,435.61 255.95,425.67 256.40,435.66 256.85,424.54 257.30,435.46 257.75,426.35 258.20,435.52 258.65,425.28 259.10,435.97 259.55,425.86 260.00,435.86 260.45,426.48 260.90,435.68 261.35,424.60 261.80,435.81 262.25,424.73 262.70,435.58 263.15,426.35 263.60,435.49 264.05,425.33 264.50,435.44 264.95,425.07 265.40,435.56 265.85,425.89 266.30,435.52 266.75,424.60 267.20,435.48 267.65,425.69 268.10,435.55 268.55,425.58 269.00,435.93 269.45,426.56 269.90,435.95 270.35,426.21 270.80,435.90 271.25,425.56 271.70,435.58 272.15,425.47 272.60,435.75 273.05,425.22 273.50,435.82 273.95,425.63 274.40,435.55 274.85,425.77 275.30,435.89 275.75,424.67 276.20,435.57 276.65,425.84 277.10,435.78 277.55,425.49 278.00,435.64 278.45,426.16 278.90,436.00 279.35,426.19 279.80,435.53 280.25,426.33 280.70,435.72 281.15,426.22 281.60,435.87 282.05,426.27 282.50,435.76 282.95,426.28 283.40,435.98 283.85,426.41 284.30,435.90 284.75,425.57 285.20,435.96 285.65,426.60 286.10,435.73 286.55,425.75 287.00,435.58 287.45,426.54 287.90,435.76 288.35,425.78 288.80,435.98 289.25,424.53 289.70,435.87 290.15,426.44 290.60,435.72 291.05,426.29 291.50,435.63 291.95,425.89 292.40,435.93 292.85,426.54 293.30,435.56 293.75,426.04 294.20,435.53 294.65,425.63 295.10,435.44 295.55,425.99 296.00,435.85 296.45,426.07 296.90,435.51 297.35,425.27 297.80,435.79 298.25,426.44 298.70,435.59 299.15,424.52 299.60,435.64 300.05,426.64 300.50,435.98 300.95,426.45 301.40,435.90 301.85,426.57 302.30,435.97 302.75,425.21 303.20,435.46 303.65,426.21 304.10,435.42 304.55,425.60 305.00,435.52 305.45,424.63 305.90,435.44 306.35,426.57 306.80,435.82 307.25,425.31 307.70,435.43 308.15,426.46 308.60,435.82 309.05,424.78 309.50,435.93 309.95,425.79 310.40,435.80 310.85,425.15 311.30,435.44 311.75,426.27 312.20,435.56 312.65,425.04 313.10,435.50 313.55,425.43 314.00,435.45 314.45,425.85 314.90,435.75 315.35,426.15 315.80,435.53 316.25,425.59 316.70,435.84 317.15,426.28 317.60,435.57 318.05,425.32 318.50,435.57 318.95,425.80 319.40,435.71 319.85,426.31 320.30,435.57 320.75,426.60 321.20,435.72 321.65,424.98" stroke="#ff0000"/><polyline points="48.90,435.50 51.00,401.30 53.10,435.50" stroke="#ff0000"/><polyline points="53.70,435.50 55.30,429.70 56.90,435.50" stroke="#ff0000"/><polyline points="59.60,435.50 61.30,418.50 63.00,435.50" stroke="#ff0000"/><polyline points="63.80,435.50 65.60,408.20 67.40,435.50" stroke="#ff0000"/><polyline points="68.20,435.50 69.90,415.90 71.60,435.50" stroke="#ff0000"/><polyline points="72.00,435.50 73.40,427.10 74.80,435.50" stroke="#ff0000"/><polyline points="75.40,435.50 76.80,425.40 78.20,435.50" stroke="#ff0000"/><polyline points="79.70,435.50 81.10,421.10 82.50,435.50" stroke="#ff0000"/><polyline points="83.40,435.50 84.90,417.30 86.40,435.50" stroke="#ff0000"/><polyline points="87.40,435.50 88.80,419.00 90.20,435.50" stroke="#ff0000"/><polyline points="91.80,435.50 93.10,423.70 94.40,435.50" stroke="#ff0000"/><polyline points="95.20,435.50 96.50,426.20 97.80,435.50" stroke="#ff0000"/><polyline points="98.70,435.50 100.00,422.80 101.30,435.50" stroke="#ff0000"/></g><rect x="35.6" y="357.0" width="300.2" height="82.4" fill="none" stroke="#000" stroke-width="0.8"/><rect x="38.6" y="360.4" width="90.7" height="25.6" rx="1.6" fill="#fff" fill-opacity="0.8" stroke="#ccc" stroke-width="0.8"/><path d="M41.4,367.0 H58.6" stroke="#0000ff" stroke-width="2"/><path d="M41.4,378.0 H58.6" stroke="#ff0000" stroke-width="2"/><g font-family="Liberation Sans, sans-serif" fill="#000" stroke="#000" stroke-width="0.15"><text x="63.9" y="369.8" font-size="7.6" text-anchor="start" textLength="57.8" lengthAdjust="spacingAndGlyphs">Flywheel mode</text><text x="63.9" y="380.7" font-size="7.6" text-anchor="start" textLength="62.2" lengthAdjust="spacingAndGlyphs">Pendulum mode</text></g><g font-family="Liberation Sans, sans-serif" fill="#111" stroke="#111" stroke-width="0.12"><text x="48.50" y="351.1" font-size="7.2" text-anchor="middle" textLength="4.5" lengthAdjust="spacingAndGlyphs">0</text><text x="48.50" y="450.6" font-size="7.2" text-anchor="middle" textLength="4.5" lengthAdjust="spacingAndGlyphs">0</text><text x="87.50" y="351.1" font-size="7.2" text-anchor="middle" textLength="4.5" lengthAdjust="spacingAndGlyphs">1</text><text x="87.50" y="450.6" font-size="7.2" text-anchor="middle" textLength="4.5" lengthAdjust="spacingAndGlyphs">1</text><text x="126.50" y="351.1" font-size="7.2" text-anchor="middle" textLength="4.5" lengthAdjust="spacingAndGlyphs">2</text><text x="126.50" y="450.6" font-size="7.2" text-anchor="middle" textLength="4.5" lengthAdjust="spacingAndGlyphs">2</text><text x="165.50" y="351.1" font-size="7.2" text-anchor="middle" textLength="4.5" lengthAdjust="spacingAndGlyphs">3</text><text x="165.50" y="450.6" font-size="7.2" text-anchor="middle" textLength="4.5" lengthAdjust="spacingAndGlyphs">3</text><text x="204.50" y="351.1" font-size="7.2" text-anchor="middle" textLength="4.5" lengthAdjust="spacingAndGlyphs">4</text><text x="204.50" y="450.6" font-size="7.2" text-anchor="middle" textLength="4.5" lengthAdjust="spacingAndGlyphs">4</text><text x="243.50" y="351.1" font-size="7.2" text-anchor="middle" textLength="4.5" lengthAdjust="spacingAndGlyphs">5</text><text x="243.50" y="450.6" font-size="7.2" text-anchor="middle" textLength="4.5" lengthAdjust="spacingAndGlyphs">5</text><text x="282.50" y="351.1" font-size="7.2" text-anchor="middle" textLength="4.5" lengthAdjust="spacingAndGlyphs">6</text><text x="282.50" y="450.6" font-size="7.2" text-anchor="middle" textLength="4.5" lengthAdjust="spacingAndGlyphs">6</text><text x="321.50" y="351.1" font-size="7.2" text-anchor="middle" textLength="4.5" lengthAdjust="spacingAndGlyphs">7</text><text x="321.50" y="450.6" font-size="7.2" text-anchor="middle" textLength="4.5" lengthAdjust="spacingAndGlyphs">7</text><text x="28.9" y="325.90" font-size="7.2" text-anchor="end" textLength="11.0" lengthAdjust="spacingAndGlyphs">0.0</text><text x="28.9" y="306.33" font-size="7.2" text-anchor="end" textLength="11.0" lengthAdjust="spacingAndGlyphs">2.5</text><text x="28.9" y="286.75" font-size="7.2" text-anchor="end" textLength="11.0" lengthAdjust="spacingAndGlyphs">5.0</text><text x="28.9" y="267.18" font-size="7.2" text-anchor="end" textLength="11.0" lengthAdjust="spacingAndGlyphs">7.5</text><text x="28.9" y="438.60" font-size="7.2" text-anchor="end" textLength="11.0" lengthAdjust="spacingAndGlyphs">0.0</text><text x="28.9" y="408.40" font-size="7.2" text-anchor="end" textLength="11.0" lengthAdjust="spacingAndGlyphs">0.2</text><text x="28.9" y="378.20" font-size="7.2" text-anchor="end" textLength="11.0" lengthAdjust="spacingAndGlyphs">0.4</text></g><g font-family="Liberation Sans, sans-serif" fill="#000" stroke="#000" stroke-width="0.22"><text x="185.7" y="463.5" font-size="9.6" text-anchor="middle" textLength="38.2" lengthAdjust="spacingAndGlyphs">Time (s)</text><text transform="translate(11.0,298.4) rotate(-90)" font-size="8.8" text-anchor="middle" textLength="85.2" lengthAdjust="spacingAndGlyphs">Angle position (rad)</text><text transform="translate(12.0,400.8) rotate(-90)" font-size="9.4" text-anchor="middle" textLength="111.8" lengthAdjust="spacingAndGlyphs">Instantaneous power (W)</text></g><text x="174.8" y="487.0" font-family="Liberation Serif, serif" font-size="14" text-anchor="middle" textLength="15.6" lengthAdjust="spacingAndGlyphs" stroke="#000" stroke-width="0.4">(b)</text></g></svg></body></html>
